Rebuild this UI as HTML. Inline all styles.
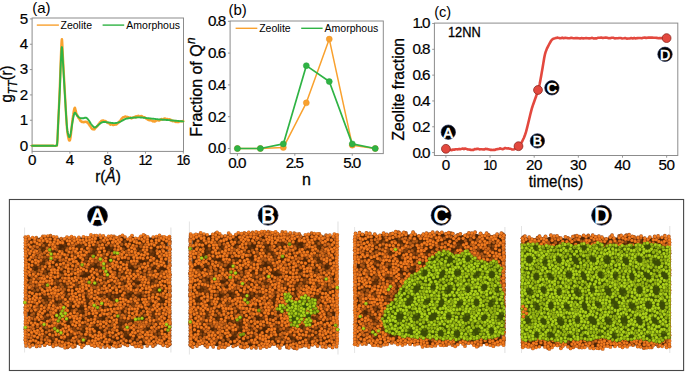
<!DOCTYPE html>
<html><head><meta charset="utf-8"><title>Figure</title><style>html,body{margin:0;padding:0;background:#fff}</style></head><body>
<svg width="685" height="373" viewBox="0 0 685 373" font-family='"Liberation Sans", sans-serif' style="display:block">
<rect width="685" height="373" fill="#fff"/>
<rect x="32.1" y="18.0" width="151.40" height="133.40" fill="none" stroke="#8c8c8c" stroke-width="1"/>
<line x1="32.10" y1="151.4" x2="32.10" y2="153.6" stroke="#8c8c8c" stroke-width="0.9"/>
<text transform="translate(31.91,165.40) scale(1.085,1)" stroke="#000" stroke-width="0.2" font-size="14.0" text-anchor="middle" letter-spacing="-0.35" fill="#000">0</text>
<line x1="69.90" y1="151.4" x2="69.90" y2="153.6" stroke="#8c8c8c" stroke-width="0.9"/>
<text transform="translate(69.71,165.40) scale(1.085,1)" stroke="#000" stroke-width="0.2" font-size="14.0" text-anchor="middle" letter-spacing="-0.35" fill="#000">4</text>
<line x1="107.70" y1="151.4" x2="107.70" y2="153.6" stroke="#8c8c8c" stroke-width="0.9"/>
<text transform="translate(107.51,165.40) scale(1.085,1)" stroke="#000" stroke-width="0.2" font-size="14.0" text-anchor="middle" letter-spacing="-0.35" fill="#000">8</text>
<line x1="145.50" y1="151.4" x2="145.50" y2="153.6" stroke="#8c8c8c" stroke-width="0.9"/>
<text transform="translate(144.87,165.40) scale(0.97,1)" stroke="#000" stroke-width="0.2" font-size="14.0" text-anchor="middle" letter-spacing="-1.3" fill="#000">12</text>
<line x1="183.30" y1="151.4" x2="183.30" y2="153.6" stroke="#8c8c8c" stroke-width="0.9"/>
<text transform="translate(182.67,165.40) scale(0.97,1)" stroke="#000" stroke-width="0.2" font-size="14.0" text-anchor="middle" letter-spacing="-1.3" fill="#000">16</text>
<line x1="29.900000000000002" y1="145.60" x2="32.1" y2="145.60" stroke="#8c8c8c" stroke-width="0.9"/>
<text transform="translate(26.70,150.50) scale(1.085,1)" stroke="#000" stroke-width="0.2" font-size="14.0" text-anchor="end" letter-spacing="-1.38" fill="#000">0</text>
<line x1="29.900000000000002" y1="120.26" x2="32.1" y2="120.26" stroke="#8c8c8c" stroke-width="0.9"/>
<text transform="translate(26.70,125.16) scale(1.085,1)" stroke="#000" stroke-width="0.2" font-size="14.0" text-anchor="end" letter-spacing="-1.38" fill="#000">1</text>
<line x1="29.900000000000002" y1="94.92" x2="32.1" y2="94.92" stroke="#8c8c8c" stroke-width="0.9"/>
<text transform="translate(26.70,99.82) scale(1.085,1)" stroke="#000" stroke-width="0.2" font-size="14.0" text-anchor="end" letter-spacing="-1.38" fill="#000">2</text>
<line x1="29.900000000000002" y1="69.58" x2="32.1" y2="69.58" stroke="#8c8c8c" stroke-width="0.9"/>
<text transform="translate(26.70,74.48) scale(1.085,1)" stroke="#000" stroke-width="0.2" font-size="14.0" text-anchor="end" letter-spacing="-1.38" fill="#000">3</text>
<line x1="29.900000000000002" y1="44.24" x2="32.1" y2="44.24" stroke="#8c8c8c" stroke-width="0.9"/>
<text transform="translate(26.70,49.14) scale(1.085,1)" stroke="#000" stroke-width="0.2" font-size="14.0" text-anchor="end" letter-spacing="-1.38" fill="#000">4</text>
<line x1="29.900000000000002" y1="18.90" x2="32.1" y2="18.90" stroke="#8c8c8c" stroke-width="0.9"/>
<text transform="translate(26.70,23.80) scale(1.085,1)" stroke="#000" stroke-width="0.2" font-size="14.0" text-anchor="end" letter-spacing="-1.38" fill="#000">5</text>
<polyline points="32.10,145.70 33.56,145.70 35.60,145.70 38.02,145.70 40.68,145.70 43.37,145.70 45.94,145.70 48.21,145.70 50.00,145.70 51.35,145.72 52.45,145.76 53.33,145.82 54.04,145.87 54.62,145.90 55.12,145.89 55.56,145.83 56.00,145.70 56.38,145.60 56.64,145.57 56.81,145.56 56.92,145.47 56.98,145.25 57.03,144.81 57.10,144.09 57.20,143.00 57.32,141.60 57.43,139.97 57.53,138.12 57.62,136.02 57.72,133.67 57.83,131.05 57.96,128.17 58.10,125.00 58.27,121.42 58.46,117.40 58.67,113.03 58.88,108.44 59.10,103.73 59.31,99.01 59.51,94.40 59.70,90.00 59.87,85.68 60.03,81.25 60.19,76.81 60.34,72.42 60.48,68.17 60.62,64.13 60.76,60.38 60.90,57.00 61.03,53.80 61.16,50.65 61.29,47.65 61.41,44.92 61.53,42.60 61.65,40.79 61.78,39.62 61.90,39.20 62.02,39.62 62.13,40.79 62.24,42.60 62.35,44.93 62.47,47.65 62.59,50.65 62.74,53.80 62.90,57.00 63.08,60.38 63.29,64.11 63.50,68.13 63.73,72.36 63.97,76.74 64.21,81.18 64.46,85.63 64.70,90.00 64.95,94.53 65.22,99.38 65.50,104.38 65.77,109.38 66.05,114.20 66.32,118.69 66.57,122.68 66.80,126.00 67.01,128.62 67.20,130.68 67.39,132.28 67.56,133.53 67.72,134.52 67.88,135.36 68.04,136.15 68.20,137.00 68.36,137.85 68.51,138.59 68.66,139.21 68.81,139.71 68.96,140.10 69.10,140.38 69.25,140.55 69.40,140.60 69.55,140.59 69.68,140.52 69.82,140.37 69.96,140.09 70.10,139.65 70.25,139.01 70.42,138.14 70.60,137.00 70.80,135.48 71.02,133.57 71.25,131.37 71.49,129.01 71.74,126.58 71.99,124.19 72.25,121.79 72.50,119.65 72.75,118.32 73.02,115.88 73.28,114.52 73.55,112.63 73.82,110.77 74.08,109.92 74.35,108.46 74.60,108.23 74.84,107.71 75.06,107.98 75.28,108.90 75.49,110.12 75.72,110.37 75.95,111.47 76.21,112.82 76.50,113.95 76.82,114.31 77.17,114.92 77.54,116.31 77.93,116.20 78.33,117.82 78.72,118.00 79.12,118.55 79.50,119.12 79.87,119.83 80.24,120.80 80.60,120.57 80.97,121.33 81.34,121.70 81.71,121.69 82.10,122.08 82.50,121.76 82.92,121.84 83.36,121.97 83.82,122.37 84.28,121.99 84.74,121.75 85.18,121.91 85.61,121.72 86.00,121.60 86.36,122.19 86.70,122.22 87.01,121.93 87.31,122.45 87.61,122.63 87.90,123.24 88.19,123.39 88.50,123.29 88.81,124.39 89.12,124.01 89.42,124.85 89.73,125.75 90.04,125.71 90.35,126.59 90.67,126.63 91.00,127.67 91.33,128.13 91.67,128.29 92.01,128.93 92.36,128.66 92.71,129.28 93.06,129.34 93.43,129.40 93.80,129.26 94.17,129.50 94.54,129.36 94.91,128.55 95.29,128.34 95.68,127.28 96.09,127.42 96.53,126.86 97.00,126.69 97.51,125.95 98.06,124.74 98.63,124.11 99.23,123.65 99.83,122.29 100.43,122.08 101.03,121.25 101.60,120.82 102.16,120.54 102.72,121.14 103.28,120.50 103.84,120.69 104.39,120.96 104.93,121.60 105.47,121.00 106.00,121.55 106.52,121.86 107.03,122.48 107.53,122.73 108.03,123.13 108.52,122.89 109.01,123.37 109.50,123.61 110.00,124.38 110.50,124.67 111.00,124.07 111.50,124.29 112.00,124.51 112.50,124.64 113.00,124.98 113.50,125.12 114.00,124.76 114.50,124.41 115.01,124.68 115.52,124.43 116.03,124.38 116.54,124.48 117.04,123.90 117.52,123.38 118.00,123.12 118.46,122.76 118.91,121.65 119.36,121.96 119.79,121.28 120.22,120.82 120.65,120.20 121.08,119.31 121.50,118.90 121.92,118.24 122.33,118.43 122.73,117.55 123.14,117.28 123.54,117.18 123.95,116.93 124.37,116.95 124.80,116.55 125.24,116.45 125.69,116.63 126.14,116.65 126.59,117.02 127.06,116.81 127.53,117.78 128.01,117.64 128.50,117.25 129.00,117.42 129.52,117.58 130.06,117.67 130.59,117.49 131.13,118.27 131.67,118.44 132.19,117.91 132.70,117.88 133.19,117.39 133.67,117.27 134.15,117.34 134.61,117.06 135.08,117.43 135.55,116.57 136.02,116.26 136.50,117.05 136.99,116.51 137.47,116.02 137.96,116.31 138.46,115.70 138.95,116.13 139.46,116.54 139.97,116.42 140.50,116.30 141.04,115.94 141.59,116.17 142.15,116.13 142.72,116.92 143.29,116.89 143.86,117.37 144.43,117.17 145.00,117.32 145.57,118.21 146.13,118.72 146.71,118.97 147.28,119.31 147.84,119.70 148.40,119.98 148.96,119.78 149.50,120.32 150.03,120.35 150.55,120.17 151.05,120.29 151.56,120.63 152.06,120.67 152.56,121.15 153.08,121.44 153.60,120.95 154.14,121.44 154.69,121.47 155.25,121.39 155.81,120.74 156.37,120.52 156.92,120.44 157.47,120.31 158.00,120.20 158.52,120.49 159.03,120.61 159.54,120.37 160.04,119.82 160.53,119.81 161.02,119.78 161.51,118.91 162.00,119.36 162.48,119.51 162.95,119.29 163.42,119.17 163.89,118.83 164.35,118.49 164.83,119.07 165.31,118.61 165.80,119.10 166.31,119.33 166.83,118.84 167.35,118.96 167.89,119.63 168.42,119.56 168.95,119.16 169.48,119.27 170.00,119.45 170.51,120.37 171.01,120.45 171.51,119.98 172.01,120.86 172.51,121.20 173.00,121.06 173.50,120.92 174.00,121.25 174.49,120.94 174.97,120.93 175.44,121.97 175.92,121.72 176.40,121.65 176.91,122.10 177.44,121.63 178.00,122.07 178.64,122.01 179.36,121.34 180.13,121.32 180.90,121.27 181.64,121.14 182.32,121.40 182.88,121.00 183.30,121.12" fill="none" stroke="#f9a12e" stroke-width="2.4" stroke-linejoin="round" stroke-linecap="round" />
<polyline points="32.10,145.70 33.56,145.70 35.60,145.70 38.02,145.70 40.68,145.70 43.37,145.70 45.94,145.70 48.21,145.70 50.00,145.70 51.35,145.72 52.45,145.76 53.33,145.82 54.04,145.87 54.62,145.90 55.12,145.89 55.56,145.83 56.00,145.70 56.38,145.60 56.64,145.57 56.81,145.56 56.92,145.47 56.98,145.25 57.03,144.81 57.10,144.09 57.20,143.00 57.32,141.60 57.43,139.97 57.52,138.12 57.62,136.02 57.72,133.67 57.83,131.05 57.95,128.17 58.10,125.00 58.28,121.40 58.48,117.30 58.71,112.86 58.94,108.19 59.17,103.43 59.40,98.73 59.61,94.20 59.80,90.00 59.97,85.98 60.12,81.97 60.26,78.02 60.39,74.18 60.52,70.51 60.65,67.05 60.77,63.86 60.90,61.00 61.03,58.35 61.16,55.81 61.28,53.46 61.41,51.37 61.53,49.61 61.65,48.27 61.78,47.40 61.90,47.10 62.02,47.40 62.13,48.27 62.24,49.61 62.36,51.37 62.47,53.46 62.60,55.81 62.74,58.35 62.90,61.00 63.08,63.86 63.26,67.05 63.46,70.51 63.67,74.18 63.90,78.02 64.12,81.97 64.36,85.98 64.60,90.00 64.86,94.26 65.13,98.93 65.42,103.81 65.72,108.72 66.01,113.48 66.29,117.90 66.56,121.80 66.80,125.00 67.01,127.45 67.21,129.33 67.39,130.73 67.56,131.78 67.72,132.56 67.88,133.21 68.04,133.82 68.20,134.50 68.36,135.19 68.51,135.77 68.66,136.23 68.81,136.59 68.96,136.85 69.10,137.01 69.25,137.09 69.40,137.10 69.55,137.05 69.68,136.93 69.82,136.75 69.96,136.46 70.10,136.06 70.25,135.53 70.42,134.85 70.60,134.00 70.80,132.91 71.02,131.56 71.25,130.02 71.49,128.38 71.74,126.68 71.99,125.00 72.25,123.42 72.50,122.00 72.75,120.64 73.00,119.25 73.26,117.86 73.52,116.54 73.78,115.33 74.05,114.28 74.32,113.46 74.60,112.90 74.88,112.67 75.17,112.73 75.46,113.03 75.75,113.48 76.05,114.03 76.36,114.59 76.67,115.10 77.00,115.50 77.34,115.82 77.69,116.16 78.04,116.50 78.41,116.84 78.78,117.16 79.15,117.45 79.52,117.70 79.90,117.90 80.28,118.05 80.66,118.16 81.05,118.24 81.44,118.29 81.84,118.31 82.23,118.32 82.62,118.31 83.00,118.30 83.38,118.25 83.77,118.15 84.15,118.02 84.54,117.88 84.92,117.76 85.29,117.67 85.65,117.64 86.00,117.70 86.33,117.83 86.65,118.02 86.95,118.25 87.25,118.53 87.55,118.85 87.85,119.20 88.17,119.59 88.50,120.00 88.85,120.47 89.21,121.01 89.58,121.59 89.96,122.21 90.34,122.83 90.72,123.43 91.11,123.99 91.50,124.50 91.89,124.98 92.28,125.48 92.68,125.96 93.08,126.42 93.48,126.82 93.89,127.15 94.29,127.38 94.70,127.50 95.10,127.48 95.49,127.34 95.88,127.10 96.27,126.78 96.67,126.42 97.09,126.04 97.53,125.65 98.00,125.30 98.50,124.93 99.02,124.51 99.56,124.06 100.11,123.60 100.69,123.16 101.28,122.76 101.88,122.44 102.50,122.20 103.13,122.06 103.78,122.01 104.44,122.01 105.11,122.06 105.81,122.14 106.52,122.24 107.25,122.33 108.00,122.40 108.79,122.48 109.62,122.59 110.49,122.71 111.36,122.84 112.24,122.96 113.10,123.05 113.92,123.10 114.70,123.10 115.43,123.04 116.11,122.95 116.77,122.83 117.41,122.67 118.04,122.49 118.68,122.28 119.33,122.05 120.00,121.80 120.69,121.50 121.38,121.15 122.08,120.75 122.79,120.34 123.50,119.93 124.22,119.54 124.96,119.19 125.70,118.90 126.45,118.67 127.20,118.48 127.96,118.32 128.73,118.19 129.52,118.08 130.32,117.98 131.15,117.89 132.00,117.80 132.90,117.71 133.84,117.63 134.81,117.55 135.79,117.49 136.78,117.45 137.75,117.41 138.70,117.40 139.60,117.40 140.45,117.43 141.26,117.48 142.04,117.54 142.80,117.63 143.56,117.72 144.34,117.81 145.15,117.91 146.00,118.00 146.90,118.09 147.84,118.19 148.81,118.29 149.80,118.39 150.79,118.50 151.76,118.60 152.70,118.70 153.60,118.80 154.45,118.89 155.26,118.99 156.04,119.08 156.81,119.17 157.57,119.26 158.35,119.34 159.16,119.42 160.00,119.50 160.88,119.57 161.80,119.63 162.73,119.69 163.68,119.75 164.64,119.81 165.60,119.87 166.55,119.93 167.50,120.00 168.43,120.08 169.36,120.16 170.28,120.25 171.20,120.34 172.13,120.43 173.07,120.52 174.02,120.61 175.00,120.70 176.06,120.79 177.21,120.89 178.42,120.99 179.62,121.09 180.76,121.19 181.79,121.27 182.65,121.35 183.30,121.40" fill="none" stroke="#2fb344" stroke-width="1.9" stroke-linejoin="round" stroke-linecap="round" />
<line x1="36.8" y1="25.1" x2="58.9" y2="25.1" stroke="#f9a12e" stroke-width="1.4"/>
<text x="60.50" y="28.60" font-size="10.5" text-anchor="start" fill="#000" >Zeolite</text>
<line x1="102.6" y1="25.1" x2="124.2" y2="25.1" stroke="#2fb344" stroke-width="1.4"/>
<text x="126.30" y="28.60" font-size="10.5" text-anchor="start" fill="#000" >Amorphous</text>
<text x="32.20" y="12.70" font-size="15" text-anchor="start" fill="#000" >(a)</text>
<text transform="translate(108,181.6) scale(0.91,1)" font-size="16.9" text-anchor="middle" fill="#000" stroke="#000" stroke-width="0.3">r(<tspan font-style="italic">Å</tspan>)</text>
<text transform="translate(12.4,84.0) rotate(-90) scale(0.87,1)" font-size="16.9" text-anchor="middle" fill="#000" stroke="#000" stroke-width="0.3">g<tspan font-size="12.6" font-style="italic" dy="4.2" letter-spacing="0.3">TT</tspan><tspan dy="-4.2">(r)</tspan></text>
<rect x="230.1" y="21.0" width="153.20" height="132.60" fill="none" stroke="#8c8c8c" stroke-width="1"/>
<line x1="237.40" y1="153.6" x2="237.40" y2="155.79999999999998" stroke="#8c8c8c" stroke-width="0.9"/>
<text transform="translate(236.65,167.60) scale(1.085,1)" stroke="#000" stroke-width="0.2" font-size="14.0" text-anchor="middle" letter-spacing="-1.38" fill="#000">0.0</text>
<line x1="294.82" y1="153.6" x2="294.82" y2="155.79999999999998" stroke="#8c8c8c" stroke-width="0.9"/>
<text transform="translate(294.08,167.60) scale(1.085,1)" stroke="#000" stroke-width="0.2" font-size="14.0" text-anchor="middle" letter-spacing="-1.38" fill="#000">2.5</text>
<line x1="352.25" y1="153.6" x2="352.25" y2="155.79999999999998" stroke="#8c8c8c" stroke-width="0.9"/>
<text transform="translate(351.50,167.60) scale(1.085,1)" stroke="#000" stroke-width="0.2" font-size="14.0" text-anchor="middle" letter-spacing="-1.38" fill="#000">5.0</text>
<line x1="227.9" y1="148.50" x2="230.1" y2="148.50" stroke="#8c8c8c" stroke-width="0.9"/>
<text transform="translate(224.70,153.40) scale(1.085,1)" stroke="#000" stroke-width="0.2" font-size="14.0" text-anchor="end" letter-spacing="-1.38" fill="#000">0.0</text>
<line x1="227.9" y1="116.70" x2="230.1" y2="116.70" stroke="#8c8c8c" stroke-width="0.9"/>
<text transform="translate(224.70,121.60) scale(1.085,1)" stroke="#000" stroke-width="0.2" font-size="14.0" text-anchor="end" letter-spacing="-1.38" fill="#000">0.2</text>
<line x1="227.9" y1="84.90" x2="230.1" y2="84.90" stroke="#8c8c8c" stroke-width="0.9"/>
<text transform="translate(224.70,89.80) scale(1.085,1)" stroke="#000" stroke-width="0.2" font-size="14.0" text-anchor="end" letter-spacing="-1.38" fill="#000">0.4</text>
<line x1="227.9" y1="53.10" x2="230.1" y2="53.10" stroke="#8c8c8c" stroke-width="0.9"/>
<text transform="translate(224.70,58.00) scale(1.085,1)" stroke="#000" stroke-width="0.2" font-size="14.0" text-anchor="end" letter-spacing="-1.38" fill="#000">0.6</text>
<line x1="227.9" y1="21.30" x2="230.1" y2="21.30" stroke="#8c8c8c" stroke-width="0.9"/>
<text transform="translate(224.70,26.20) scale(1.085,1)" stroke="#000" stroke-width="0.2" font-size="14.0" text-anchor="end" letter-spacing="-1.38" fill="#000">0.8</text>
<polyline points="237.40,148.50 260.37,148.50 283.34,147.55 306.31,102.87 329.28,39.11 352.25,145.16 375.22,148.50" fill="none" stroke="#f9a12e" stroke-width="1.5" stroke-linejoin="round" stroke-linecap="round" />
<circle cx="237.40" cy="148.50" r="3.0" fill="#f9a12e" stroke="#e8942a" stroke-width="0.5"/>
<circle cx="260.37" cy="148.50" r="3.0" fill="#f9a12e" stroke="#e8942a" stroke-width="0.5"/>
<circle cx="283.34" cy="147.55" r="3.0" fill="#f9a12e" stroke="#e8942a" stroke-width="0.5"/>
<circle cx="306.31" cy="102.87" r="3.0" fill="#f9a12e" stroke="#e8942a" stroke-width="0.5"/>
<circle cx="329.28" cy="39.11" r="3.0" fill="#f9a12e" stroke="#e8942a" stroke-width="0.5"/>
<circle cx="352.25" cy="145.16" r="3.0" fill="#f9a12e" stroke="#e8942a" stroke-width="0.5"/>
<circle cx="375.22" cy="148.50" r="3.0" fill="#f9a12e" stroke="#e8942a" stroke-width="0.5"/>
<polyline points="237.40,148.50 260.37,148.50 283.34,143.89 306.31,65.66 329.28,81.56 352.25,143.89 375.22,148.50" fill="none" stroke="#2fb344" stroke-width="1.7" stroke-linejoin="round" stroke-linecap="round" />
<circle cx="237.40" cy="148.50" r="3.0" fill="#2fb344" stroke="#28a03c" stroke-width="0.5"/>
<circle cx="260.37" cy="148.50" r="3.0" fill="#2fb344" stroke="#28a03c" stroke-width="0.5"/>
<circle cx="283.34" cy="143.89" r="3.0" fill="#2fb344" stroke="#28a03c" stroke-width="0.5"/>
<circle cx="306.31" cy="65.66" r="3.0" fill="#2fb344" stroke="#28a03c" stroke-width="0.5"/>
<circle cx="329.28" cy="81.56" r="3.0" fill="#2fb344" stroke="#28a03c" stroke-width="0.5"/>
<circle cx="352.25" cy="143.89" r="3.0" fill="#2fb344" stroke="#28a03c" stroke-width="0.5"/>
<circle cx="375.22" cy="148.50" r="3.0" fill="#2fb344" stroke="#28a03c" stroke-width="0.5"/>
<line x1="235.6" y1="28.3" x2="257.3" y2="28.3" stroke="#f9a12e" stroke-width="1.4"/>
<text x="259.20" y="31.80" font-size="10.5" text-anchor="start" fill="#000" >Zeolite</text>
<line x1="301.2" y1="28.3" x2="322.6" y2="28.3" stroke="#2fb344" stroke-width="1.4"/>
<text x="324.60" y="31.80" font-size="10.5" text-anchor="start" fill="#000" >Amorphous</text>
<text x="228.40" y="14.50" font-size="15" text-anchor="start" fill="#000" >(b)</text>
<text transform="translate(306.4,185.1) scale(0.95,1)" font-size="16.9" text-anchor="middle" fill="#000" stroke="#000" stroke-width="0.3">n</text>
<text transform="translate(201.5,87.0) rotate(-90) scale(0.945,1)" font-size="16.9" text-anchor="middle" fill="#000" stroke="#000" stroke-width="0.3">Fraction of Q<tspan font-size="12.5" font-style="italic" dy="-6.5" dx="0.5">n</tspan></text>
<rect x="434.4" y="23.1" width="243.40" height="132.40" fill="none" stroke="#8c8c8c" stroke-width="1"/>
<line x1="445.90" y1="155.5" x2="445.90" y2="157.7" stroke="#8c8c8c" stroke-width="0.9"/>
<text transform="translate(445.71,169.50) scale(1.085,1)" stroke="#000" stroke-width="0.2" font-size="14.0" text-anchor="middle" letter-spacing="-0.35" fill="#000">0</text>
<line x1="490.05" y1="155.5" x2="490.05" y2="157.7" stroke="#8c8c8c" stroke-width="0.9"/>
<text transform="translate(489.42,169.50) scale(0.97,1)" stroke="#000" stroke-width="0.2" font-size="14.0" text-anchor="middle" letter-spacing="-1.3" fill="#000">10</text>
<line x1="534.20" y1="155.5" x2="534.20" y2="157.7" stroke="#8c8c8c" stroke-width="0.9"/>
<text transform="translate(534.01,169.50) scale(1.085,1)" stroke="#000" stroke-width="0.2" font-size="14.0" text-anchor="middle" letter-spacing="-0.35" fill="#000">20</text>
<line x1="578.35" y1="155.5" x2="578.35" y2="157.7" stroke="#8c8c8c" stroke-width="0.9"/>
<text transform="translate(578.16,169.50) scale(1.085,1)" stroke="#000" stroke-width="0.2" font-size="14.0" text-anchor="middle" letter-spacing="-0.35" fill="#000">30</text>
<line x1="622.50" y1="155.5" x2="622.50" y2="157.7" stroke="#8c8c8c" stroke-width="0.9"/>
<text transform="translate(622.31,169.50) scale(1.085,1)" stroke="#000" stroke-width="0.2" font-size="14.0" text-anchor="middle" letter-spacing="-0.35" fill="#000">40</text>
<line x1="666.65" y1="155.5" x2="666.65" y2="157.7" stroke="#8c8c8c" stroke-width="0.9"/>
<text transform="translate(666.46,169.50) scale(1.085,1)" stroke="#000" stroke-width="0.2" font-size="14.0" text-anchor="middle" letter-spacing="-0.35" fill="#000">50</text>
<line x1="432.2" y1="152.60" x2="434.4" y2="152.60" stroke="#8c8c8c" stroke-width="0.9"/>
<text transform="translate(429.00,157.50) scale(1.085,1)" stroke="#000" stroke-width="0.2" font-size="14.0" text-anchor="end" letter-spacing="-1.38" fill="#000">0.0</text>
<line x1="432.2" y1="126.78" x2="434.4" y2="126.78" stroke="#8c8c8c" stroke-width="0.9"/>
<text transform="translate(429.00,131.68) scale(1.085,1)" stroke="#000" stroke-width="0.2" font-size="14.0" text-anchor="end" letter-spacing="-1.38" fill="#000">0.2</text>
<line x1="432.2" y1="100.96" x2="434.4" y2="100.96" stroke="#8c8c8c" stroke-width="0.9"/>
<text transform="translate(429.00,105.86) scale(1.085,1)" stroke="#000" stroke-width="0.2" font-size="14.0" text-anchor="end" letter-spacing="-1.38" fill="#000">0.4</text>
<line x1="432.2" y1="75.14" x2="434.4" y2="75.14" stroke="#8c8c8c" stroke-width="0.9"/>
<text transform="translate(429.00,80.04) scale(1.085,1)" stroke="#000" stroke-width="0.2" font-size="14.0" text-anchor="end" letter-spacing="-1.38" fill="#000">0.6</text>
<line x1="432.2" y1="49.32" x2="434.4" y2="49.32" stroke="#8c8c8c" stroke-width="0.9"/>
<text transform="translate(429.00,54.22) scale(1.085,1)" stroke="#000" stroke-width="0.2" font-size="14.0" text-anchor="end" letter-spacing="-1.38" fill="#000">0.8</text>
<line x1="432.2" y1="23.50" x2="434.4" y2="23.50" stroke="#8c8c8c" stroke-width="0.9"/>
<text transform="translate(429.00,28.40) scale(1.085,1)" stroke="#000" stroke-width="0.2" font-size="14.0" text-anchor="end" letter-spacing="-1.38" fill="#000">1.0</text>
<polyline points="445.90,148.80 447.10,149.64 448.30,149.41 449.50,149.72 450.70,149.89 451.90,150.10 453.10,149.43 454.30,149.75 455.50,149.25 456.70,149.29 457.90,149.36 459.10,148.90 460.30,149.28 461.50,148.88 462.70,148.50 463.90,149.12 465.10,148.44 466.30,148.87 467.50,149.40 468.70,149.56 469.90,149.62 471.10,149.94 472.30,149.92 473.50,149.93 474.70,148.98 475.90,149.21 477.10,148.79 478.30,148.84 479.50,149.43 480.70,149.25 481.90,149.31 483.10,149.42 484.30,149.45 485.50,148.89 486.70,149.09 487.90,149.15 489.10,149.44 490.30,149.91 491.50,149.87 492.70,149.96 493.90,149.71 495.10,149.84 496.30,149.23 497.50,149.12 498.70,149.04 499.90,148.35 501.10,148.71 502.30,149.13 503.50,148.99 504.70,148.14 505.90,148.14 507.10,148.54 508.30,148.32 509.50,148.70 510.70,148.74 511.90,149.46 513.10,149.50 514.30,149.31 515.50,148.05 516.70,148.00 518.50,146.20 518.50,146.20 518.85,145.82 519.34,145.29 519.91,144.66 520.49,143.98 521.00,143.30 521.46,142.59 521.90,141.83 522.32,141.04 522.72,140.26 523.10,139.50 523.44,138.79 523.75,138.11 524.04,137.43 524.32,136.73 524.60,136.00 524.89,135.24 525.17,134.47 525.44,133.66 525.72,132.81 526.00,131.90 526.28,130.91 526.56,129.85 526.84,128.75 527.12,127.63 527.40,126.50 527.66,125.45 527.89,124.47 528.14,123.44 528.43,122.22 528.80,120.70 529.27,118.75 529.82,116.44 530.41,113.98 531.02,111.56 531.60,109.40 532.17,107.49 532.76,105.70 533.34,104.02 533.89,102.45 534.40,101.00 534.86,99.70 535.28,98.55 535.67,97.49 536.04,96.46 536.40,95.40 536.74,94.33 537.06,93.29 537.36,92.24 537.67,91.16 538.00,90.00 538.34,88.85 538.68,87.73 539.03,86.52 539.40,85.08 539.80,83.30 540.24,81.08 540.71,78.51 541.20,75.72 541.70,72.84 542.20,70.00 542.71,67.03 543.23,63.85 543.75,60.71 544.25,57.84 544.70,55.50 545.09,53.80 545.43,52.58 545.74,51.67 546.06,50.87 546.40,50.00 546.74,49.12 547.06,48.36 547.41,47.62 547.81,46.83 548.30,45.90 548.91,44.74 549.62,43.40 550.38,42.03 551.15,40.78 551.90,39.80 552.68,39.14 553.51,38.68 554.32,38.38 555.01,38.18 555.50,38.00 556.20,38.01 557.70,37.62 559.20,38.12 560.70,38.18 562.20,37.66 563.70,38.19 565.20,37.83 566.70,37.93 568.20,38.32 569.70,38.26 571.20,37.84 572.70,38.09 574.20,38.20 575.70,38.12 577.20,38.06 578.70,38.18 580.20,38.49 581.70,38.01 583.20,38.39 584.70,38.30 586.20,37.98 587.70,38.17 589.20,38.34 590.70,38.21 592.20,37.85 593.70,38.44 595.20,38.25 596.70,38.33 598.20,37.68 599.70,37.75 601.20,37.56 602.70,38.06 604.20,37.69 605.70,37.59 607.20,37.81 608.70,38.18 610.20,38.15 611.70,37.79 613.20,37.77 614.70,38.36 616.20,38.17 617.70,38.31 619.20,37.93 620.70,37.95 622.20,38.43 623.70,38.27 625.20,38.04 626.70,38.66 628.20,38.44 629.70,38.54 631.20,38.01 632.70,38.51 634.20,37.92 635.70,38.43 637.20,38.09 638.70,37.95 640.20,38.05 641.70,38.26 643.20,37.76 644.70,37.63 646.20,37.89 647.70,37.67 649.20,37.58 650.70,37.62 652.20,37.57 653.70,37.70 655.20,37.82 656.70,37.86 658.20,38.23 659.70,37.95 661.20,38.15 662.70,37.98 664.20,38.14 665.70,37.95 666.60,38.10" fill="none" stroke="#e3483e" stroke-width="2.6" stroke-linejoin="round" stroke-linecap="round" />
<circle cx="445.9" cy="148.8" r="4.4" fill="#e3483e" stroke="#8e2a22" stroke-width="0.8"/>
<circle cx="518.5" cy="146.2" r="4.4" fill="#e3483e" stroke="#8e2a22" stroke-width="0.8"/>
<circle cx="538.0" cy="90.0" r="4.4" fill="#e3483e" stroke="#8e2a22" stroke-width="0.8"/>
<circle cx="666.6" cy="38.1" r="4.4" fill="#e3483e" stroke="#8e2a22" stroke-width="0.8"/>
<circle cx="448.3" cy="132.2" r="7.2" fill="#000" stroke="#1b2a55" stroke-width="0.7"/>
<text transform="translate(448.3,137.60) scale(0.97,1)" font-size="14.5" text-anchor="middle" fill="#fff" stroke="#fff" stroke-width="0.72">A</text>
<circle cx="537.4" cy="140.9" r="7.2" fill="#000" stroke="#1b2a55" stroke-width="0.7"/>
<text transform="translate(537.4,146.30) scale(0.97,1)" font-size="14.5" text-anchor="middle" fill="#fff" stroke="#fff" stroke-width="0.72">B</text>
<circle cx="551.9" cy="87.8" r="7.2" fill="#000" stroke="#1b2a55" stroke-width="0.7"/>
<text transform="translate(551.9,93.20) scale(0.97,1)" font-size="14.5" text-anchor="middle" fill="#fff" stroke="#fff" stroke-width="0.72">C</text>
<circle cx="665.0" cy="54.3" r="7.2" fill="#000" stroke="#1b2a55" stroke-width="0.7"/>
<text transform="translate(665.0,59.70) scale(0.97,1)" font-size="14.5" text-anchor="middle" fill="#fff" stroke="#fff" stroke-width="0.72">D</text>
<text transform="translate(447.9,37.2) scale(0.89,1)" font-size="14.4" fill="#000" stroke="#000" stroke-width="0.3">12NN</text>
<text x="434.20" y="17.00" font-size="14.6" text-anchor="start" fill="#000" >(c)</text>
<text transform="translate(556,187.1) scale(0.89,1)" font-size="16.9" text-anchor="middle" fill="#000" stroke="#000" stroke-width="0.3">time(ns)</text>
<text transform="translate(404.3,89.2) rotate(-90) scale(0.925,1)" font-size="16.9" text-anchor="middle" fill="#000" stroke="#000" stroke-width="0.3">Zeolite fraction</text>
<rect x="9.4" y="199.5" width="674.2" height="171" fill="#fff" stroke="#474747" stroke-width="1.1"/>
<defs>
<radialGradient id="go0" cx="0.46" cy="0.44" r="0.56"><stop offset="0" stop-color="#f48627"/><stop offset="0.55" stop-color="#e97219"/><stop offset="1" stop-color="#8e3f0e"/></radialGradient>
<circle id="o0" r="1.85" fill="url(#go0)"/>
<radialGradient id="go1" cx="0.46" cy="0.44" r="0.56"><stop offset="0" stop-color="#d8701e"/><stop offset="0.55" stop-color="#ca6317"/><stop offset="1" stop-color="#7c380d"/></radialGradient>
<circle id="o1" r="1.85" fill="url(#go1)"/>
<radialGradient id="go2" cx="0.46" cy="0.44" r="0.56"><stop offset="0" stop-color="#b85e18"/><stop offset="0.55" stop-color="#aa5414"/><stop offset="1" stop-color="#7a3c0e"/></radialGradient>
<circle id="o2" r="1.85" fill="url(#go2)"/>
<radialGradient id="go3" cx="0.46" cy="0.44" r="0.56"><stop offset="0" stop-color="#904a12"/><stop offset="0.55" stop-color="#84400e"/><stop offset="1" stop-color="#5e300a"/></radialGradient>
<circle id="o3" r="1.85" fill="url(#go3)"/>
<radialGradient id="go4" cx="0.46" cy="0.44" r="0.56"><stop offset="0" stop-color="#6c360c"/><stop offset="0.55" stop-color="#623008"/><stop offset="1" stop-color="#482406"/></radialGradient>
<circle id="o4" r="1.85" fill="url(#go4)"/>
<radialGradient id="gg0" cx="0.46" cy="0.44" r="0.56"><stop offset="0" stop-color="#b6d822"/><stop offset="0.55" stop-color="#a3c715"/><stop offset="1" stop-color="#4e6808"/></radialGradient>
<circle id="g0" r="1.85" fill="url(#gg0)"/>
<radialGradient id="gg1" cx="0.46" cy="0.44" r="0.56"><stop offset="0" stop-color="#9cba16"/><stop offset="0.55" stop-color="#8dab10"/><stop offset="1" stop-color="#455c06"/></radialGradient>
<circle id="g1" r="1.85" fill="url(#gg1)"/>
<radialGradient id="gg2" cx="0.46" cy="0.44" r="0.56"><stop offset="0" stop-color="#84a010"/><stop offset="0.55" stop-color="#78920c"/><stop offset="1" stop-color="#485e06"/></radialGradient>
<circle id="g2" r="1.85" fill="url(#gg2)"/>
<radialGradient id="gg3" cx="0.46" cy="0.44" r="0.56"><stop offset="0" stop-color="#6c840c"/><stop offset="0.55" stop-color="#62780a"/><stop offset="1" stop-color="#3e5006"/></radialGradient>
<circle id="g3" r="1.85" fill="url(#gg3)"/>
<radialGradient id="gg4" cx="0.46" cy="0.44" r="0.56"><stop offset="0" stop-color="#566a08"/><stop offset="0.55" stop-color="#4c6006"/><stop offset="1" stop-color="#344404"/></radialGradient>
<circle id="g4" r="1.85" fill="url(#gg4)"/>
<g id="osheet"><path d="M3.4 5.2 L5.9 5.4 L8.4 6.1 L10.9 6.3 L13.4 5.8 L15.9 5.5 L18.4 4.8 L20.9 4.5 L23.4 3.7 L25.9 3.6 L28.4 4.4 L30.9 4.7 L33.4 5.6 L35.9 5.9 L38.4 6.2 L40.9 6.3 L43.4 6.2 L45.9 6 L48.4 5 L50.9 4.8 L53.4 5.5 L55.9 5.7 L58.4 5.2 L60.9 4.9 L63.4 4.3 L65.9 4.1 L68.4 3.8 L70.9 3.7 L73.4 3.9 L75.9 4 L78.4 3.9 L80.9 4 L83.4 5.1 L85.9 5.5 L88.4 5 L90.9 4.9 L93.4 4.8 L95.9 4.8 L98.4 4.3 L100.9 4.3 L103.4 5.5 L105.9 5.9 L108.4 4.8 L110.9 4.5 L113.4 5.3 L115.9 5.4 L118.4 4 L120.9 3.6 L123.4 4.2 L125.9 4.6 L128.4 5.2 L130.9 5.3 L133.4 4.1 L135.9 3.8 L138.4 4.9 L140.9 5.3 L143.4 5.2 L145.9 5.2 L146.6 113.5 L144.1 113.5 L141.6 112.6 L139.1 112.2 L136.6 112.4 L134.1 112.5 L131.6 113.2 L129.1 113.4 L126.6 113 L124.1 113 L121.6 113.7 L119.1 113.9 L116.6 113.6 L114.1 113.4 L111.6 113 L109.1 112.8 L106.6 112.5 L104.1 112.4 L101.6 112 L99.1 112 L96.6 113.2 L94.1 113.8 L91.6 114.2 L89.1 114.3 L86.6 114.2 L84.1 114.2 L81.6 114.1 L79.1 114 L76.6 114.2 L74.1 114.1 L71.6 113.2 L69.1 112.8 L66.6 112.3 L64.1 112.3 L61.6 113.5 L59.1 113.9 L56.6 113.2 L54.1 113.1 L51.6 114.2 L49.1 114.5 L46.6 114.5 L44.1 114.5 L41.6 114.5 L39.1 114.4 L36.6 113.4 L34.1 113.1 L31.6 114.1 L29.1 114.3 L26.6 112.8 L24.1 112.3 L21.6 112.7 L19.1 112.9 L16.6 113 L14.1 113.1 L11.6 113.7 L9.1 113.8 L6.6 113.7 L4.1 113.5Z" fill="#4a2406"/><use href="#o4" x="55.7" y="11.9"/><use href="#o4" x="120.8" y="12"/><use href="#o4" x="22.8" y="12"/><use href="#o4" x="137.2" y="12.1"/><use href="#o4" x="41.7" y="12.7"/><use href="#o4" x="58.1" y="14.1"/><use href="#o4" x="56" y="14.4"/><use href="#o4" x="45.3" y="14.6"/><use href="#o4" x="72.7" y="14.7"/><use href="#o4" x="22.5" y="15.2"/><use href="#o4" x="42.6" y="15.3"/><use href="#o4" x="18.1" y="15.4"/><use href="#o4" x="89" y="16"/><use href="#o4" x="39.9" y="16.9"/><use href="#o4" x="115.8" y="17"/><use href="#o4" x="71.8" y="17.5"/><use href="#o4" x="20.7" y="17.7"/><use href="#o4" x="86.9" y="18.2"/><use href="#o4" x="69.7" y="19.8"/><use href="#o4" x="29.3" y="20.3"/><use href="#o4" x="131.5" y="20.4"/><use href="#o4" x="128.5" y="22"/><use href="#o4" x="71.6" y="22"/><use href="#o4" x="131" y="22.5"/><use href="#o4" x="67.7" y="22.6"/><use href="#o4" x="66.1" y="23.5"/><use href="#o4" x="134.6" y="24"/><use href="#o4" x="39.5" y="24.3"/><use href="#o4" x="82.8" y="24.4"/><use href="#o4" x="20.6" y="27.4"/><use href="#o4" x="124" y="27.9"/><use href="#o4" x="102.4" y="29.4"/><use href="#o4" x="17.6" y="31"/><use href="#o4" x="20.6" y="31"/><use href="#o4" x="116.8" y="31"/><use href="#o4" x="34.7" y="31.4"/><use href="#o4" x="12.1" y="33.5"/><use href="#o4" x="107.9" y="33.6"/><use href="#o4" x="68.1" y="33.8"/><use href="#o4" x="132.9" y="34.8"/><use href="#o4" x="77" y="36.2"/><use href="#o4" x="9.9" y="36.3"/><use href="#o4" x="67" y="36.4"/><use href="#o4" x="137.2" y="37.6"/><use href="#o4" x="40" y="38.8"/><use href="#o4" x="13.5" y="39.3"/><use href="#o4" x="65.4" y="40.7"/><use href="#o4" x="61" y="41"/><use href="#o4" x="79.3" y="42.1"/><use href="#o4" x="85.8" y="42.5"/><use href="#o4" x="94" y="42.9"/><use href="#o4" x="101.5" y="42.9"/><use href="#o4" x="125.3" y="44.1"/><use href="#o4" x="131.8" y="48.4"/><use href="#o4" x="98.8" y="48.8"/><use href="#o4" x="113.9" y="48.9"/><use href="#o4" x="71.8" y="50.7"/><use href="#o4" x="34.5" y="51.9"/><use href="#o4" x="22.5" y="52"/><use href="#o4" x="41.4" y="52.8"/><use href="#o4" x="73.5" y="53"/><use href="#o4" x="79" y="53.8"/><use href="#o4" x="77.8" y="54.8"/><use href="#o4" x="43.5" y="54.9"/><use href="#o4" x="135.3" y="56.5"/><use href="#o4" x="137.3" y="56.5"/><use href="#o4" x="136.3" y="59.3"/><use href="#o4" x="139.2" y="59.9"/><use href="#o4" x="108.9" y="60.5"/><use href="#o4" x="129.6" y="60.6"/><use href="#o4" x="104.8" y="61.9"/><use href="#o4" x="79.8" y="63.1"/><use href="#o4" x="115.1" y="63.3"/><use href="#o4" x="76.8" y="63.9"/><use href="#o4" x="97.2" y="64.1"/><use href="#o4" x="106" y="64.4"/><use href="#o4" x="94.2" y="64.4"/><use href="#o4" x="20.1" y="64.8"/><use href="#o4" x="86.2" y="65.1"/><use href="#o4" x="22.4" y="65.1"/><use href="#o4" x="23.9" y="66.1"/><use href="#o4" x="115.7" y="66.3"/><use href="#o4" x="141.7" y="67.1"/><use href="#o4" x="65.2" y="67.9"/><use href="#o4" x="22.3" y="68.3"/><use href="#o4" x="67.2" y="68.8"/><use href="#o4" x="138.7" y="68.9"/><use href="#o4" x="64" y="69.1"/><use href="#o4" x="48.4" y="69.9"/><use href="#o4" x="36.4" y="70"/><use href="#o4" x="118.4" y="71.6"/><use href="#o4" x="127.9" y="73"/><use href="#o4" x="59.7" y="74"/><use href="#o4" x="101.1" y="77.7"/><use href="#o4" x="66.8" y="78.3"/><use href="#o4" x="24.7" y="79.1"/><use href="#o4" x="60" y="79.2"/><use href="#o4" x="117.6" y="79.4"/><use href="#o4" x="139.2" y="79.6"/><use href="#o4" x="67.8" y="79.8"/><use href="#o4" x="11.7" y="80.1"/><use href="#o4" x="75.6" y="80.4"/><use href="#o4" x="58.4" y="80.8"/><use href="#o4" x="131.4" y="81"/><use href="#o4" x="131.9" y="83.8"/><use href="#o4" x="81" y="84.2"/><use href="#o4" x="119.9" y="84.8"/><use href="#o4" x="66.9" y="84.9"/><use href="#o4" x="95.8" y="85.5"/><use href="#o4" x="97.3" y="86.3"/><use href="#o4" x="24.4" y="86.4"/><use href="#o4" x="78.2" y="87.3"/><use href="#o4" x="119.9" y="87.5"/><use href="#o4" x="21.1" y="87.8"/><use href="#o4" x="74.4" y="88.4"/><use href="#o4" x="108.3" y="88.9"/><use href="#o4" x="28.7" y="91.3"/><use href="#o4" x="97.2" y="91.8"/><use href="#o4" x="100.7" y="92.2"/><use href="#o4" x="36" y="93.6"/><use href="#o4" x="96.7" y="93.8"/><use href="#o4" x="72.4" y="94.4"/><use href="#o4" x="38.3" y="95"/><use href="#o4" x="98.1" y="95.7"/><use href="#o4" x="13" y="96"/><use href="#o4" x="123.5" y="96.7"/><use href="#o4" x="100" y="97"/><use href="#o4" x="79.2" y="97.4"/><use href="#o4" x="135.4" y="98.2"/><use href="#o4" x="137.3" y="98.5"/><use href="#o4" x="60.4" y="98.9"/><use href="#o4" x="102.9" y="100.8"/><use href="#o4" x="29.8" y="101"/><use href="#o4" x="70.3" y="101.9"/><use href="#o4" x="106" y="102.6"/><use href="#o4" x="103.7" y="103.8"/><use href="#o4" x="84.6" y="104"/><use href="#o4" x="47.2" y="104.2"/><use href="#o4" x="62.1" y="104.4"/><use href="#o4" x="36.6" y="104.9"/><use href="#o4" x="34.9" y="105.1"/><use href="#o4" x="28.2" y="105.7"/><use href="#o4" x="45.1" y="105.9"/><use href="#o4" x="66.1" y="106"/><use href="#o4" x="26.8" y="106.5"/><use href="#o4" x="76.7" y="109.7"/><use href="#o4" x="30.8" y="109.9"/><use href="#o3" x="102.8" y="9.4"/><use href="#o3" x="73.8" y="12.9"/><use href="#o3" x="60.4" y="14.4"/><use href="#o3" x="34.7" y="14.8"/><use href="#o3" x="101.4" y="16.7"/><use href="#o3" x="129.1" y="19"/><use href="#o3" x="118.6" y="19.1"/><use href="#o3" x="68.1" y="19.5"/><use href="#o3" x="74.1" y="20.3"/><use href="#o3" x="93.6" y="21.4"/><use href="#o3" x="20.2" y="21.7"/><use href="#o3" x="52" y="22.2"/><use href="#o3" x="64.2" y="23"/><use href="#o3" x="81" y="24.5"/><use href="#o3" x="25.5" y="25.3"/><use href="#o3" x="63.7" y="25.7"/><use href="#o3" x="23.5" y="28.4"/><use href="#o3" x="63.3" y="29"/><use href="#o3" x="71.7" y="29.2"/><use href="#o3" x="89.1" y="30.3"/><use href="#o3" x="108.9" y="30.9"/><use href="#o3" x="84.9" y="31.3"/><use href="#o3" x="70.3" y="32.1"/><use href="#o3" x="75.9" y="32.6"/><use href="#o3" x="112.1" y="33.5"/><use href="#o3" x="16" y="35.2"/><use href="#o3" x="128.6" y="35.7"/><use href="#o3" x="112.8" y="39.1"/><use href="#o3" x="130.5" y="39.3"/><use href="#o3" x="21.8" y="39.4"/><use href="#o3" x="121.5" y="40.9"/><use href="#o3" x="59.3" y="41.3"/><use href="#o3" x="22.7" y="42.3"/><use href="#o3" x="39.8" y="43.2"/><use href="#o3" x="22.2" y="44.2"/><use href="#o3" x="84.7" y="44.3"/><use href="#o3" x="85.5" y="46.1"/><use href="#o3" x="135.6" y="46.2"/><use href="#o3" x="13.6" y="46.3"/><use href="#o3" x="115.7" y="47.7"/><use href="#o3" x="33" y="48.6"/><use href="#o3" x="102.9" y="48.8"/><use href="#o3" x="34.9" y="49.2"/><use href="#o3" x="74.5" y="49.9"/><use href="#o3" x="133.2" y="51.4"/><use href="#o3" x="100.1" y="51.6"/><use href="#o3" x="130.6" y="51.7"/><use href="#o3" x="53.9" y="51.8"/><use href="#o3" x="90.3" y="52.1"/><use href="#o3" x="69.9" y="53.6"/><use href="#o3" x="113.7" y="53.6"/><use href="#o3" x="24.3" y="53.7"/><use href="#o3" x="20.8" y="54.3"/><use href="#o3" x="53.2" y="54.4"/><use href="#o3" x="134.3" y="55.2"/><use href="#o3" x="13.5" y="55.3"/><use href="#o3" x="132.7" y="57.2"/><use href="#o3" x="11.1" y="58.9"/><use href="#o3" x="131.3" y="59"/><use href="#o3" x="133.3" y="60.2"/><use href="#o3" x="64.3" y="61.2"/><use href="#o3" x="117" y="61.2"/><use href="#o3" x="41.6" y="61.7"/><use href="#o3" x="86.7" y="62.4"/><use href="#o3" x="121" y="63.5"/><use href="#o3" x="44.6" y="64.5"/><use href="#o3" x="90.4" y="64.6"/><use href="#o3" x="103" y="65.1"/><use href="#o3" x="91.9" y="67.1"/><use href="#o3" x="40.1" y="67.7"/><use href="#o3" x="127.9" y="69.3"/><use href="#o3" x="91.6" y="70.5"/><use href="#o3" x="23.7" y="70.6"/><use href="#o3" x="111.6" y="71.5"/><use href="#o3" x="109.8" y="71.6"/><use href="#o3" x="30.8" y="71.6"/><use href="#o3" x="60.2" y="71.7"/><use href="#o3" x="47.5" y="72.5"/><use href="#o3" x="35.8" y="72.9"/><use href="#o3" x="32.9" y="72.9"/><use href="#o3" x="111.3" y="74.1"/><use href="#o3" x="15.8" y="75"/><use href="#o3" x="129.5" y="75.3"/><use href="#o3" x="83.2" y="76"/><use href="#o3" x="49.3" y="78.9"/><use href="#o3" x="57.1" y="79.4"/><use href="#o3" x="103.6" y="82.7"/><use href="#o3" x="36.5" y="83.9"/><use href="#o3" x="21.9" y="84.9"/><use href="#o3" x="10.7" y="85"/><use href="#o3" x="75.3" y="85.9"/><use href="#o3" x="130.3" y="86.5"/><use href="#o3" x="98.4" y="88.8"/><use href="#o3" x="104.7" y="89.4"/><use href="#o3" x="101.2" y="89.4"/><use href="#o3" x="122.4" y="89.6"/><use href="#o3" x="136.5" y="89.9"/><use href="#o3" x="62.8" y="94.5"/><use href="#o3" x="59.9" y="94.8"/><use href="#o3" x="34.5" y="96.6"/><use href="#o3" x="24.4" y="96.6"/><use href="#o3" x="51.2" y="96.8"/><use href="#o3" x="86.9" y="97.8"/><use href="#o3" x="34.7" y="98.5"/><use href="#o3" x="52.9" y="99"/><use href="#o3" x="123.2" y="99.1"/><use href="#o3" x="105.9" y="100.9"/><use href="#o3" x="137.5" y="101.8"/><use href="#o3" x="134" y="102.3"/><use href="#o3" x="48.1" y="102.7"/><use href="#o3" x="21.7" y="104"/><use href="#o3" x="58.3" y="104.8"/><use href="#o3" x="30.6" y="106.7"/><use href="#o3" x="57.9" y="108.8"/><use href="#o3" x="45.7" y="108.8"/><use href="#o3" x="78.4" y="109.1"/><use href="#o2" x="79.4" y="8.3"/><use href="#o2" x="78" y="9.2"/><use href="#o2" x="91.2" y="12"/><use href="#o2" x="99.5" y="12.1"/><use href="#o2" x="119.1" y="12.2"/><use href="#o2" x="20.2" y="13.3"/><use href="#o2" x="88.9" y="13.3"/><use href="#o2" x="48" y="13.5"/><use href="#o2" x="118.8" y="14.3"/><use href="#o2" x="12.5" y="14.4"/><use href="#o2" x="9.4" y="15"/><use href="#o2" x="44.4" y="16.6"/><use href="#o2" x="68.5" y="17.1"/><use href="#o2" x="16.4" y="17.5"/><use href="#o2" x="33.8" y="17.7"/><use href="#o2" x="104.3" y="19.1"/><use href="#o2" x="17.1" y="20.1"/><use href="#o2" x="86.2" y="20.2"/><use href="#o2" x="53.2" y="20.9"/><use href="#o2" x="81.5" y="21.7"/><use href="#o2" x="15.1" y="22.5"/><use href="#o2" x="22" y="25"/><use href="#o2" x="12.7" y="25.1"/><use href="#o2" x="31.8" y="27.2"/><use href="#o2" x="74.5" y="27.9"/><use href="#o2" x="76.2" y="28.5"/><use href="#o2" x="140.3" y="28.8"/><use href="#o2" x="73.4" y="29.5"/><use href="#o2" x="105.3" y="30"/><use href="#o2" x="68.6" y="30.6"/><use href="#o2" x="23.3" y="31.4"/><use href="#o2" x="87.5" y="32.4"/><use href="#o2" x="119.2" y="32.5"/><use href="#o2" x="116.6" y="34.1"/><use href="#o2" x="19" y="34.2"/><use href="#o2" x="40.2" y="34.6"/><use href="#o2" x="113.4" y="34.7"/><use href="#o2" x="29.8" y="34.9"/><use href="#o2" x="25.3" y="36.8"/><use href="#o2" x="16" y="38.3"/><use href="#o2" x="9.4" y="39.3"/><use href="#o2" x="140.2" y="39.5"/><use href="#o2" x="74.5" y="39.7"/><use href="#o2" x="50.1" y="39.7"/><use href="#o2" x="142.6" y="40.2"/><use href="#o2" x="11.6" y="40.5"/><use href="#o2" x="129.1" y="40.6"/><use href="#o2" x="97.3" y="41.3"/><use href="#o2" x="138.9" y="41.4"/><use href="#o2" x="57.1" y="41.6"/><use href="#o2" x="26.4" y="41.8"/><use href="#o2" x="122.9" y="42.5"/><use href="#o2" x="126.5" y="42.7"/><use href="#o2" x="37.2" y="42.9"/><use href="#o2" x="97" y="44.1"/><use href="#o2" x="76.1" y="44.7"/><use href="#o2" x="8.7" y="44.9"/><use href="#o2" x="79" y="45"/><use href="#o2" x="130.3" y="45.5"/><use href="#o2" x="126.9" y="46.3"/><use href="#o2" x="15.4" y="46.8"/><use href="#o2" x="61.3" y="47"/><use href="#o2" x="126.9" y="48"/><use href="#o2" x="7.6" y="48.1"/><use href="#o2" x="134.4" y="49.2"/><use href="#o2" x="81.7" y="50"/><use href="#o2" x="62" y="50.3"/><use href="#o2" x="7.4" y="51"/><use href="#o2" x="31.7" y="51.2"/><use href="#o2" x="38" y="52.4"/><use href="#o2" x="76.5" y="52.6"/><use href="#o2" x="126.7" y="53.3"/><use href="#o2" x="13.7" y="53.8"/><use href="#o2" x="57.4" y="54.2"/><use href="#o2" x="116" y="54.3"/><use href="#o2" x="101.5" y="54.4"/><use href="#o2" x="39.5" y="54.9"/><use href="#o2" x="35.9" y="55.1"/><use href="#o2" x="71.9" y="55.4"/><use href="#o2" x="8.9" y="56.6"/><use href="#o2" x="74.9" y="56.8"/><use href="#o2" x="41.5" y="57.4"/><use href="#o2" x="103.4" y="57.5"/><use href="#o2" x="14.5" y="58"/><use href="#o2" x="106" y="59.4"/><use href="#o2" x="115.3" y="60.3"/><use href="#o2" x="120.9" y="60.5"/><use href="#o2" x="69.9" y="62.7"/><use href="#o2" x="111" y="63.9"/><use href="#o2" x="65.6" y="64.2"/><use href="#o2" x="82.1" y="64.7"/><use href="#o2" x="79.7" y="66.6"/><use href="#o2" x="36.9" y="66.9"/><use href="#o2" x="26.6" y="68"/><use href="#o2" x="19.4" y="68.7"/><use href="#o2" x="126.2" y="69.9"/><use href="#o2" x="40.4" y="70.3"/><use href="#o2" x="20.9" y="71"/><use href="#o2" x="139.9" y="72.5"/><use href="#o2" x="23" y="73.7"/><use href="#o2" x="104" y="76.8"/><use href="#o2" x="14.1" y="77.1"/><use href="#o2" x="53.4" y="77.7"/><use href="#o2" x="37.7" y="78.6"/><use href="#o2" x="76.3" y="78.9"/><use href="#o2" x="137.7" y="80"/><use href="#o2" x="97.2" y="80.4"/><use href="#o2" x="15.1" y="80.8"/><use href="#o2" x="10.3" y="81.9"/><use href="#o2" x="33.1" y="82.3"/><use href="#o2" x="128.6" y="83"/><use href="#o2" x="8.5" y="83.1"/><use href="#o2" x="123" y="83.5"/><use href="#o2" x="97.1" y="83.6"/><use href="#o2" x="33.7" y="84.1"/><use href="#o2" x="61.1" y="84.3"/><use href="#o2" x="135" y="84.9"/><use href="#o2" x="99" y="86"/><use href="#o2" x="84.3" y="86.7"/><use href="#o2" x="134.6" y="87.9"/><use href="#o2" x="30.3" y="90.3"/><use href="#o2" x="48.6" y="90.3"/><use href="#o2" x="90.3" y="91.1"/><use href="#o2" x="127.8" y="91.7"/><use href="#o2" x="131.2" y="91.8"/><use href="#o2" x="112.9" y="91.8"/><use href="#o2" x="114.4" y="92"/><use href="#o2" x="17.4" y="92.1"/><use href="#o2" x="69.7" y="93.1"/><use href="#o2" x="33.1" y="93.8"/><use href="#o2" x="89.3" y="93.8"/><use href="#o2" x="126.3" y="94"/><use href="#o2" x="19.3" y="94.4"/><use href="#o2" x="100.9" y="95"/><use href="#o2" x="22.9" y="95.7"/><use href="#o2" x="48.1" y="97.2"/><use href="#o2" x="58.1" y="97.2"/><use href="#o2" x="100.4" y="102.9"/><use href="#o2" x="116.3" y="103.4"/><use href="#o2" x="126.1" y="104.7"/><use href="#o2" x="56.5" y="104.7"/><use href="#o2" x="138.1" y="105.4"/><use href="#o2" x="59.7" y="106.2"/><use href="#o2" x="62.5" y="106.7"/><use href="#o2" x="110.3" y="107"/><use href="#o2" x="122" y="107"/><use href="#o2" x="54.5" y="107.7"/><use href="#o2" x="115.3" y="108"/><use href="#o2" x="122.4" y="108.6"/><use href="#o2" x="89.7" y="109.5"/><use href="#o2" x="96.1" y="114.5"/><use href="#o1" x="72" y="3.1"/><use href="#o1" x="27.4" y="3.2"/><use href="#o1" x="122.7" y="3.3"/><use href="#o1" x="19.7" y="3.9"/><use href="#o1" x="91.6" y="3.9"/><use href="#o1" x="97.5" y="4.1"/><use href="#o1" x="140.4" y="4.8"/><use href="#o1" x="13" y="5.1"/><use href="#o1" x="137.2" y="5.5"/><use href="#o1" x="91.8" y="5.8"/><use href="#o1" x="96.6" y="6"/><use href="#o1" x="38.2" y="6.2"/><use href="#o1" x="49.7" y="6.8"/><use href="#o1" x="52.8" y="6.9"/><use href="#o1" x="25" y="7.3"/><use href="#o1" x="122.5" y="7.5"/><use href="#o1" x="14.8" y="7.7"/><use href="#o1" x="21.6" y="7.9"/><use href="#o1" x="11" y="8.1"/><use href="#o1" x="4.3" y="8.1"/><use href="#o1" x="39.4" y="8.8"/><use href="#o1" x="148" y="8.8"/><use href="#o1" x="114.2" y="9"/><use href="#o1" x="82.2" y="9.5"/><use href="#o1" x="3.7" y="9.7"/><use href="#o1" x="75.3" y="10.4"/><use href="#o1" x="18.3" y="10.6"/><use href="#o1" x="130.5" y="10.7"/><use href="#o1" x="58.6" y="10.7"/><use href="#o1" x="53.2" y="11.6"/><use href="#o1" x="31.4" y="11.7"/><use href="#o1" x="123.6" y="12.4"/><use href="#o1" x="84.1" y="12.7"/><use href="#o1" x="141.8" y="13"/><use href="#o1" x="76.8" y="13.2"/><use href="#o1" x="50.9" y="13.2"/><use href="#o1" x="2.9" y="13.9"/><use href="#o1" x="114.3" y="14"/><use href="#o1" x="10.9" y="14"/><use href="#o1" x="29.7" y="14.2"/><use href="#o1" x="147.7" y="14.4"/><use href="#o1" x="14.3" y="14.9"/><use href="#o1" x="112.2" y="15"/><use href="#o1" x="24.2" y="15.9"/><use href="#o1" x="66.6" y="16.3"/><use href="#o1" x="32.4" y="16.5"/><use href="#o1" x="9.3" y="16.6"/><use href="#o1" x="92.5" y="17.3"/><use href="#o1" x="140.9" y="17.6"/><use href="#o1" x="50.8" y="18"/><use href="#o1" x="43.8" y="18.1"/><use href="#o1" x="113.3" y="18.4"/><use href="#o1" x="11.8" y="18.5"/><use href="#o1" x="135.1" y="18.6"/><use href="#o1" x="61.5" y="18.7"/><use href="#o1" x="99.9" y="18.8"/><use href="#o1" x="66.3" y="19.2"/><use href="#o1" x="39.1" y="19.5"/><use href="#o1" x="94.1" y="19.6"/><use href="#o1" x="147.7" y="20.1"/><use href="#o1" x="48.8" y="20.1"/><use href="#o1" x="5.4" y="20.2"/><use href="#o1" x="106.8" y="20.4"/><use href="#o1" x="21.4" y="20.6"/><use href="#o1" x="14.1" y="20.8"/><use href="#o1" x="89.8" y="21.2"/><use href="#o1" x="11.2" y="21.9"/><use href="#o1" x="18.3" y="21.9"/><use href="#o1" x="146.3" y="21.9"/><use href="#o1" x="139.5" y="21.9"/><use href="#o1" x="112.6" y="22.3"/><use href="#o1" x="107.5" y="22.7"/><use href="#o1" x="110.4" y="22.8"/><use href="#o1" x="44.7" y="22.8"/><use href="#o1" x="37.8" y="23.2"/><use href="#o1" x="17" y="23.2"/><use href="#o1" x="69.7" y="23.8"/><use href="#o1" x="97.4" y="24.2"/><use href="#o1" x="88.6" y="24.6"/><use href="#o1" x="59.4" y="24.6"/><use href="#o1" x="139.6" y="24.8"/><use href="#o1" x="30.7" y="24.9"/><use href="#o1" x="90.6" y="25"/><use href="#o1" x="19" y="25"/><use href="#o1" x="27.5" y="25"/><use href="#o1" x="129.3" y="25"/><use href="#o1" x="34.8" y="25.1"/><use href="#o1" x="16" y="25.5"/><use href="#o1" x="9.7" y="25.5"/><use href="#o1" x="148" y="25.7"/><use href="#o1" x="106.3" y="26.2"/><use href="#o1" x="70.7" y="26.3"/><use href="#o1" x="40.3" y="27.6"/><use href="#o1" x="38.6" y="28"/><use href="#o1" x="37.1" y="28"/><use href="#o1" x="131.1" y="28"/><use href="#o1" x="51" y="28.1"/><use href="#o1" x="17.7" y="28.2"/><use href="#o1" x="42.9" y="28.5"/><use href="#o1" x="13.7" y="28.6"/><use href="#o1" x="66.4" y="29.3"/><use href="#o1" x="45.4" y="30.4"/><use href="#o1" x="24.7" y="30.5"/><use href="#o1" x="78.5" y="30.6"/><use href="#o1" x="126.1" y="30.9"/><use href="#o1" x="147.8" y="31.3"/><use href="#o1" x="113.4" y="31.3"/><use href="#o1" x="47.9" y="31.5"/><use href="#o1" x="110.6" y="31.6"/><use href="#o1" x="94.7" y="31.7"/><use href="#o1" x="137" y="32.3"/><use href="#o1" x="14.9" y="32.5"/><use href="#o1" x="54" y="32.9"/><use href="#o1" x="78.6" y="32.9"/><use href="#o1" x="130" y="33"/><use href="#o1" x="43.4" y="33.1"/><use href="#o1" x="63.8" y="33.4"/><use href="#o1" x="60.8" y="33.7"/><use href="#o1" x="57.2" y="33.7"/><use href="#o1" x="146.6" y="34.3"/><use href="#o1" x="53.3" y="34.5"/><use href="#o1" x="64.3" y="35"/><use href="#o1" x="135.8" y="35.7"/><use href="#o1" x="92.5" y="36.5"/><use href="#o1" x="48.8" y="36.8"/><use href="#o1" x="147.7" y="36.9"/><use href="#o1" x="38.3" y="37"/><use href="#o1" x="127.6" y="37"/><use href="#o1" x="29.9" y="37.1"/><use href="#o1" x="124" y="37.2"/><use href="#o1" x="52.3" y="37.6"/><use href="#o1" x="74" y="37.8"/><use href="#o1" x="87.2" y="38.1"/><use href="#o1" x="108.2" y="38.6"/><use href="#o1" x="122.6" y="38.8"/><use href="#o1" x="77.8" y="38.9"/><use href="#o1" x="4.6" y="39.2"/><use href="#o1" x="99.7" y="39.5"/><use href="#o1" x="41.9" y="39.5"/><use href="#o1" x="18.5" y="39.7"/><use href="#o1" x="127.2" y="40"/><use href="#o1" x="90" y="40.3"/><use href="#o1" x="118.2" y="40.4"/><use href="#o1" x="92.5" y="40.6"/><use href="#o1" x="115.8" y="41.2"/><use href="#o1" x="145.6" y="42"/><use href="#o1" x="133.8" y="42"/><use href="#o1" x="17.9" y="42.4"/><use href="#o1" x="148.1" y="42.4"/><use href="#o1" x="92" y="42.5"/><use href="#o1" x="55.4" y="42.8"/><use href="#o1" x="20.4" y="43.9"/><use href="#o1" x="29.5" y="44.2"/><use href="#o1" x="140.8" y="44.9"/><use href="#o1" x="100.4" y="44.9"/><use href="#o1" x="117.2" y="45.1"/><use href="#o1" x="107.2" y="45.4"/><use href="#o1" x="55.6" y="45.6"/><use href="#o1" x="39.6" y="46"/><use href="#o1" x="81.8" y="46.2"/><use href="#o1" x="17.2" y="46.2"/><use href="#o1" x="58.2" y="46.4"/><use href="#o1" x="137.7" y="46.4"/><use href="#o1" x="44.3" y="46.7"/><use href="#o1" x="99.5" y="47.2"/><use href="#o1" x="117.8" y="47.6"/><use href="#o1" x="147.9" y="48"/><use href="#o1" x="95.7" y="48.4"/><use href="#o1" x="106.9" y="48.5"/><use href="#o1" x="87.7" y="48.6"/><use href="#o1" x="60.9" y="48.7"/><use href="#o1" x="37.4" y="48.8"/><use href="#o1" x="108.8" y="49.1"/><use href="#o1" x="70.7" y="49.6"/><use href="#o1" x="64.8" y="49.8"/><use href="#o1" x="120.2" y="50.2"/><use href="#o1" x="44.1" y="50.5"/><use href="#o1" x="56.5" y="50.6"/><use href="#o1" x="25.7" y="50.8"/><use href="#o1" x="79.1" y="51.1"/><use href="#o1" x="83.6" y="51.2"/><use href="#o1" x="94.2" y="51.4"/><use href="#o1" x="15.6" y="51.4"/><use href="#o1" x="19.4" y="51.8"/><use href="#o1" x="9.7" y="51.8"/><use href="#o1" x="44.8" y="51.9"/><use href="#o1" x="111.5" y="52"/><use href="#o1" x="138.2" y="52.2"/><use href="#o1" x="105.7" y="52.2"/><use href="#o1" x="147.1" y="52.3"/><use href="#o1" x="61.5" y="52.4"/><use href="#o1" x="4.7" y="53.1"/><use href="#o1" x="148" y="53.6"/><use href="#o1" x="9.9" y="53.9"/><use href="#o1" x="123.9" y="54.4"/><use href="#o1" x="7.4" y="54.5"/><use href="#o1" x="92.4" y="54.6"/><use href="#o1" x="46.1" y="54.9"/><use href="#o1" x="100.1" y="55.2"/><use href="#o1" x="75.4" y="55.2"/><use href="#o1" x="68.6" y="55.8"/><use href="#o1" x="23.9" y="55.8"/><use href="#o1" x="17" y="55.9"/><use href="#o1" x="85.4" y="55.9"/><use href="#o1" x="93.8" y="56.1"/><use href="#o1" x="139.9" y="56.2"/><use href="#o1" x="147.1" y="56.2"/><use href="#o1" x="79.5" y="56.6"/><use href="#o1" x="81.2" y="56.6"/><use href="#o1" x="126.3" y="56.8"/><use href="#o1" x="115.3" y="56.9"/><use href="#o1" x="100.3" y="57"/><use href="#o1" x="60.6" y="57.3"/><use href="#o1" x="38" y="57.3"/><use href="#o1" x="148" y="57.7"/><use href="#o1" x="111.6" y="58.8"/><use href="#o1" x="30.8" y="59"/><use href="#o1" x="86.4" y="59.1"/><use href="#o1" x="148.1" y="59.2"/><use href="#o1" x="40" y="59.7"/><use href="#o1" x="58.1" y="59.9"/><use href="#o1" x="74.3" y="60.2"/><use href="#o1" x="78.9" y="60.3"/><use href="#o1" x="19.4" y="60.5"/><use href="#o1" x="90.9" y="60.7"/><use href="#o1" x="82.1" y="60.8"/><use href="#o1" x="113.4" y="60.9"/><use href="#o1" x="61.2" y="61.3"/><use href="#o1" x="2.6" y="61.5"/><use href="#o1" x="33.6" y="61.9"/><use href="#o1" x="46.2" y="62.2"/><use href="#o1" x="21.7" y="62.3"/><use href="#o1" x="66.7" y="62.3"/><use href="#o1" x="138.7" y="62.8"/><use href="#o1" x="131.1" y="62.8"/><use href="#o1" x="72.9" y="63"/><use href="#o1" x="37.3" y="63.1"/><use href="#o1" x="40.6" y="63.2"/><use href="#o1" x="30.5" y="63.3"/><use href="#o1" x="60.3" y="63.4"/><use href="#o1" x="126.9" y="63.4"/><use href="#o1" x="123" y="64"/><use href="#o1" x="141.1" y="64.2"/><use href="#o1" x="146.6" y="64.2"/><use href="#o1" x="26.7" y="64.7"/><use href="#o1" x="148.1" y="64.8"/><use href="#o1" x="48.8" y="65.1"/><use href="#o1" x="29.9" y="65.4"/><use href="#o1" x="113.4" y="65.8"/><use href="#o1" x="67.5" y="65.8"/><use href="#o1" x="34" y="67.1"/><use href="#o1" x="130.3" y="67.2"/><use href="#o1" x="15.7" y="67.3"/><use href="#o1" x="112.1" y="67.5"/><use href="#o1" x="116.4" y="67.9"/><use href="#o1" x="48.5" y="68.3"/><use href="#o1" x="74.4" y="69"/><use href="#o1" x="86.5" y="69.2"/><use href="#o1" x="104.8" y="69.2"/><use href="#o1" x="69" y="69.3"/><use href="#o1" x="134.7" y="69.5"/><use href="#o1" x="108.9" y="69.6"/><use href="#o1" x="55" y="69.8"/><use href="#o1" x="83.2" y="70"/><use href="#o1" x="11.3" y="70.2"/><use href="#o1" x="148.1" y="70.4"/><use href="#o1" x="88.9" y="70.7"/><use href="#o1" x="62.1" y="71.1"/><use href="#o1" x="74.1" y="71.3"/><use href="#o1" x="75.7" y="71.7"/><use href="#o1" x="67.3" y="71.7"/><use href="#o1" x="2.4" y="71.7"/><use href="#o1" x="126.3" y="72.4"/><use href="#o1" x="56.4" y="72.4"/><use href="#o1" x="37.9" y="72.8"/><use href="#o1" x="134.5" y="72.8"/><use href="#o1" x="89.8" y="72.9"/><use href="#o1" x="68.7" y="73"/><use href="#o1" x="5.8" y="73.1"/><use href="#o1" x="105.8" y="73.1"/><use href="#o1" x="118.4" y="73.4"/><use href="#o1" x="96.2" y="73.6"/><use href="#o1" x="114" y="73.8"/><use href="#o1" x="13.2" y="74"/><use href="#o1" x="71.9" y="74.2"/><use href="#o1" x="39" y="74.6"/><use href="#o1" x="101" y="74.7"/><use href="#o1" x="108" y="74.8"/><use href="#o1" x="123.1" y="75"/><use href="#o1" x="31.9" y="75.1"/><use href="#o1" x="1.9" y="75.3"/><use href="#o1" x="147.8" y="76"/><use href="#o1" x="77.5" y="76.2"/><use href="#o1" x="3.4" y="76.3"/><use href="#o1" x="6.4" y="76.3"/><use href="#o1" x="10.9" y="76.6"/><use href="#o1" x="142.5" y="76.7"/><use href="#o1" x="68.4" y="76.7"/><use href="#o1" x="94.2" y="76.8"/><use href="#o1" x="28.3" y="76.8"/><use href="#o1" x="97.5" y="77.3"/><use href="#o1" x="127.2" y="77.3"/><use href="#o1" x="24.8" y="77.4"/><use href="#o1" x="64.6" y="78.4"/><use href="#o1" x="51.6" y="78.8"/><use href="#o1" x="30.6" y="78.9"/><use href="#o1" x="8.1" y="79"/><use href="#o1" x="2.4" y="79.3"/><use href="#o1" x="112.9" y="79.4"/><use href="#o1" x="121.4" y="79.4"/><use href="#o1" x="103.1" y="79.6"/><use href="#o1" x="92.4" y="79.7"/><use href="#o1" x="145.1" y="79.8"/><use href="#o1" x="63.3" y="79.9"/><use href="#o1" x="27.6" y="80.1"/><use href="#o1" x="128.2" y="80.2"/><use href="#o1" x="71.8" y="80.5"/><use href="#o1" x="86.8" y="81.3"/><use href="#o1" x="79.8" y="81.4"/><use href="#o1" x="119.3" y="81.6"/><use href="#o1" x="148" y="81.6"/><use href="#o1" x="54.8" y="81.8"/><use href="#o1" x="29.4" y="82.1"/><use href="#o1" x="88.2" y="82.2"/><use href="#o1" x="63.4" y="82.8"/><use href="#o1" x="27.3" y="82.9"/><use href="#o1" x="24.6" y="83.3"/><use href="#o1" x="100.2" y="83.3"/><use href="#o1" x="117.3" y="83.5"/><use href="#o1" x="17.3" y="83.7"/><use href="#o1" x="54.3" y="83.9"/><use href="#o1" x="140.8" y="84.2"/><use href="#o1" x="112.1" y="84.5"/><use href="#o1" x="102" y="84.6"/><use href="#o1" x="86.4" y="84.9"/><use href="#o1" x="109.8" y="85.9"/><use href="#o1" x="72.5" y="86"/><use href="#o1" x="19.3" y="86.5"/><use href="#o1" x="63.3" y="86.7"/><use href="#o1" x="8.5" y="86.8"/><use href="#o1" x="148.1" y="87.2"/><use href="#o1" x="6.3" y="87.3"/><use href="#o1" x="12" y="87.5"/><use href="#o1" x="124.7" y="87.6"/><use href="#o1" x="138.8" y="87.7"/><use href="#o1" x="68.5" y="87.8"/><use href="#o1" x="27.4" y="88.2"/><use href="#o1" x="43.1" y="88.6"/><use href="#o1" x="84.2" y="89"/><use href="#o1" x="26.3" y="89.3"/><use href="#o1" x="77.9" y="89.9"/><use href="#o1" x="118.1" y="90.2"/><use href="#o1" x="115.8" y="90.3"/><use href="#o1" x="62.6" y="90.3"/><use href="#o1" x="37.1" y="90.8"/><use href="#o1" x="121.3" y="91"/><use href="#o1" x="56.5" y="91.1"/><use href="#o1" x="108.8" y="91.7"/><use href="#o1" x="118.6" y="92.1"/><use href="#o1" x="124.3" y="92.2"/><use href="#o1" x="107.3" y="92.3"/><use href="#o1" x="65.1" y="92.3"/><use href="#o1" x="2.2" y="92.8"/><use href="#o1" x="148" y="92.8"/><use href="#o1" x="117.2" y="93.1"/><use href="#o1" x="75" y="93.3"/><use href="#o1" x="121.5" y="93.3"/><use href="#o1" x="30.8" y="93.5"/><use href="#o1" x="86" y="94.1"/><use href="#o1" x="122.5" y="94.7"/><use href="#o1" x="14.3" y="94.8"/><use href="#o1" x="95" y="95.2"/><use href="#o1" x="7.8" y="95.5"/><use href="#o1" x="113.8" y="95.6"/><use href="#o1" x="66.8" y="95.7"/><use href="#o1" x="116.6" y="96"/><use href="#o1" x="107.8" y="96"/><use href="#o1" x="77.9" y="96"/><use href="#o1" x="55.2" y="96.4"/><use href="#o1" x="84.1" y="96.5"/><use href="#o1" x="3.6" y="96.5"/><use href="#o1" x="120" y="96.7"/><use href="#o1" x="134.3" y="96.9"/><use href="#o1" x="10.1" y="96.9"/><use href="#o1" x="1.9" y="97.5"/><use href="#o1" x="130.7" y="97.7"/><use href="#o1" x="90.2" y="97.9"/><use href="#o1" x="91.9" y="98.1"/><use href="#o1" x="29.3" y="98.2"/><use href="#o1" x="118.7" y="98.3"/><use href="#o1" x="147.9" y="98.4"/><use href="#o1" x="82.4" y="98.7"/><use href="#o1" x="7.1" y="98.8"/><use href="#o1" x="26.2" y="99.1"/><use href="#o1" x="132.8" y="99.5"/><use href="#o1" x="127.9" y="99.6"/><use href="#o1" x="44.2" y="99.8"/><use href="#o1" x="118.7" y="99.9"/><use href="#o1" x="16" y="100.2"/><use href="#o1" x="50.2" y="100.3"/><use href="#o1" x="67.3" y="100.5"/><use href="#o1" x="23.2" y="100.5"/><use href="#o1" x="56.5" y="100.9"/><use href="#o1" x="129.9" y="100.9"/><use href="#o1" x="99" y="101.1"/><use href="#o1" x="3.2" y="101.1"/><use href="#o1" x="54.3" y="101.2"/><use href="#o1" x="83.6" y="101.4"/><use href="#o1" x="64.5" y="102.1"/><use href="#o1" x="82.4" y="102.4"/><use href="#o1" x="58.6" y="102.5"/><use href="#o1" x="118.3" y="102.6"/><use href="#o1" x="8.7" y="103.6"/><use href="#o1" x="87.7" y="103.8"/><use href="#o1" x="29.8" y="103.9"/><use href="#o1" x="148" y="104"/><use href="#o1" x="18.6" y="105"/><use href="#o1" x="90.9" y="105.2"/><use href="#o1" x="133.7" y="105.3"/><use href="#o1" x="141.6" y="105.3"/><use href="#o1" x="3.4" y="105.3"/><use href="#o1" x="5.1" y="105.6"/><use href="#o1" x="24" y="105.8"/><use href="#o1" x="7.8" y="106.2"/><use href="#o1" x="40.9" y="106.4"/><use href="#o1" x="134.7" y="106.7"/><use href="#o1" x="101.5" y="107.3"/><use href="#o1" x="18.3" y="107.7"/><use href="#o1" x="125.7" y="107.8"/><use href="#o1" x="74" y="108"/><use href="#o1" x="22" y="108.2"/><use href="#o1" x="25.2" y="108.7"/><use href="#o1" x="49" y="108.8"/><use href="#o1" x="134.1" y="109"/><use href="#o1" x="2.6" y="109.4"/><use href="#o1" x="148" y="109.6"/><use href="#o1" x="86.2" y="109.7"/><use href="#o1" x="51.7" y="109.7"/><use href="#o1" x="4.3" y="109.9"/><use href="#o1" x="32.6" y="110.2"/><use href="#o1" x="96.1" y="110.9"/><use href="#o1" x="42.9" y="111.4"/><use href="#o1" x="67.7" y="111.7"/><use href="#o1" x="115.6" y="111.8"/><use href="#o1" x="94.2" y="111.9"/><use href="#o1" x="140.8" y="111.9"/><use href="#o1" x="36.3" y="112.4"/><use href="#o1" x="30.5" y="112.8"/><use href="#o1" x="102.8" y="112.8"/><use href="#o1" x="133" y="112.9"/><use href="#o1" x="118.5" y="112.9"/><use href="#o1" x="112.1" y="113"/><use href="#o1" x="13.3" y="113.1"/><use href="#o1" x="74.1" y="113.2"/><use href="#o1" x="146.9" y="113.5"/><use href="#o1" x="37.1" y="113.8"/><use href="#o1" x="51.9" y="114.8"/><use href="#o1" x="82.6" y="115.3"/><use href="#o1" x="44.7" y="115.6"/><use href="#o0" x="68.3" y="2.4"/><use href="#o0" x="121.3" y="2.5"/><use href="#o0" x="100.2" y="2.9"/><use href="#o0" x="77.4" y="3"/><use href="#o0" x="137.6" y="3"/><use href="#o0" x="109.8" y="3.1"/><use href="#o0" x="73.8" y="3.2"/><use href="#o0" x="80.8" y="3.5"/><use href="#o0" x="24.7" y="3.7"/><use href="#o0" x="88.9" y="3.8"/><use href="#o0" x="118.7" y="3.9"/><use href="#o0" x="21.6" y="3.9"/><use href="#o0" x="86.1" y="4"/><use href="#o0" x="134.4" y="4.1"/><use href="#o0" x="48.6" y="4.1"/><use href="#o0" x="4.8" y="4.1"/><use href="#o0" x="70.5" y="4.1"/><use href="#o0" x="147.6" y="4.1"/><use href="#o0" x="60.7" y="4.4"/><use href="#o0" x="142.4" y="4.4"/><use href="#o0" x="125.6" y="4.4"/><use href="#o0" x="30.7" y="4.5"/><use href="#o0" x="102.7" y="4.7"/><use href="#o0" x="44" y="4.7"/><use href="#o0" x="131.2" y="4.8"/><use href="#o0" x="33.6" y="4.8"/><use href="#o0" x="1.9" y="4.8"/><use href="#o0" x="56.1" y="5"/><use href="#o0" x="9.3" y="5.1"/><use href="#o0" x="66.8" y="5.1"/><use href="#o0" x="108" y="5.2"/><use href="#o0" x="122.7" y="5.2"/><use href="#o0" x="63.5" y="5.3"/><use href="#o0" x="94.2" y="5.3"/><use href="#o0" x="51.4" y="5.3"/><use href="#o0" x="144.9" y="5.4"/><use href="#o0" x="78.4" y="5.5"/><use href="#o0" x="2.6" y="5.7"/><use href="#o0" x="46.5" y="5.8"/><use href="#o0" x="82.9" y="5.8"/><use href="#o0" x="113.3" y="5.9"/><use href="#o0" x="18.2" y="6"/><use href="#o0" x="139.1" y="6"/><use href="#o0" x="147.7" y="6"/><use href="#o0" x="116.7" y="6.2"/><use href="#o0" x="72.8" y="6.3"/><use href="#o0" x="11.6" y="6.4"/><use href="#o0" x="88.2" y="6.5"/><use href="#o0" x="41.6" y="6.6"/><use href="#o0" x="6.1" y="6.6"/><use href="#o0" x="22.8" y="6.7"/><use href="#o0" x="27.2" y="6.8"/><use href="#o0" x="147.2" y="6.8"/><use href="#o0" x="105.4" y="6.9"/><use href="#o0" x="69.5" y="7"/><use href="#o0" x="110.6" y="7.1"/><use href="#o0" x="119.8" y="7.1"/><use href="#o0" x="32" y="7.2"/><use href="#o0" x="141.8" y="7.2"/><use href="#o0" x="125.5" y="7.3"/><use href="#o0" x="54.6" y="7.3"/><use href="#o0" x="98.9" y="7.3"/><use href="#o0" x="91.3" y="7.4"/><use href="#o0" x="84.9" y="7.6"/><use href="#o0" x="2.1" y="7.6"/><use href="#o0" x="60.2" y="7.7"/><use href="#o0" x="134.3" y="7.7"/><use href="#o0" x="95.8" y="7.8"/><use href="#o0" x="67" y="7.9"/><use href="#o0" x="57.4" y="7.9"/><use href="#o0" x="81.3" y="8.2"/><use href="#o0" x="108.2" y="8.3"/><use href="#o0" x="35" y="8.3"/><use href="#o0" x="137.1" y="8.3"/><use href="#o0" x="63.7" y="8.3"/><use href="#o0" x="19.8" y="8.5"/><use href="#o0" x="16.6" y="8.5"/><use href="#o0" x="44.4" y="8.5"/><use href="#o0" x="51.5" y="8.6"/><use href="#o0" x="144.8" y="8.7"/><use href="#o0" x="129.7" y="8.7"/><use href="#o0" x="47.1" y="8.8"/><use href="#o0" x="24.2" y="9.1"/><use href="#o0" x="121.7" y="9.1"/><use href="#o0" x="93.3" y="9.3"/><use href="#o0" x="112.2" y="9.4"/><use href="#o0" x="72" y="9.4"/><use href="#o0" x="11.6" y="9.6"/><use href="#o0" x="69.3" y="9.8"/><use href="#o0" x="31.1" y="9.8"/><use href="#o0" x="97.4" y="9.9"/><use href="#o0" x="125.6" y="10"/><use href="#o0" x="7.9" y="10.1"/><use href="#o0" x="55.5" y="10.1"/><use href="#o0" x="90.2" y="10.1"/><use href="#o0" x="61.4" y="10.1"/><use href="#o0" x="27.3" y="10.2"/><use href="#o0" x="37.1" y="10.2"/><use href="#o0" x="147.8" y="10.4"/><use href="#o0" x="1.9" y="10.4"/><use href="#o0" x="134.2" y="10.5"/><use href="#o0" x="114.8" y="10.6"/><use href="#o0" x="39.8" y="10.6"/><use href="#o0" x="66.6" y="10.7"/><use href="#o0" x="49.5" y="10.8"/><use href="#o0" x="86.1" y="10.8"/><use href="#o0" x="117.6" y="10.9"/><use href="#o0" x="140.3" y="10.9"/><use href="#o0" x="34.6" y="11.2"/><use href="#o0" x="13.9" y="11.3"/><use href="#o0" x="95.2" y="11.6"/><use href="#o0" x="147.9" y="11.6"/><use href="#o0" x="45.8" y="11.8"/><use href="#o0" x="107.1" y="11.8"/><use href="#o0" x="129.4" y="11.8"/><use href="#o0" x="103.8" y="12.2"/><use href="#o0" x="29.8" y="12.3"/><use href="#o0" x="63.2" y="12.4"/><use href="#o0" x="16.6" y="12.4"/><use href="#o0" x="70.8" y="12.4"/><use href="#o0" x="126.8" y="12.4"/><use href="#o0" x="5.4" y="12.5"/><use href="#o0" x="79.9" y="12.6"/><use href="#o0" x="26.2" y="12.8"/><use href="#o0" x="132.4" y="12.9"/><use href="#o0" x="110.9" y="13.2"/><use href="#o0" x="2.1" y="13.2"/><use href="#o0" x="66.8" y="13.4"/><use href="#o0" x="92.7" y="13.8"/><use href="#o0" x="105.7" y="14.1"/><use href="#o0" x="96.4" y="14.4"/><use href="#o0" x="138.8" y="14.6"/><use href="#o0" x="32" y="14.6"/><use href="#o0" x="142.2" y="14.7"/><use href="#o0" x="7.1" y="14.7"/><use href="#o0" x="122.1" y="14.9"/><use href="#o0" x="135.9" y="15"/><use href="#o0" x="125" y="15"/><use href="#o0" x="109.5" y="15.6"/><use href="#o0" x="145.1" y="15.6"/><use href="#o0" x="129.1" y="15.7"/><use href="#o0" x="81" y="15.8"/><use href="#o0" x="78.3" y="15.9"/><use href="#o0" x="2.6" y="16"/><use href="#o0" x="1.9" y="16.1"/><use href="#o0" x="50.5" y="16.1"/><use href="#o0" x="64.9" y="16.1"/><use href="#o0" x="47.4" y="16.3"/><use href="#o0" x="98.6" y="16.4"/><use href="#o0" x="148" y="16.5"/><use href="#o0" x="29.5" y="16.6"/><use href="#o0" x="54" y="16.8"/><use href="#o0" x="75.6" y="16.8"/><use href="#o0" x="59" y="17"/><use href="#o0" x="112.4" y="17"/><use href="#o0" x="26.7" y="17.1"/><use href="#o0" x="148.1" y="17.2"/><use href="#o0" x="95.8" y="17.6"/><use href="#o0" x="121.2" y="17.7"/><use href="#o0" x="106.7" y="17.7"/><use href="#o0" x="4.7" y="17.8"/><use href="#o0" x="124.8" y="17.8"/><use href="#o0" x="23.5" y="18.7"/><use href="#o0" x="82" y="18.8"/><use href="#o0" x="2.2" y="18.9"/><use href="#o0" x="13.4" y="19"/><use href="#o0" x="7.7" y="19"/><use href="#o0" x="141.7" y="19.1"/><use href="#o0" x="36.7" y="19.3"/><use href="#o0" x="109.6" y="19.3"/><use href="#o0" x="52.8" y="19.4"/><use href="#o0" x="137.9" y="19.5"/><use href="#o0" x="2.6" y="19.6"/><use href="#o0" x="46.1" y="19.8"/><use href="#o0" x="77.1" y="19.8"/><use href="#o0" x="26.4" y="19.9"/><use href="#o0" x="57.8" y="20"/><use href="#o0" x="63.8" y="20.2"/><use href="#o0" x="123.1" y="20.2"/><use href="#o0" x="101.6" y="20.2"/><use href="#o0" x="10.9" y="20.2"/><use href="#o0" x="113" y="20.4"/><use href="#o0" x="147.8" y="20.6"/><use href="#o0" x="144.5" y="20.9"/><use href="#o0" x="55.1" y="21"/><use href="#o0" x="97.1" y="21.3"/><use href="#o0" x="135.6" y="21.3"/><use href="#o0" x="116.3" y="21.4"/><use href="#o0" x="6.5" y="21.4"/><use href="#o0" x="39.3" y="21.4"/><use href="#o0" x="2.2" y="21.7"/><use href="#o0" x="125.7" y="21.8"/><use href="#o0" x="31.6" y="21.8"/><use href="#o0" x="35.1" y="22"/><use href="#o0" x="84.8" y="22.3"/><use href="#o0" x="99.7" y="22.3"/><use href="#o0" x="41.8" y="22.6"/><use href="#o0" x="119.5" y="22.6"/><use href="#o0" x="24.6" y="22.7"/><use href="#o0" x="59" y="22.7"/><use href="#o0" x="75.6" y="22.8"/><use href="#o0" x="104.3" y="22.8"/><use href="#o0" x="147.9" y="22.9"/><use href="#o0" x="61.9" y="22.9"/><use href="#o0" x="142.4" y="23"/><use href="#o0" x="122.2" y="23"/><use href="#o0" x="10.2" y="23.1"/><use href="#o0" x="78.6" y="23.2"/><use href="#o0" x="114.1" y="23.4"/><use href="#o0" x="27.7" y="23.4"/><use href="#o0" x="145.1" y="23.6"/><use href="#o0" x="55.6" y="23.7"/><use href="#o0" x="3.4" y="23.7"/><use href="#o0" x="49.2" y="23.7"/><use href="#o0" x="137.7" y="24.2"/><use href="#o0" x="95.1" y="24.2"/><use href="#o0" x="2" y="24.5"/><use href="#o0" x="33.3" y="24.6"/><use href="#o0" x="92.3" y="25"/><use href="#o0" x="7.9" y="25"/><use href="#o0" x="36.9" y="25.2"/><use href="#o0" x="102.7" y="25.2"/><use href="#o0" x="111.7" y="25.3"/><use href="#o0" x="52.4" y="25.3"/><use href="#o0" x="58" y="25.5"/><use href="#o0" x="118.1" y="25.6"/><use href="#o0" x="125.5" y="25.6"/><use href="#o0" x="100" y="25.6"/><use href="#o0" x="73.6" y="25.6"/><use href="#o0" x="147.5" y="25.7"/><use href="#o0" x="43.4" y="25.7"/><use href="#o0" x="77.5" y="25.9"/><use href="#o0" x="115.4" y="25.9"/><use href="#o0" x="29.1" y="25.9"/><use href="#o0" x="83.4" y="26"/><use href="#o0" x="121.1" y="26.3"/><use href="#o0" x="131.8" y="26.3"/><use href="#o0" x="67.8" y="26.6"/><use href="#o0" x="96.1" y="26.8"/><use href="#o0" x="139.5" y="26.8"/><use href="#o0" x="49.4" y="26.8"/><use href="#o0" x="144" y="26.9"/><use href="#o0" x="2.3" y="27.3"/><use href="#o0" x="46.6" y="27.4"/><use href="#o0" x="60.1" y="27.4"/><use href="#o0" x="6.4" y="27.4"/><use href="#o0" x="79.9" y="27.8"/><use href="#o0" x="2.9" y="28"/><use href="#o0" x="12.2" y="28"/><use href="#o0" x="128.5" y="28.2"/><use href="#o0" x="27.4" y="28.4"/><use href="#o0" x="148" y="28.5"/><use href="#o0" x="111.9" y="28.6"/><use href="#o0" x="91.4" y="28.8"/><use href="#o0" x="135.1" y="28.9"/><use href="#o0" x="69.6" y="28.9"/><use href="#o0" x="83.2" y="29"/><use href="#o0" x="114.9" y="29"/><use href="#o0" x="109.2" y="29.2"/><use href="#o0" x="15.2" y="29.3"/><use href="#o0" x="53.5" y="29.4"/><use href="#o0" x="50.6" y="29.6"/><use href="#o0" x="9.1" y="29.6"/><use href="#o0" x="138.9" y="29.6"/><use href="#o0" x="2.3" y="30.1"/><use href="#o0" x="94.3" y="30.2"/><use href="#o0" x="30" y="30.3"/><use href="#o0" x="98.6" y="30.3"/><use href="#o0" x="80.5" y="30.5"/><use href="#o0" x="59.3" y="30.7"/><use href="#o0" x="2.9" y="30.8"/><use href="#o0" x="12.6" y="30.8"/><use href="#o0" x="141.9" y="30.9"/><use href="#o0" x="132.3" y="31.1"/><use href="#o0" x="40.7" y="31.2"/><use href="#o0" x="26.4" y="31.4"/><use href="#o0" x="55.3" y="31.6"/><use href="#o0" x="90.2" y="31.6"/><use href="#o0" x="122.5" y="31.7"/><use href="#o0" x="135" y="31.8"/><use href="#o0" x="61.7" y="32"/><use href="#o0" x="37.5" y="32.2"/><use href="#o0" x="5.4" y="32.4"/><use href="#o0" x="65.7" y="32.4"/><use href="#o0" x="101.1" y="32.4"/><use href="#o0" x="33.6" y="32.7"/><use href="#o0" x="104.5" y="32.7"/><use href="#o0" x="139.7" y="32.8"/><use href="#o0" x="2.3" y="32.9"/><use href="#o0" x="93.2" y="33.1"/><use href="#o0" x="45.1" y="33.1"/><use href="#o0" x="8.7" y="33.1"/><use href="#o0" x="148" y="33.1"/><use href="#o0" x="49.9" y="33.6"/><use href="#o0" x="125.8" y="33.7"/><use href="#o0" x="136.9" y="33.9"/><use href="#o0" x="143.2" y="34"/><use href="#o0" x="84.6" y="34"/><use href="#o0" x="81.2" y="34"/><use href="#o0" x="147.7" y="34.1"/><use href="#o0" x="26.7" y="34.3"/><use href="#o0" x="90.4" y="34.4"/><use href="#o0" x="22" y="34.6"/><use href="#o0" x="95.8" y="34.6"/><use href="#o0" x="98.6" y="34.8"/><use href="#o0" x="120.6" y="34.9"/><use href="#o0" x="43" y="35.3"/><use href="#o0" x="123.7" y="35.4"/><use href="#o0" x="5.4" y="35.4"/><use href="#o0" x="35.8" y="35.6"/><use href="#o0" x="104.3" y="35.6"/><use href="#o0" x="2.1" y="35.6"/><use href="#o0" x="58.3" y="35.7"/><use href="#o0" x="2.7" y="35.8"/><use href="#o0" x="146.2" y="35.8"/><use href="#o0" x="87.7" y="36.4"/><use href="#o0" x="45.5" y="36.7"/><use href="#o0" x="117.6" y="36.7"/><use href="#o0" x="101.7" y="36.7"/><use href="#o0" x="70" y="37"/><use href="#o0" x="19.7" y="37"/><use href="#o0" x="80.9" y="37"/><use href="#o0" x="60.8" y="37.2"/><use href="#o0" x="55.3" y="37.3"/><use href="#o0" x="84.7" y="37.4"/><use href="#o0" x="7.3" y="37.5"/><use href="#o0" x="97.7" y="37.7"/><use href="#o0" x="31.5" y="37.7"/><use href="#o0" x="28.3" y="37.9"/><use href="#o0" x="105.6" y="38.1"/><use href="#o0" x="34.8" y="38.3"/><use href="#o0" x="147.2" y="38.4"/><use href="#o0" x="2" y="38.4"/><use href="#o0" x="63.8" y="38.5"/><use href="#o0" x="115.5" y="38.9"/><use href="#o0" x="57.7" y="39"/><use href="#o0" x="133.4" y="39"/><use href="#o0" x="68.3" y="39.2"/><use href="#o0" x="45.5" y="39.5"/><use href="#o0" x="144.4" y="39.6"/><use href="#o0" x="147.8" y="39.6"/><use href="#o0" x="88.5" y="39.7"/><use href="#o0" x="82.1" y="39.8"/><use href="#o0" x="55.2" y="40"/><use href="#o0" x="5.9" y="40.3"/><use href="#o0" x="31.8" y="40.5"/><use href="#o0" x="71.7" y="40.6"/><use href="#o0" x="28.7" y="40.6"/><use href="#o0" x="103.9" y="40.8"/><use href="#o0" x="34.9" y="41.2"/><use href="#o0" x="2.2" y="41.2"/><use href="#o0" x="107.6" y="41.3"/><use href="#o0" x="52.6" y="41.4"/><use href="#o0" x="142.1" y="41.8"/><use href="#o0" x="48.5" y="41.9"/><use href="#o0" x="15" y="42"/><use href="#o0" x="3.1" y="42.1"/><use href="#o0" x="135.6" y="42.1"/><use href="#o0" x="42.7" y="42.2"/><use href="#o0" x="10.1" y="42.3"/><use href="#o0" x="74.7" y="42.3"/><use href="#o0" x="111.7" y="42.3"/><use href="#o0" x="82.3" y="42.5"/><use href="#o0" x="90.2" y="42.5"/><use href="#o0" x="148.1" y="42.6"/><use href="#o0" x="116.1" y="42.8"/><use href="#o0" x="128.3" y="42.9"/><use href="#o0" x="69.4" y="43"/><use href="#o0" x="45.9" y="43.1"/><use href="#o0" x="6.6" y="43.1"/><use href="#o0" x="131.8" y="43.2"/><use href="#o0" x="27.9" y="43.3"/><use href="#o0" x="139.1" y="44"/><use href="#o0" x="2.2" y="44"/><use href="#o0" x="108.8" y="44.1"/><use href="#o0" x="105" y="44.2"/><use href="#o0" x="12.8" y="44.2"/><use href="#o0" x="145.7" y="44.3"/><use href="#o0" x="113.6" y="44.3"/><use href="#o0" x="34.9" y="44.4"/><use href="#o0" x="87.9" y="44.5"/><use href="#o0" x="24.2" y="44.7"/><use href="#o0" x="119.1" y="44.7"/><use href="#o0" x="134.1" y="44.7"/><use href="#o0" x="91.2" y="45.2"/><use href="#o0" x="122.4" y="45.2"/><use href="#o0" x="66.8" y="45.2"/><use href="#o0" x="32.1" y="45.2"/><use href="#o0" x="147.9" y="45.2"/><use href="#o0" x="143" y="45.3"/><use href="#o0" x="2.6" y="45.4"/><use href="#o0" x="52.4" y="45.5"/><use href="#o0" x="70.9" y="45.7"/><use href="#o0" x="27.4" y="45.9"/><use href="#o0" x="102.3" y="46"/><use href="#o0" x="46.1" y="46.1"/><use href="#o0" x="93.7" y="46.1"/><use href="#o0" x="18.8" y="46.2"/><use href="#o0" x="42.3" y="46.2"/><use href="#o0" x="111.6" y="46.4"/><use href="#o0" x="49.2" y="46.6"/><use href="#o0" x="21.5" y="46.8"/><use href="#o0" x="106.5" y="46.8"/><use href="#o0" x="2.2" y="46.8"/><use href="#o0" x="64" y="46.9"/><use href="#o0" x="10.6" y="46.9"/><use href="#o0" x="74.9" y="47.2"/><use href="#o0" x="120.7" y="47.5"/><use href="#o0" x="123.9" y="47.6"/><use href="#o0" x="89.3" y="47.9"/><use href="#o0" x="145.5" y="47.9"/><use href="#o0" x="53.6" y="48.1"/><use href="#o0" x="3.6" y="48.1"/><use href="#o0" x="78" y="48.2"/><use href="#o0" x="69.5" y="48.2"/><use href="#o0" x="29" y="48.6"/><use href="#o0" x="50.9" y="48.9"/><use href="#o0" x="140.6" y="48.9"/><use href="#o0" x="46.3" y="49"/><use href="#o0" x="26.3" y="49"/><use href="#o0" x="23.5" y="49.1"/><use href="#o0" x="41.3" y="49.1"/><use href="#o0" x="92.4" y="49.3"/><use href="#o0" x="59" y="49.5"/><use href="#o0" x="143.3" y="49.6"/><use href="#o0" x="85.9" y="49.6"/><use href="#o0" x="2.2" y="49.6"/><use href="#o0" x="105.9" y="49.7"/><use href="#o0" x="17.5" y="49.8"/><use href="#o0" x="20.3" y="49.8"/><use href="#o0" x="10.1" y="49.8"/><use href="#o0" x="13" y="50.1"/><use href="#o0" x="123.1" y="50.4"/><use href="#o0" x="138.2" y="50.5"/><use href="#o0" x="2.2" y="50.6"/><use href="#o0" x="126.4" y="50.7"/><use href="#o0" x="146.3" y="50.7"/><use href="#o0" x="67.8" y="50.8"/><use href="#o0" x="147.7" y="50.8"/><use href="#o0" x="48.2" y="51.1"/><use href="#o0" x="97.3" y="51.3"/><use href="#o0" x="28.7" y="51.6"/><use href="#o0" x="107.3" y="52.1"/><use href="#o0" x="59.9" y="52.3"/><use href="#o0" x="2.1" y="52.4"/><use href="#o0" x="25.5" y="52.5"/><use href="#o0" x="50.8" y="52.9"/><use href="#o0" x="139.5" y="53"/><use href="#o0" x="121.9" y="53.1"/><use href="#o0" x="16.6" y="53.1"/><use href="#o0" x="118.7" y="53.2"/><use href="#o0" x="135.9" y="53.3"/><use href="#o0" x="3.2" y="53.5"/><use href="#o0" x="63.6" y="53.5"/><use href="#o0" x="87" y="53.6"/><use href="#o0" x="133.1" y="53.7"/><use href="#o0" x="66.4" y="53.7"/><use href="#o0" x="142.8" y="53.9"/><use href="#o0" x="82" y="53.9"/><use href="#o0" x="104.2" y="54.1"/><use href="#o0" x="148" y="54.4"/><use href="#o0" x="108.7" y="54.5"/><use href="#o0" x="130.4" y="54.7"/><use href="#o0" x="97" y="54.7"/><use href="#o0" x="48.7" y="54.9"/><use href="#o0" x="32.6" y="55.1"/><use href="#o0" x="2.3" y="55.2"/><use href="#o0" x="60.1" y="55.4"/><use href="#o0" x="127.2" y="55.5"/><use href="#o0" x="26.6" y="55.6"/><use href="#o0" x="6.1" y="55.6"/><use href="#o0" x="90.1" y="56"/><use href="#o0" x="120.2" y="56.4"/><use href="#o0" x="106.3" y="56.4"/><use href="#o0" x="144.5" y="56.4"/><use href="#o0" x="147.7" y="56.4"/><use href="#o0" x="83.6" y="56.5"/><use href="#o0" x="2.6" y="56.5"/><use href="#o0" x="124.2" y="56.5"/><use href="#o0" x="63.9" y="56.5"/><use href="#o0" x="30.4" y="56.8"/><use href="#o0" x="57" y="57"/><use href="#o0" x="53.9" y="57.2"/><use href="#o0" x="108.8" y="57.6"/><use href="#o0" x="19" y="57.8"/><use href="#o0" x="68.8" y="57.9"/><use href="#o0" x="128.5" y="57.9"/><use href="#o0" x="94.2" y="57.9"/><use href="#o0" x="76.4" y="58"/><use href="#o0" x="2" y="58"/><use href="#o0" x="114.3" y="58.1"/><use href="#o0" x="45.8" y="58.1"/><use href="#o0" x="27.5" y="58.2"/><use href="#o0" x="35.3" y="58.4"/><use href="#o0" x="24.5" y="58.5"/><use href="#o0" x="87.9" y="58.5"/><use href="#o0" x="118.4" y="58.6"/><use href="#o0" x="32.5" y="58.6"/><use href="#o0" x="49.4" y="58.7"/><use href="#o0" x="59.8" y="58.9"/><use href="#o0" x="66.3" y="59"/><use href="#o0" x="143.5" y="59.1"/><use href="#o0" x="84.4" y="59.2"/><use href="#o0" x="2.5" y="59.2"/><use href="#o0" x="98.1" y="59.2"/><use href="#o0" x="72.6" y="59.4"/><use href="#o0" x="21.3" y="59.5"/><use href="#o0" x="55.8" y="59.8"/><use href="#o0" x="124.1" y="60.2"/><use href="#o0" x="126.8" y="60.2"/><use href="#o0" x="6.5" y="60.4"/><use href="#o0" x="94.5" y="60.7"/><use href="#o0" x="69" y="60.8"/><use href="#o0" x="1.9" y="60.8"/><use href="#o0" x="75.7" y="61"/><use href="#o0" x="102" y="61.1"/><use href="#o0" x="38.6" y="61.2"/><use href="#o0" x="28.6" y="61.3"/><use href="#o0" x="31.7" y="61.3"/><use href="#o0" x="9.1" y="61.4"/><use href="#o0" x="52.9" y="61.5"/><use href="#o0" x="141.5" y="61.5"/><use href="#o0" x="49.3" y="61.7"/><use href="#o0" x="147.8" y="62"/><use href="#o0" x="25.2" y="62.1"/><use href="#o0" x="35.6" y="62.2"/><use href="#o0" x="16.6" y="62.2"/><use href="#o0" x="13.3" y="62.4"/><use href="#o0" x="135.6" y="62.5"/><use href="#o0" x="145.2" y="62.7"/><use href="#o0" x="3" y="63"/><use href="#o0" x="57" y="63.3"/><use href="#o0" x="100.4" y="63.4"/><use href="#o0" x="148.1" y="63.4"/><use href="#o0" x="2.3" y="63.6"/><use href="#o0" x="11.3" y="64.2"/><use href="#o0" x="5.9" y="64.3"/><use href="#o0" x="33.8" y="64.3"/><use href="#o0" x="50.6" y="64.4"/><use href="#o0" x="68.7" y="64.8"/><use href="#o0" x="60.7" y="65"/><use href="#o0" x="53.8" y="65.2"/><use href="#o0" x="130.7" y="65.3"/><use href="#o0" x="134.2" y="65.4"/><use href="#o0" x="39.6" y="65.4"/><use href="#o0" x="144.2" y="65.5"/><use href="#o0" x="74.6" y="65.6"/><use href="#o0" x="13.4" y="65.8"/><use href="#o0" x="17.1" y="66"/><use href="#o0" x="127.1" y="66.3"/><use href="#o0" x="1.9" y="66.4"/><use href="#o0" x="71.8" y="66.6"/><use href="#o0" x="9.7" y="66.7"/><use href="#o0" x="2.8" y="66.7"/><use href="#o0" x="98.1" y="66.8"/><use href="#o0" x="136.7" y="67"/><use href="#o0" x="100.9" y="67"/><use href="#o0" x="77" y="67"/><use href="#o0" x="47.3" y="67"/><use href="#o0" x="57.2" y="67.1"/><use href="#o0" x="108.8" y="67.1"/><use href="#o0" x="147.4" y="67.2"/><use href="#o0" x="120.5" y="67.4"/><use href="#o0" x="84.4" y="67.4"/><use href="#o0" x="50.2" y="67.4"/><use href="#o0" x="6.6" y="67.5"/><use href="#o0" x="123.4" y="67.6"/><use href="#o0" x="42.5" y="67.6"/><use href="#o0" x="94.6" y="67.6"/><use href="#o0" x="147.8" y="67.6"/><use href="#o0" x="61.4" y="67.9"/><use href="#o0" x="103.5" y="68"/><use href="#o0" x="54.2" y="68.1"/><use href="#o0" x="11.9" y="68.3"/><use href="#o0" x="81.8" y="68.8"/><use href="#o0" x="29.9" y="68.9"/><use href="#o0" x="113.3" y="69"/><use href="#o0" x="131.1" y="69.1"/><use href="#o0" x="2" y="69.2"/><use href="#o0" x="144.6" y="69.5"/><use href="#o0" x="106.3" y="69.7"/><use href="#o0" x="16.2" y="69.8"/><use href="#o0" x="79.1" y="69.8"/><use href="#o0" x="52" y="69.9"/><use href="#o0" x="100.9" y="69.9"/><use href="#o0" x="2.5" y="70"/><use href="#o0" x="8.9" y="70"/><use href="#o0" x="5.9" y="70.1"/><use href="#o0" x="45.1" y="70.1"/><use href="#o0" x="124.5" y="70.2"/><use href="#o0" x="59.5" y="70.2"/><use href="#o0" x="98.3" y="70.5"/><use href="#o0" x="121.7" y="70.5"/><use href="#o0" x="95.2" y="70.6"/><use href="#o0" x="133.4" y="70.6"/><use href="#o0" x="147.4" y="70.7"/><use href="#o0" x="56.5" y="70.7"/><use href="#o0" x="27.8" y="70.9"/><use href="#o0" x="115.2" y="71.1"/><use href="#o0" x="13.9" y="71.6"/><use href="#o0" x="70.4" y="71.6"/><use href="#o0" x="42.9" y="71.9"/><use href="#o0" x="2.3" y="72"/><use href="#o0" x="85.9" y="72.2"/><use href="#o0" x="102.6" y="72.3"/><use href="#o0" x="143.4" y="72.4"/><use href="#o0" x="53.2" y="72.4"/><use href="#o0" x="136.8" y="72.4"/><use href="#o0" x="83.1" y="72.7"/><use href="#o0" x="123.2" y="72.8"/><use href="#o0" x="72.9" y="72.9"/><use href="#o0" x="78.3" y="72.9"/><use href="#o0" x="93.3" y="72.9"/><use href="#o0" x="26.3" y="73.2"/><use href="#o0" x="147.8" y="73.2"/><use href="#o0" x="98.1" y="73.4"/><use href="#o0" x="7.5" y="73.5"/><use href="#o0" x="131.9" y="73.7"/><use href="#o0" x="45" y="73.7"/><use href="#o0" x="30.3" y="73.9"/><use href="#o0" x="88.1" y="73.9"/><use href="#o0" x="18.4" y="74"/><use href="#o0" x="62.5" y="74.1"/><use href="#o0" x="55.3" y="74.2"/><use href="#o0" x="4.4" y="74.2"/><use href="#o0" x="116.8" y="74.2"/><use href="#o0" x="50.7" y="74.5"/><use href="#o0" x="135.3" y="74.8"/><use href="#o0" x="2.3" y="74.8"/><use href="#o0" x="11.1" y="74.9"/><use href="#o0" x="119.7" y="75.1"/><use href="#o0" x="40.6" y="75.2"/><use href="#o0" x="66.6" y="75.4"/><use href="#o0" x="37.4" y="75.5"/><use href="#o0" x="144.6" y="75.6"/><use href="#o0" x="73.7" y="75.7"/><use href="#o0" x="25.8" y="75.8"/><use href="#o0" x="140.2" y="75.9"/><use href="#o0" x="21.1" y="75.9"/><use href="#o0" x="70.3" y="76"/><use href="#o0" x="34.7" y="76.1"/><use href="#o0" x="98.7" y="76.2"/><use href="#o0" x="133.1" y="76.5"/><use href="#o0" x="124.4" y="76.5"/><use href="#o0" x="42.8" y="76.6"/><use href="#o0" x="95.8" y="76.7"/><use href="#o0" x="115.5" y="76.9"/><use href="#o0" x="109.9" y="77"/><use href="#o0" x="112.7" y="77.1"/><use href="#o0" x="30" y="77.1"/><use href="#o0" x="91.9" y="77.1"/><use href="#o0" x="18" y="77.2"/><use href="#o0" x="63.2" y="77.2"/><use href="#o0" x="137.5" y="77.3"/><use href="#o0" x="88.4" y="77.3"/><use href="#o0" x="107" y="77.4"/><use href="#o0" x="146.7" y="77.4"/><use href="#o0" x="2" y="77.6"/><use href="#o0" x="85.3" y="77.9"/><use href="#o0" x="130.6" y="77.9"/><use href="#o0" x="12.2" y="78.1"/><use href="#o0" x="40.6" y="78.1"/><use href="#o0" x="142.4" y="78.3"/><use href="#o0" x="79.3" y="78.4"/><use href="#o0" x="4.1" y="78.5"/><use href="#o0" x="44.6" y="78.7"/><use href="#o0" x="32.8" y="78.7"/><use href="#o0" x="82.4" y="78.7"/><use href="#o0" x="70" y="78.8"/><use href="#o0" x="72.7" y="78.8"/><use href="#o0" x="148" y="78.8"/><use href="#o0" x="135.2" y="78.9"/><use href="#o0" x="21.4" y="79.2"/><use href="#o0" x="89.8" y="79.6"/><use href="#o0" x="114.7" y="79.7"/><use href="#o0" x="16.6" y="79.8"/><use href="#o0" x="125.4" y="79.9"/><use href="#o0" x="42.4" y="80.3"/><use href="#o0" x="1.9" y="80.4"/><use href="#o0" x="147.7" y="80.7"/><use href="#o0" x="51.5" y="80.8"/><use href="#o0" x="106.8" y="80.9"/><use href="#o0" x="94.4" y="80.9"/><use href="#o0" x="30.6" y="81"/><use href="#o0" x="74.1" y="81.2"/><use href="#o0" x="39.7" y="81.2"/><use href="#o0" x="141.4" y="81.3"/><use href="#o0" x="19.4" y="81.4"/><use href="#o0" x="2.1" y="81.6"/><use href="#o0" x="110.4" y="81.6"/><use href="#o0" x="66.4" y="81.7"/><use href="#o0" x="70.5" y="81.8"/><use href="#o0" x="47.8" y="81.9"/><use href="#o0" x="134.3" y="82.1"/><use href="#o0" x="81.9" y="82.1"/><use href="#o0" x="137.3" y="82.2"/><use href="#o0" x="85" y="82.4"/><use href="#o0" x="144.1" y="82.5"/><use href="#o0" x="114.6" y="82.6"/><use href="#o0" x="15.1" y="82.7"/><use href="#o0" x="125.7" y="82.7"/><use href="#o0" x="44.5" y="83"/><use href="#o0" x="2.1" y="83.2"/><use href="#o0" x="77.8" y="83.5"/><use href="#o0" x="58.2" y="83.6"/><use href="#o0" x="92.4" y="83.9"/><use href="#o0" x="107.1" y="84.2"/><use href="#o0" x="39.5" y="84.2"/><use href="#o0" x="49.8" y="84.4"/><use href="#o0" x="72.8" y="84.4"/><use href="#o0" x="42.2" y="84.4"/><use href="#o0" x="147.8" y="84.4"/><use href="#o0" x="52.8" y="84.5"/><use href="#o0" x="18.2" y="85"/><use href="#o0" x="29.3" y="85"/><use href="#o0" x="139.4" y="85.1"/><use href="#o0" x="147.4" y="85.2"/><use href="#o0" x="47.2" y="85.4"/><use href="#o0" x="14.2" y="85.7"/><use href="#o0" x="5.9" y="85.7"/><use href="#o0" x="127.4" y="85.8"/><use href="#o0" x="112.6" y="86"/><use href="#o0" x="89.4" y="86"/><use href="#o0" x="2.2" y="86"/><use href="#o0" x="102.4" y="86.2"/><use href="#o0" x="3.3" y="86.4"/><use href="#o0" x="57.4" y="86.5"/><use href="#o0" x="142.6" y="86.5"/><use href="#o0" x="106" y="86.7"/><use href="#o0" x="51.3" y="86.7"/><use href="#o0" x="54.5" y="86.9"/><use href="#o0" x="43.6" y="86.9"/><use href="#o0" x="137.3" y="87.1"/><use href="#o0" x="39.7" y="87.2"/><use href="#o0" x="117.2" y="87.4"/><use href="#o0" x="35.9" y="87.5"/><use href="#o0" x="30.3" y="87.6"/><use href="#o0" x="72.2" y="87.7"/><use href="#o0" x="15.9" y="87.9"/><use href="#o0" x="94.2" y="88"/><use href="#o0" x="33" y="88.2"/><use href="#o0" x="91.5" y="88.4"/><use href="#o0" x="65.6" y="88.5"/><use href="#o0" x="131.9" y="88.7"/><use href="#o0" x="146.5" y="88.8"/><use href="#o0" x="128.1" y="88.8"/><use href="#o0" x="2.2" y="88.8"/><use href="#o0" x="113.5" y="88.9"/><use href="#o0" x="5.7" y="88.9"/><use href="#o0" x="140.3" y="89.3"/><use href="#o0" x="51.4" y="89.5"/><use href="#o0" x="56.6" y="89.5"/><use href="#o0" x="24.4" y="89.5"/><use href="#o0" x="41.5" y="89.6"/><use href="#o0" x="2.2" y="89.6"/><use href="#o0" x="87.5" y="89.7"/><use href="#o0" x="75.4" y="90"/><use href="#o0" x="148.1" y="90"/><use href="#o0" x="81.2" y="90.2"/><use href="#o0" x="124.2" y="90.5"/><use href="#o0" x="71.5" y="90.7"/><use href="#o0" x="18.2" y="90.7"/><use href="#o0" x="144.5" y="90.8"/><use href="#o0" x="94.1" y="90.8"/><use href="#o0" x="53.8" y="90.9"/><use href="#o0" x="59.9" y="90.9"/><use href="#o0" x="7.9" y="91.2"/><use href="#o0" x="4.4" y="91.3"/><use href="#o0" x="11.8" y="91.3"/><use href="#o0" x="34.4" y="91.4"/><use href="#o0" x="31.7" y="91.4"/><use href="#o0" x="68.8" y="91.4"/><use href="#o0" x="21" y="91.5"/><use href="#o0" x="2.1" y="91.6"/><use href="#o0" x="148.1" y="91.7"/><use href="#o0" x="83.8" y="91.8"/><use href="#o0" x="141.8" y="92"/><use href="#o0" x="138.4" y="92"/><use href="#o0" x="39.8" y="92.2"/><use href="#o0" x="78.1" y="92.4"/><use href="#o0" x="134" y="92.6"/><use href="#o0" x="23.7" y="92.8"/><use href="#o0" x="14.3" y="92.8"/><use href="#o0" x="50" y="92.9"/><use href="#o0" x="92.3" y="93"/><use href="#o0" x="103.8" y="93.1"/><use href="#o0" x="57" y="93.4"/><use href="#o0" x="42.3" y="93.5"/><use href="#o0" x="9.8" y="93.5"/><use href="#o0" x="52.7" y="93.9"/><use href="#o0" x="143.8" y="93.9"/><use href="#o0" x="111.5" y="94"/><use href="#o0" x="67.5" y="94"/><use href="#o0" x="29.1" y="94.1"/><use href="#o0" x="2.3" y="94.4"/><use href="#o0" x="26.3" y="94.5"/><use href="#o0" x="81.3" y="94.6"/><use href="#o0" x="45.7" y="94.8"/><use href="#o0" x="140.3" y="94.8"/><use href="#o0" x="132.2" y="94.9"/><use href="#o0" x="147.6" y="94.9"/><use href="#o0" x="119.4" y="95"/><use href="#o0" x="105.8" y="95.1"/><use href="#o0" x="4.9" y="95.3"/><use href="#o0" x="137" y="95.5"/><use href="#o0" x="147.9" y="95.6"/><use href="#o0" x="92.3" y="95.8"/><use href="#o0" x="109.5" y="95.9"/><use href="#o0" x="129.6" y="96"/><use href="#o0" x="42.9" y="96.1"/><use href="#o0" x="17.5" y="96.8"/><use href="#o0" x="31.7" y="96.8"/><use href="#o0" x="64.1" y="96.9"/><use href="#o0" x="40" y="97.2"/><use href="#o0" x="2.2" y="97.2"/><use href="#o0" x="70" y="97.4"/><use href="#o0" x="102.8" y="97.5"/><use href="#o0" x="143.8" y="97.7"/><use href="#o0" x="67.2" y="97.7"/><use href="#o0" x="46.3" y="97.9"/><use href="#o0" x="105.5" y="98"/><use href="#o0" x="111.7" y="98"/><use href="#o0" x="5.3" y="98.5"/><use href="#o0" x="94.7" y="98.7"/><use href="#o0" x="37.8" y="98.8"/><use href="#o0" x="14.4" y="98.8"/><use href="#o0" x="19.1" y="99.1"/><use href="#o0" x="115.9" y="99.3"/><use href="#o0" x="140" y="99.3"/><use href="#o0" x="71.8" y="99.4"/><use href="#o0" x="11.2" y="99.6"/><use href="#o0" x="41.3" y="99.7"/><use href="#o0" x="48.6" y="99.8"/><use href="#o0" x="147.3" y="99.8"/><use href="#o0" x="64.3" y="100"/><use href="#o0" x="1.9" y="100"/><use href="#o0" x="32.6" y="100.1"/><use href="#o0" x="120.6" y="100.6"/><use href="#o0" x="87" y="100.7"/><use href="#o0" x="76.6" y="100.7"/><use href="#o0" x="110.3" y="100.8"/><use href="#o0" x="125.4" y="100.8"/><use href="#o0" x="8.4" y="100.8"/><use href="#o0" x="90.3" y="101"/><use href="#o0" x="113.1" y="101.1"/><use href="#o0" x="147.8" y="101.2"/><use href="#o0" x="13.3" y="101.5"/><use href="#o0" x="96.3" y="101.9"/><use href="#o0" x="140.3" y="102.1"/><use href="#o0" x="52.1" y="102.1"/><use href="#o0" x="39.7" y="102.3"/><use href="#o0" x="19.3" y="102.3"/><use href="#o0" x="36.2" y="102.6"/><use href="#o0" x="63" y="102.6"/><use href="#o0" x="143.1" y="102.7"/><use href="#o0" x="26.7" y="102.8"/><use href="#o0" x="2.1" y="102.8"/><use href="#o0" x="44.8" y="102.9"/><use href="#o0" x="33.1" y="102.9"/><use href="#o0" x="108.5" y="103"/><use href="#o0" x="123.4" y="103"/><use href="#o0" x="16.4" y="103"/><use href="#o0" x="5.5" y="103"/><use href="#o0" x="78.5" y="103"/><use href="#o0" x="147.1" y="103.2"/><use href="#o0" x="126.6" y="103.2"/><use href="#o0" x="129.4" y="103.3"/><use href="#o0" x="67.7" y="103.4"/><use href="#o0" x="72.6" y="103.4"/><use href="#o0" x="93.7" y="103.4"/><use href="#o0" x="75.8" y="104"/><use href="#o0" x="111.3" y="104.3"/><use href="#o0" x="11.2" y="104.5"/><use href="#o0" x="99.5" y="104.8"/><use href="#o0" x="81.7" y="104.9"/><use href="#o0" x="144.6" y="105"/><use href="#o0" x="70.2" y="105"/><use href="#o0" x="120.2" y="105"/><use href="#o0" x="41.8" y="105.1"/><use href="#o0" x="131.5" y="105.2"/><use href="#o0" x="53.1" y="105.3"/><use href="#o0" x="117.4" y="105.6"/><use href="#o0" x="2" y="105.6"/><use href="#o0" x="38.5" y="105.7"/><use href="#o0" x="14.5" y="105.7"/><use href="#o0" x="147.6" y="106"/><use href="#o0" x="78.7" y="106.1"/><use href="#o0" x="95.1" y="106.4"/><use href="#o0" x="124.6" y="106.4"/><use href="#o0" x="73.4" y="106.5"/><use href="#o0" x="50.6" y="106.5"/><use href="#o0" x="129.2" y="106.7"/><use href="#o0" x="147.7" y="106.8"/><use href="#o0" x="142.3" y="107.2"/><use href="#o0" x="76" y="107.4"/><use href="#o0" x="83.5" y="107.5"/><use href="#o0" x="2.1" y="107.7"/><use href="#o0" x="33.4" y="107.8"/><use href="#o0" x="87" y="108.1"/><use href="#o0" x="137.4" y="108.4"/><use href="#o0" x="2" y="108.4"/><use href="#o0" x="9.8" y="108.5"/><use href="#o0" x="60.6" y="109"/><use href="#o0" x="70" y="109.1"/><use href="#o0" x="103.9" y="109.1"/><use href="#o0" x="127.1" y="109.2"/><use href="#o0" x="140" y="109.2"/><use href="#o0" x="72.7" y="109.2"/><use href="#o0" x="98.9" y="109.3"/><use href="#o0" x="26.8" y="109.4"/><use href="#o0" x="108.1" y="109.4"/><use href="#o0" x="12.7" y="109.4"/><use href="#o0" x="7.2" y="109.4"/><use href="#o0" x="66.3" y="109.4"/><use href="#o0" x="36.2" y="109.5"/><use href="#o0" x="146.8" y="109.7"/><use href="#o0" x="56.2" y="109.9"/><use href="#o0" x="81.7" y="110"/><use href="#o0" x="131.7" y="110"/><use href="#o0" x="39.4" y="110.4"/><use href="#o0" x="118.6" y="110.4"/><use href="#o0" x="84.6" y="110.5"/><use href="#o0" x="124.3" y="110.7"/><use href="#o0" x="135.9" y="110.7"/><use href="#o0" x="15.2" y="111"/><use href="#o0" x="18.1" y="111"/><use href="#o0" x="112.4" y="111.1"/><use href="#o0" x="92.3" y="111.2"/><use href="#o0" x="2.2" y="111.2"/><use href="#o0" x="23.4" y="111.4"/><use href="#o0" x="144.5" y="111.4"/><use href="#o0" x="77" y="111.4"/><use href="#o0" x="45.7" y="111.6"/><use href="#o0" x="100.7" y="111.6"/><use href="#o0" x="138.6" y="111.6"/><use href="#o0" x="74.1" y="111.7"/><use href="#o0" x="64.7" y="111.7"/><use href="#o0" x="71.3" y="111.9"/><use href="#o0" x="126.7" y="112.1"/><use href="#o0" x="129.5" y="112.1"/><use href="#o0" x="147.9" y="112.3"/><use href="#o0" x="5.7" y="112.3"/><use href="#o0" x="109.9" y="112.4"/><use href="#o0" x="26.6" y="112.4"/><use href="#o0" x="147.9" y="112.4"/><use href="#o0" x="57.3" y="112.5"/><use href="#o0" x="48.3" y="112.7"/><use href="#o0" x="79.7" y="112.9"/><use href="#o0" x="41.7" y="113.1"/><use href="#o0" x="33.3" y="113.2"/><use href="#o0" x="52" y="113.2"/><use href="#o0" x="9.5" y="113.3"/><use href="#o0" x="60.9" y="113.4"/><use href="#o0" x="69.1" y="113.5"/><use href="#o0" x="21.5" y="113.5"/><use href="#o0" x="141.3" y="113.6"/><use href="#o0" x="105.3" y="113.8"/><use href="#o0" x="84.9" y="113.8"/><use href="#o0" x="75.7" y="113.9"/><use href="#o0" x="91.2" y="114"/><use href="#o0" x="97.9" y="114.1"/><use href="#o0" x="2.7" y="114.2"/><use href="#o0" x="39" y="114.2"/><use href="#o0" x="16.7" y="114.2"/><use href="#o0" x="125.1" y="114.3"/><use href="#o0" x="131" y="114.4"/><use href="#o0" x="46.1" y="114.5"/><use href="#o0" x="145.5" y="114.5"/><use href="#o0" x="72.1" y="114.5"/><use href="#o0" x="116.6" y="114.6"/><use href="#o0" x="30.2" y="114.6"/><use href="#o0" x="13.3" y="114.7"/><use href="#o0" x="113.7" y="114.8"/><use href="#o0" x="6.6" y="114.9"/><use href="#o0" x="93.9" y="115"/><use href="#o0" x="50" y="115.2"/><use href="#o0" x="87.2" y="115.3"/><use href="#o0" x="119.7" y="115.4"/><use href="#o0" x="78.2" y="115.4"/><use href="#o0" x="59" y="115.4"/><use href="#o0" x="42.1" y="116"/></g>
<g id="gsheet"><rect x="1.2" y="1.2" width="147.6" height="115.6" fill="#3c4c06"/><use href="#g4" x="63.1" y="1.9"/><use href="#g4" x="34.5" y="2"/><use href="#g4" x="142.3" y="2.2"/><use href="#g4" x="29.1" y="2.4"/><use href="#g4" x="113" y="2.6"/><use href="#g4" x="91.2" y="2.8"/><use href="#g4" x="13.7" y="3.6"/><use href="#g4" x="66.5" y="3.9"/><use href="#g4" x="18.4" y="4.2"/><use href="#g4" x="43.7" y="4.8"/><use href="#g4" x="110.5" y="5"/><use href="#g4" x="48.5" y="5.2"/><use href="#g4" x="28.8" y="5.3"/><use href="#g4" x="123.2" y="5.4"/><use href="#g4" x="18.9" y="5.8"/><use href="#g4" x="126.2" y="6.1"/><use href="#g4" x="72.7" y="11.6"/><use href="#g4" x="105.7" y="12.7"/><use href="#g4" x="121.9" y="14"/><use href="#g4" x="53.7" y="14.8"/><use href="#g4" x="148.1" y="14.9"/><use href="#g4" x="38.3" y="15.8"/><use href="#g4" x="26.2" y="16"/><use href="#g4" x="146.1" y="16.1"/><use href="#g4" x="84.9" y="16.6"/><use href="#g4" x="102.1" y="17.6"/><use href="#g4" x="52.4" y="17.8"/><use href="#g4" x="71.6" y="18.1"/><use href="#g4" x="116.6" y="18.4"/><use href="#g4" x="4.8" y="18.4"/><use href="#g4" x="55.3" y="18.9"/><use href="#g4" x="40.7" y="18.9"/><use href="#g4" x="104.8" y="19.9"/><use href="#g4" x="132.7" y="19.9"/><use href="#g4" x="138.2" y="27.4"/><use href="#g4" x="81.2" y="27.6"/><use href="#g4" x="114.1" y="27.9"/><use href="#g4" x="66" y="28"/><use href="#g4" x="125.7" y="28.9"/><use href="#g4" x="16" y="29.6"/><use href="#g4" x="19.6" y="30"/><use href="#g4" x="60.8" y="31.2"/><use href="#g4" x="125.5" y="34.7"/><use href="#g4" x="123.2" y="35"/><use href="#g4" x="101.6" y="40.7"/><use href="#g4" x="56.4" y="41.9"/><use href="#g4" x="117.6" y="44.3"/><use href="#g4" x="68" y="44.9"/><use href="#g4" x="122.7" y="45"/><use href="#g4" x="102.5" y="46.9"/><use href="#g4" x="120" y="48.1"/><use href="#g4" x="15.5" y="53.3"/><use href="#g4" x="78.6" y="54.2"/><use href="#g4" x="64.4" y="55"/><use href="#g4" x="49" y="55.7"/><use href="#g4" x="112.2" y="56"/><use href="#g4" x="142.3" y="56.9"/><use href="#g4" x="95.8" y="57.1"/><use href="#g4" x="91.3" y="58.2"/><use href="#g4" x="34.6" y="58.2"/><use href="#g4" x="138" y="59.5"/><use href="#g4" x="77.9" y="59.8"/><use href="#g4" x="60.4" y="61.1"/><use href="#g4" x="46.6" y="61.3"/><use href="#g4" x="90.3" y="61.9"/><use href="#g4" x="140.6" y="62.3"/><use href="#g4" x="9.5" y="67"/><use href="#g4" x="73.5" y="67.8"/><use href="#g4" x="39.3" y="68.9"/><use href="#g4" x="21.4" y="68.9"/><use href="#g4" x="135.8" y="69.1"/><use href="#g4" x="105.5" y="69.8"/><use href="#g4" x="42.9" y="69.8"/><use href="#g4" x="58.5" y="70.9"/><use href="#g4" x="52.5" y="71.7"/><use href="#g4" x="135.8" y="72.1"/><use href="#g4" x="71.2" y="72.6"/><use href="#g4" x="146.8" y="73.7"/><use href="#g4" x="36.9" y="74.3"/><use href="#g4" x="101.6" y="75.4"/><use href="#g4" x="104.1" y="75.5"/><use href="#g4" x="143.8" y="81.7"/><use href="#g4" x="93.3" y="81.7"/><use href="#g4" x="94.9" y="82.2"/><use href="#g4" x="62.9" y="82.5"/><use href="#g4" x="110.8" y="82.6"/><use href="#g4" x="20.3" y="82.8"/><use href="#g4" x="3.3" y="83.4"/><use href="#g4" x="107.6" y="84.1"/><use href="#g4" x="13.3" y="86.7"/><use href="#g4" x="60.6" y="87.2"/><use href="#g4" x="92.7" y="87.3"/><use href="#g4" x="47" y="88.1"/><use href="#g4" x="6.3" y="95.5"/><use href="#g4" x="8.6" y="95.7"/><use href="#g4" x="70.5" y="96.8"/><use href="#g4" x="55.1" y="97.9"/><use href="#g4" x="147.1" y="98"/><use href="#g4" x="122" y="98"/><use href="#g4" x="131.1" y="98.7"/><use href="#g4" x="73.8" y="99.2"/><use href="#g4" x="9.1" y="100.8"/><use href="#g4" x="116.7" y="101"/><use href="#g4" x="5.3" y="101.1"/><use href="#g4" x="132.5" y="101.6"/><use href="#g4" x="38.5" y="102.2"/><use href="#g4" x="25.3" y="102.9"/><use href="#g4" x="84" y="103.1"/><use href="#g4" x="99.3" y="103.7"/><use href="#g4" x="24.7" y="105.1"/><use href="#g4" x="98.5" y="107.4"/><use href="#g4" x="98.3" y="109.4"/><use href="#g4" x="32.3" y="109.5"/><use href="#g4" x="94.8" y="109.7"/><use href="#g4" x="49.4" y="110"/><use href="#g4" x="3.4" y="110.7"/><use href="#g4" x="34" y="110.8"/><use href="#g4" x="143.5" y="111.8"/><use href="#g4" x="14.6" y="112.9"/><use href="#g4" x="49.2" y="113"/><use href="#g4" x="96" y="115"/><use href="#g4" x="29.7" y="115.4"/><use href="#g4" x="61.3" y="115.8"/><use href="#g4" x="123.9" y="116"/><use href="#g3" x="96.5" y="1.9"/><use href="#g3" x="17.1" y="8.8"/><use href="#g3" x="134.3" y="13.7"/><use href="#g3" x="8" y="19.1"/><use href="#g3" x="145.6" y="20.2"/><use href="#g3" x="77.3" y="26.3"/><use href="#g3" x="45.9" y="27"/><use href="#g3" x="127.6" y="29.4"/><use href="#g3" x="67.3" y="42.7"/><use href="#g3" x="53.3" y="46.5"/><use href="#g3" x="123.6" y="59.1"/><use href="#g3" x="11.9" y="59.4"/><use href="#g3" x="108.6" y="59.9"/><use href="#g3" x="100.4" y="76.5"/><use href="#g3" x="48.4" y="80.6"/><use href="#g3" x="3.7" y="81.6"/><use href="#g3" x="140.1" y="88.3"/><use href="#g3" x="16.7" y="89.1"/><use href="#g3" x="141.8" y="89.8"/><use href="#g3" x="56.2" y="94.8"/><use href="#g3" x="23.9" y="96.7"/><use href="#g3" x="99.6" y="96.9"/><use href="#g3" x="43" y="102.3"/><use href="#g3" x="128" y="114.3"/><use href="#g3" x="3.2" y="115.4"/><use href="#g3" x="43" y="115.7"/><use href="#g2" x="74.8" y="18"/><use href="#g2" x="90.4" y="20.2"/><use href="#g2" x="2.8" y="32.1"/><use href="#g2" x="77.6" y="61.4"/><use href="#g2" x="82.2" y="110.2"/><use href="#g1" x="49.6" y="1.9"/><use href="#g1" x="59.9" y="1.9"/><use href="#g1" x="23.8" y="2"/><use href="#g1" x="11.2" y="2.3"/><use href="#g1" x="136.9" y="2.4"/><use href="#g1" x="22.2" y="2.5"/><use href="#g1" x="85.2" y="2.6"/><use href="#g1" x="71.7" y="2.8"/><use href="#g1" x="52.9" y="3"/><use href="#g1" x="120.3" y="3.4"/><use href="#g1" x="37.4" y="3.4"/><use href="#g1" x="115.5" y="3.8"/><use href="#g1" x="103.1" y="3.8"/><use href="#g1" x="98" y="4.3"/><use href="#g1" x="50.4" y="4.5"/><use href="#g1" x="58.9" y="4.5"/><use href="#g1" x="9.7" y="4.8"/><use href="#g1" x="132.6" y="4.8"/><use href="#g1" x="7.4" y="5.1"/><use href="#g1" x="74.1" y="5.3"/><use href="#g1" x="84.2" y="5.3"/><use href="#g1" x="68" y="5.5"/><use href="#g1" x="147.9" y="5.8"/><use href="#g1" x="89.1" y="5.9"/><use href="#g1" x="11.3" y="6.1"/><use href="#g1" x="85.7" y="6.3"/><use href="#g1" x="23.5" y="6.9"/><use href="#g1" x="52.9" y="7"/><use href="#g1" x="34.7" y="7.3"/><use href="#g1" x="38.3" y="7.3"/><use href="#g1" x="131.2" y="7.4"/><use href="#g1" x="77" y="7.6"/><use href="#g1" x="74.8" y="7.8"/><use href="#g1" x="66.4" y="7.9"/><use href="#g1" x="5.4" y="8"/><use href="#g1" x="40.8" y="8.2"/><use href="#g1" x="46.3" y="8.2"/><use href="#g1" x="27.5" y="8.2"/><use href="#g1" x="119.7" y="8.2"/><use href="#g1" x="71.3" y="8.3"/><use href="#g1" x="79.2" y="8.3"/><use href="#g1" x="143.8" y="8.4"/><use href="#g1" x="130" y="8.4"/><use href="#g1" x="105" y="8.5"/><use href="#g1" x="87.3" y="8.5"/><use href="#g1" x="83.6" y="8.6"/><use href="#g1" x="10.5" y="8.6"/><use href="#g1" x="140.3" y="8.6"/><use href="#g1" x="61.3" y="8.8"/><use href="#g1" x="122.5" y="8.9"/><use href="#g1" x="48" y="9.1"/><use href="#g1" x="125.4" y="9.1"/><use href="#g1" x="97.9" y="9.2"/><use href="#g1" x="12.9" y="9.2"/><use href="#g1" x="77.2" y="9.9"/><use href="#g1" x="116.7" y="9.9"/><use href="#g1" x="31.9" y="10"/><use href="#g1" x="58.6" y="10.2"/><use href="#g1" x="18.4" y="10.2"/><use href="#g1" x="80.3" y="10.6"/><use href="#g1" x="8.1" y="10.8"/><use href="#g1" x="108.3" y="10.9"/><use href="#g1" x="139.4" y="10.9"/><use href="#g1" x="45.6" y="11"/><use href="#g1" x="142.7" y="11"/><use href="#g1" x="136.8" y="11.1"/><use href="#g1" x="147.8" y="11.2"/><use href="#g1" x="65.2" y="11.5"/><use href="#g1" x="148" y="11.8"/><use href="#g1" x="96.9" y="12.1"/><use href="#g1" x="40.9" y="12.1"/><use href="#g1" x="34.3" y="12.2"/><use href="#g1" x="18.3" y="12.4"/><use href="#g1" x="30" y="12.5"/><use href="#g1" x="110.4" y="12.8"/><use href="#g1" x="38" y="12.9"/><use href="#g1" x="43.5" y="12.9"/><use href="#g1" x="128.5" y="13"/><use href="#g1" x="22" y="13.1"/><use href="#g1" x="32.7" y="13.2"/><use href="#g1" x="93.7" y="13.3"/><use href="#g1" x="65.7" y="13.3"/><use href="#g1" x="27.3" y="13.3"/><use href="#g1" x="16.8" y="13.3"/><use href="#g1" x="136.9" y="13.3"/><use href="#g1" x="124.9" y="13.6"/><use href="#g1" x="91" y="14.3"/><use href="#g1" x="31.7" y="14.4"/><use href="#g1" x="61.9" y="14.5"/><use href="#g1" x="81.4" y="14.7"/><use href="#g1" x="44.9" y="15"/><use href="#g1" x="97.2" y="15"/><use href="#g1" x="63.7" y="15.5"/><use href="#g1" x="29" y="15.5"/><use href="#g1" x="95.7" y="15.5"/><use href="#g1" x="16.2" y="15.7"/><use href="#g1" x="112.1" y="15.7"/><use href="#g1" x="138.4" y="16.1"/><use href="#g1" x="143.9" y="16.3"/><use href="#g1" x="148.1" y="16.6"/><use href="#g1" x="140.9" y="17.2"/><use href="#g1" x="46.2" y="17.2"/><use href="#g1" x="61" y="17.7"/><use href="#g1" x="19.4" y="17.9"/><use href="#g1" x="113.9" y="18.2"/><use href="#g1" x="11.1" y="18.4"/><use href="#g1" x="80.7" y="18.5"/><use href="#g1" x="68" y="18.5"/><use href="#g1" x="50.6" y="18.5"/><use href="#g1" x="94.3" y="18.6"/><use href="#g1" x="96.6" y="18.7"/><use href="#g1" x="32.6" y="19.2"/><use href="#g1" x="122.5" y="19.2"/><use href="#g1" x="13.7" y="19.3"/><use href="#g1" x="127" y="19.3"/><use href="#g1" x="77.5" y="19.4"/><use href="#g1" x="35.3" y="20.2"/><use href="#g1" x="69.6" y="20.5"/><use href="#g1" x="142.5" y="20.5"/><use href="#g1" x="114.4" y="20.6"/><use href="#g1" x="2.9" y="20.6"/><use href="#g1" x="52.3" y="20.8"/><use href="#g1" x="72" y="20.9"/><use href="#g1" x="79.9" y="21.2"/><use href="#g1" x="112.4" y="21.5"/><use href="#g1" x="17.1" y="21.7"/><use href="#g1" x="116.5" y="21.7"/><use href="#g1" x="15.3" y="21.8"/><use href="#g1" x="145.5" y="21.8"/><use href="#g1" x="147.9" y="21.9"/><use href="#g1" x="102.4" y="22"/><use href="#g1" x="128.3" y="22.3"/><use href="#g1" x="98.7" y="22.5"/><use href="#g1" x="126" y="22.5"/><use href="#g1" x="33.6" y="22.5"/><use href="#g1" x="84.8" y="22.6"/><use href="#g1" x="58.3" y="22.7"/><use href="#g1" x="49.8" y="22.8"/><use href="#g1" x="67.4" y="22.8"/><use href="#g1" x="44.5" y="23"/><use href="#g1" x="132.1" y="23.1"/><use href="#g1" x="81.3" y="23.1"/><use href="#g1" x="87.6" y="23.2"/><use href="#g1" x="18.4" y="23.3"/><use href="#g1" x="1.9" y="23.3"/><use href="#g1" x="37.6" y="23.3"/><use href="#g1" x="147.6" y="23.5"/><use href="#g1" x="73.8" y="23.8"/><use href="#g1" x="51.2" y="23.8"/><use href="#g1" x="106.8" y="23.8"/><use href="#g1" x="4.9" y="24.3"/><use href="#g1" x="55.6" y="24.5"/><use href="#g1" x="80.6" y="24.7"/><use href="#g1" x="120.9" y="24.7"/><use href="#g1" x="41.6" y="24.8"/><use href="#g1" x="14.6" y="24.8"/><use href="#g1" x="117.7" y="24.9"/><use href="#g1" x="102.8" y="24.9"/><use href="#g1" x="90" y="25"/><use href="#g1" x="47.3" y="25.3"/><use href="#g1" x="133.2" y="25.4"/><use href="#g1" x="114.8" y="25.4"/><use href="#g1" x="35" y="25.4"/><use href="#g1" x="10.7" y="25.9"/><use href="#g1" x="82.7" y="26"/><use href="#g1" x="129.2" y="26.1"/><use href="#g1" x="84.5" y="26.2"/><use href="#g1" x="75.2" y="26.4"/><use href="#g1" x="108.2" y="26.5"/><use href="#g1" x="25.2" y="26.5"/><use href="#g1" x="93.4" y="26.7"/><use href="#g1" x="118.4" y="26.7"/><use href="#g1" x="100.4" y="26.7"/><use href="#g1" x="68.8" y="27"/><use href="#g1" x="121.4" y="27.1"/><use href="#g1" x="104.8" y="27.3"/><use href="#g1" x="19.4" y="27.3"/><use href="#g1" x="52" y="27.3"/><use href="#g1" x="147.8" y="27.3"/><use href="#g1" x="10.2" y="27.5"/><use href="#g1" x="55.5" y="27.6"/><use href="#g1" x="28.3" y="27.8"/><use href="#g1" x="119.4" y="27.9"/><use href="#g1" x="108.1" y="28.1"/><use href="#g1" x="42.3" y="28.2"/><use href="#g1" x="122.6" y="28.3"/><use href="#g1" x="59.1" y="28.3"/><use href="#g1" x="83.4" y="28.4"/><use href="#g1" x="4" y="28.7"/><use href="#g1" x="21" y="29.2"/><use href="#g1" x="130.6" y="29.3"/><use href="#g1" x="145.7" y="29.5"/><use href="#g1" x="91.1" y="29.6"/><use href="#g1" x="7.2" y="29.9"/><use href="#g1" x="36.6" y="30"/><use href="#g1" x="27.7" y="30.4"/><use href="#g1" x="10.7" y="30.5"/><use href="#g1" x="53.7" y="30.5"/><use href="#g1" x="132.9" y="30.7"/><use href="#g1" x="52.1" y="30.9"/><use href="#g1" x="82.4" y="31.1"/><use href="#g1" x="86.9" y="31.1"/><use href="#g1" x="24" y="31.2"/><use href="#g1" x="118.6" y="31.2"/><use href="#g1" x="6.2" y="31.2"/><use href="#g1" x="70.1" y="31.7"/><use href="#g1" x="49.9" y="31.9"/><use href="#g1" x="20.9" y="32"/><use href="#g1" x="26.3" y="32.1"/><use href="#g1" x="57.3" y="32.2"/><use href="#g1" x="38.3" y="32.3"/><use href="#g1" x="105.2" y="32.6"/><use href="#g1" x="148" y="32.8"/><use href="#g1" x="114.7" y="32.8"/><use href="#g1" x="28.5" y="32.8"/><use href="#g1" x="98.5" y="32.9"/><use href="#g1" x="101.3" y="33"/><use href="#g1" x="68" y="33"/><use href="#g1" x="120.1" y="33.1"/><use href="#g1" x="84.6" y="33.1"/><use href="#g1" x="9.6" y="33.4"/><use href="#g1" x="70.8" y="33.6"/><use href="#g1" x="131.7" y="33.6"/><use href="#g1" x="53.7" y="33.7"/><use href="#g1" x="20.7" y="33.9"/><use href="#g1" x="77.3" y="34.1"/><use href="#g1" x="128.8" y="34.4"/><use href="#g1" x="112.4" y="34.5"/><use href="#g1" x="24.4" y="34.5"/><use href="#g1" x="109.9" y="34.7"/><use href="#g1" x="19" y="34.8"/><use href="#g1" x="134.4" y="35"/><use href="#g1" x="95.8" y="35.3"/><use href="#g1" x="26.1" y="35.3"/><use href="#g1" x="83" y="35.4"/><use href="#g1" x="28" y="35.4"/><use href="#g1" x="62.5" y="35.5"/><use href="#g1" x="89.6" y="35.6"/><use href="#g1" x="38.5" y="35.6"/><use href="#g1" x="31.8" y="35.6"/><use href="#g1" x="138.3" y="35.9"/><use href="#g1" x="42.8" y="36"/><use href="#g1" x="69.1" y="36.2"/><use href="#g1" x="45.3" y="36.2"/><use href="#g1" x="66.6" y="36.4"/><use href="#g1" x="86.5" y="36.5"/><use href="#g1" x="133.1" y="36.5"/><use href="#g1" x="1.9" y="36.7"/><use href="#g1" x="6.1" y="36.7"/><use href="#g1" x="15.9" y="36.7"/><use href="#g1" x="71.9" y="36.7"/><use href="#g1" x="145.9" y="36.9"/><use href="#g1" x="20.7" y="37"/><use href="#g1" x="59.7" y="37.1"/><use href="#g1" x="89.7" y="37.2"/><use href="#g1" x="131.3" y="37.2"/><use href="#g1" x="47.6" y="37.7"/><use href="#g1" x="42.2" y="37.8"/><use href="#g1" x="97" y="37.8"/><use href="#g1" x="24.4" y="38"/><use href="#g1" x="32.9" y="38"/><use href="#g1" x="147.7" y="38.2"/><use href="#g1" x="83.1" y="38.2"/><use href="#g1" x="63.1" y="38.3"/><use href="#g1" x="129.4" y="38.3"/><use href="#g1" x="109.1" y="38.3"/><use href="#g1" x="136.8" y="38.4"/><use href="#g1" x="38.4" y="38.6"/><use href="#g1" x="148" y="38.9"/><use href="#g1" x="45.1" y="39"/><use href="#g1" x="70" y="39"/><use href="#g1" x="113.5" y="39.1"/><use href="#g1" x="89.8" y="39.2"/><use href="#g1" x="87.4" y="39.2"/><use href="#g1" x="72.7" y="39.3"/><use href="#g1" x="104.9" y="39.4"/><use href="#g1" x="2.6" y="39.4"/><use href="#g1" x="26.4" y="39.5"/><use href="#g1" x="14.4" y="39.6"/><use href="#g1" x="10.9" y="39.6"/><use href="#g1" x="17.6" y="39.7"/><use href="#g1" x="64.1" y="39.7"/><use href="#g1" x="49.4" y="40.2"/><use href="#g1" x="134.3" y="40.3"/><use href="#g1" x="120.4" y="40.5"/><use href="#g1" x="131.8" y="40.7"/><use href="#g1" x="74.5" y="41.1"/><use href="#g1" x="32.6" y="41.3"/><use href="#g1" x="78.7" y="41.3"/><use href="#g1" x="136.7" y="41.3"/><use href="#g1" x="146.7" y="41.4"/><use href="#g1" x="12.3" y="41.5"/><use href="#g1" x="128" y="41.7"/><use href="#g1" x="52" y="41.8"/><use href="#g1" x="143.6" y="41.9"/><use href="#g1" x="124.9" y="42.2"/><use href="#g1" x="65.6" y="42.4"/><use href="#g1" x="114.8" y="42.5"/><use href="#g1" x="43.2" y="42.5"/><use href="#g1" x="47.4" y="43"/><use href="#g1" x="17.6" y="43"/><use href="#g1" x="147.9" y="43.6"/><use href="#g1" x="138.1" y="43.7"/><use href="#g1" x="31.8" y="43.7"/><use href="#g1" x="81.5" y="43.8"/><use href="#g1" x="91.5" y="43.9"/><use href="#g1" x="145.6" y="44.1"/><use href="#g1" x="62.8" y="44.1"/><use href="#g1" x="109.1" y="44.2"/><use href="#g1" x="115.5" y="44.4"/><use href="#g1" x="51.4" y="44.8"/><use href="#g1" x="125" y="44.8"/><use href="#g1" x="112.2" y="44.8"/><use href="#g1" x="29.2" y="45"/><use href="#g1" x="106.3" y="45"/><use href="#g1" x="15.2" y="45.1"/><use href="#g1" x="65.3" y="45.1"/><use href="#g1" x="79.9" y="45.2"/><use href="#g1" x="19.1" y="45.3"/><use href="#g1" x="129.3" y="45.4"/><use href="#g1" x="2" y="45.6"/><use href="#g1" x="78.6" y="46.5"/><use href="#g1" x="35.5" y="46.5"/><use href="#g1" x="145.8" y="46.8"/><use href="#g1" x="93.6" y="46.9"/><use href="#g1" x="90.3" y="47"/><use href="#g1" x="114.8" y="47.2"/><use href="#g1" x="61.7" y="47.4"/><use href="#g1" x="30.6" y="47.9"/><use href="#g1" x="107.6" y="47.9"/><use href="#g1" x="96.3" y="47.9"/><use href="#g1" x="58.5" y="48"/><use href="#g1" x="2.6" y="48"/><use href="#g1" x="99.5" y="48.3"/><use href="#g1" x="140.2" y="48.4"/><use href="#g1" x="143.7" y="48.6"/><use href="#g1" x="49.4" y="48.7"/><use href="#g1" x="16.7" y="48.7"/><use href="#g1" x="136.9" y="48.9"/><use href="#g1" x="147.9" y="49"/><use href="#g1" x="36.4" y="49.1"/><use href="#g1" x="24" y="49.1"/><use href="#g1" x="4.7" y="49.2"/><use href="#g1" x="54" y="49.3"/><use href="#g1" x="56.4" y="49.5"/><use href="#g1" x="126.6" y="49.7"/><use href="#g1" x="2.5" y="50.1"/><use href="#g1" x="134.6" y="50.2"/><use href="#g1" x="91.6" y="50.4"/><use href="#g1" x="85.6" y="50.4"/><use href="#g1" x="61.6" y="50.4"/><use href="#g1" x="14.3" y="50.4"/><use href="#g1" x="38.4" y="50.5"/><use href="#g1" x="103.1" y="50.5"/><use href="#g1" x="112.3" y="50.5"/><use href="#g1" x="94.8" y="50.6"/><use href="#g1" x="28.9" y="50.6"/><use href="#g1" x="104.9" y="50.9"/><use href="#g1" x="123.6" y="50.9"/><use href="#g1" x="43.8" y="51"/><use href="#g1" x="120.4" y="51.1"/><use href="#g1" x="100.1" y="51.2"/><use href="#g1" x="51.7" y="51.3"/><use href="#g1" x="16.5" y="51.4"/><use href="#g1" x="138" y="51.7"/><use href="#g1" x="25.5" y="51.8"/><use href="#g1" x="45.1" y="52"/><use href="#g1" x="147.6" y="52.1"/><use href="#g1" x="63.8" y="52.3"/><use href="#g1" x="66.5" y="52.3"/><use href="#g1" x="105.8" y="52.3"/><use href="#g1" x="31.4" y="52.3"/><use href="#g1" x="83.8" y="52.4"/><use href="#g1" x="88.7" y="52.4"/><use href="#g1" x="132.5" y="52.5"/><use href="#g1" x="37.3" y="52.5"/><use href="#g1" x="34" y="52.6"/><use href="#g1" x="54.6" y="52.6"/><use href="#g1" x="19" y="52.6"/><use href="#g1" x="125.4" y="52.9"/><use href="#g1" x="57.9" y="53.4"/><use href="#g1" x="102.1" y="53.4"/><use href="#g1" x="144.7" y="53.5"/><use href="#g1" x="22.6" y="53.6"/><use href="#g1" x="93.5" y="53.6"/><use href="#g1" x="3.6" y="53.6"/><use href="#g1" x="28.9" y="53.7"/><use href="#g1" x="142.8" y="53.8"/><use href="#g1" x="147.9" y="53.8"/><use href="#g1" x="134.5" y="53.8"/><use href="#g1" x="112.2" y="53.9"/><use href="#g1" x="68" y="54.2"/><use href="#g1" x="148" y="54.4"/><use href="#g1" x="36.2" y="54.4"/><use href="#g1" x="117.5" y="54.5"/><use href="#g1" x="70.4" y="54.6"/><use href="#g1" x="25.3" y="54.6"/><use href="#g1" x="52.4" y="54.6"/><use href="#g1" x="123.2" y="54.8"/><use href="#g1" x="72.2" y="55"/><use href="#g1" x="6.4" y="55.2"/><use href="#g1" x="144.9" y="55.2"/><use href="#g1" x="114.2" y="55.2"/><use href="#g1" x="85.4" y="55.4"/><use href="#g1" x="134.3" y="55.6"/><use href="#g1" x="98.1" y="55.6"/><use href="#g1" x="105.4" y="55.6"/><use href="#g1" x="131.2" y="55.8"/><use href="#g1" x="108" y="55.9"/><use href="#g1" x="3.1" y="56.2"/><use href="#g1" x="40.7" y="56.4"/><use href="#g1" x="88.4" y="56.5"/><use href="#g1" x="117.5" y="56.7"/><use href="#g1" x="21" y="56.9"/><use href="#g1" x="103.9" y="57.2"/><use href="#g1" x="58.8" y="57.3"/><use href="#g1" x="8.8" y="57.6"/><use href="#g1" x="147.2" y="57.7"/><use href="#g1" x="6.9" y="57.7"/><use href="#g1" x="10.6" y="57.8"/><use href="#g1" x="71.8" y="58.1"/><use href="#g1" x="5.2" y="58.2"/><use href="#g1" x="70" y="58.2"/><use href="#g1" x="41.9" y="58.3"/><use href="#g1" x="135.4" y="58.3"/><use href="#g1" x="26" y="58.6"/><use href="#g1" x="85.2" y="58.6"/><use href="#g1" x="37.9" y="58.6"/><use href="#g1" x="105.3" y="58.7"/><use href="#g1" x="56" y="59"/><use href="#g1" x="133.1" y="59.1"/><use href="#g1" x="43.2" y="59.4"/><use href="#g1" x="2.6" y="59.7"/><use href="#g1" x="147.9" y="59.8"/><use href="#g1" x="53.4" y="60.3"/><use href="#g1" x="8.8" y="60.7"/><use href="#g1" x="66.5" y="60.9"/><use href="#g1" x="69.5" y="61"/><use href="#g1" x="135.3" y="61.2"/><use href="#g1" x="29.3" y="61.4"/><use href="#g1" x="107.6" y="61.4"/><use href="#g1" x="26.9" y="61.5"/><use href="#g1" x="87.7" y="61.6"/><use href="#g1" x="104.7" y="62.1"/><use href="#g1" x="126.5" y="62.2"/><use href="#g1" x="84.1" y="62.2"/><use href="#g1" x="23.7" y="62.3"/><use href="#g1" x="43.8" y="62.4"/><use href="#g1" x="55.8" y="62.4"/><use href="#g1" x="142.4" y="63"/><use href="#g1" x="13.4" y="63"/><use href="#g1" x="147.1" y="63.2"/><use href="#g1" x="16.2" y="63.3"/><use href="#g1" x="9.9" y="63.6"/><use href="#g1" x="95.7" y="63.6"/><use href="#g1" x="67.3" y="63.7"/><use href="#g1" x="139.5" y="64"/><use href="#g1" x="70.3" y="64"/><use href="#g1" x="73.2" y="64.2"/><use href="#g1" x="45.8" y="64.3"/><use href="#g1" x="27.1" y="64.5"/><use href="#g1" x="61.1" y="64.5"/><use href="#g1" x="81.1" y="64.7"/><use href="#g1" x="65.4" y="64.7"/><use href="#g1" x="123.5" y="64.7"/><use href="#g1" x="115.2" y="65"/><use href="#g1" x="78.9" y="65"/><use href="#g1" x="120.7" y="65"/><use href="#g1" x="9" y="65.1"/><use href="#g1" x="147.8" y="65.2"/><use href="#g1" x="75.9" y="65.6"/><use href="#g1" x="73.7" y="65.8"/><use href="#g1" x="54.8" y="65.9"/><use href="#g1" x="126.3" y="66.1"/><use href="#g1" x="119.2" y="66.2"/><use href="#g1" x="30.8" y="66.3"/><use href="#g1" x="41" y="66.5"/><use href="#g1" x="137.6" y="66.7"/><use href="#g1" x="88.6" y="66.8"/><use href="#g1" x="129.5" y="66.8"/><use href="#g1" x="116.9" y="67.2"/><use href="#g1" x="80.7" y="67.9"/><use href="#g1" x="77.6" y="68"/><use href="#g1" x="35.8" y="68.1"/><use href="#g1" x="27.6" y="68.1"/><use href="#g1" x="95.4" y="68.6"/><use href="#g1" x="138.8" y="68.8"/><use href="#g1" x="46.3" y="68.9"/><use href="#g1" x="32.7" y="68.9"/><use href="#g1" x="3.3" y="69.2"/><use href="#g1" x="144.6" y="69.2"/><use href="#g1" x="127.8" y="69.3"/><use href="#g1" x="44.6" y="69.6"/><use href="#g1" x="5.6" y="69.8"/><use href="#g1" x="35.2" y="69.8"/><use href="#g1" x="130.1" y="70"/><use href="#g1" x="97.3" y="70.2"/><use href="#g1" x="126" y="70.2"/><use href="#g1" x="147.8" y="70.6"/><use href="#g1" x="109.9" y="70.6"/><use href="#g1" x="65.5" y="70.9"/><use href="#g1" x="90.6" y="71.6"/><use href="#g1" x="50.8" y="71.7"/><use href="#g1" x="67.7" y="71.8"/><use href="#g1" x="81.3" y="72.1"/><use href="#g1" x="2.8" y="72.3"/><use href="#g1" x="96.9" y="72.3"/><use href="#g1" x="115.3" y="72.4"/><use href="#g1" x="92.1" y="72.5"/><use href="#g1" x="112.5" y="72.6"/><use href="#g1" x="44" y="72.6"/><use href="#g1" x="95.3" y="72.9"/><use href="#g1" x="5.6" y="73.1"/><use href="#g1" x="129" y="73.2"/><use href="#g1" x="82.2" y="73.9"/><use href="#g1" x="29.7" y="73.9"/><use href="#g1" x="68.3" y="74.1"/><use href="#g1" x="65.5" y="74.3"/><use href="#g1" x="49" y="74.3"/><use href="#g1" x="61" y="74.6"/><use href="#g1" x="136.8" y="74.9"/><use href="#g1" x="144" y="74.9"/><use href="#g1" x="73.1" y="75"/><use href="#g1" x="2.1" y="75"/><use href="#g1" x="140.2" y="75"/><use href="#g1" x="80.5" y="75.4"/><use href="#g1" x="106.4" y="75.5"/><use href="#g1" x="93.3" y="75.6"/><use href="#g1" x="34" y="75.7"/><use href="#g1" x="6.9" y="75.8"/><use href="#g1" x="96.3" y="75.8"/><use href="#g1" x="129.5" y="75.9"/><use href="#g1" x="147.7" y="76"/><use href="#g1" x="20.1" y="76"/><use href="#g1" x="11.5" y="76.1"/><use href="#g1" x="28.5" y="76.1"/><use href="#g1" x="44.8" y="76.1"/><use href="#g1" x="120.9" y="76.2"/><use href="#g1" x="118.5" y="76.4"/><use href="#g1" x="77.1" y="76.6"/><use href="#g1" x="31.4" y="76.7"/><use href="#g1" x="134.1" y="76.9"/><use href="#g1" x="95.3" y="77.1"/><use href="#g1" x="131.4" y="77.3"/><use href="#g1" x="35.9" y="77.3"/><use href="#g1" x="59.4" y="77.3"/><use href="#g1" x="116.8" y="77.6"/><use href="#g1" x="146.7" y="77.6"/><use href="#g1" x="126" y="77.7"/><use href="#g1" x="68.8" y="77.8"/><use href="#g1" x="139.4" y="77.9"/><use href="#g1" x="136.9" y="78.1"/><use href="#g1" x="32.7" y="78.1"/><use href="#g1" x="111.1" y="78.1"/><use href="#g1" x="106.9" y="78.4"/><use href="#g1" x="144.3" y="78.6"/><use href="#g1" x="4.7" y="78.6"/><use href="#g1" x="11.7" y="79.1"/><use href="#g1" x="65" y="79.1"/><use href="#g1" x="132.8" y="79.1"/><use href="#g1" x="119.6" y="79.2"/><use href="#g1" x="136.8" y="79.8"/><use href="#g1" x="19.6" y="79.8"/><use href="#g1" x="70.6" y="79.9"/><use href="#g1" x="114.8" y="80"/><use href="#g1" x="40.7" y="80"/><use href="#g1" x="4.5" y="80.2"/><use href="#g1" x="117.1" y="80.4"/><use href="#g1" x="133.5" y="80.7"/><use href="#g1" x="127.3" y="81"/><use href="#g1" x="57.3" y="81.2"/><use href="#g1" x="55.5" y="81.2"/><use href="#g1" x="60.5" y="81.2"/><use href="#g1" x="99.8" y="81.2"/><use href="#g1" x="147.7" y="81.4"/><use href="#g1" x="129.7" y="81.6"/><use href="#g1" x="114.3" y="81.6"/><use href="#g1" x="102.6" y="81.9"/><use href="#g1" x="117.1" y="82"/><use href="#g1" x="136.5" y="82.3"/><use href="#g1" x="24.4" y="82.4"/><use href="#g1" x="6" y="82.5"/><use href="#g1" x="37.2" y="82.6"/><use href="#g1" x="54.7" y="82.9"/><use href="#g1" x="135.2" y="83.3"/><use href="#g1" x="84.2" y="83.4"/><use href="#g1" x="58.2" y="83.9"/><use href="#g1" x="122.9" y="84"/><use href="#g1" x="97.4" y="84.1"/><use href="#g1" x="105" y="84.8"/><use href="#g1" x="87.5" y="84.9"/><use href="#g1" x="137.6" y="85.2"/><use href="#g1" x="134.6" y="85.3"/><use href="#g1" x="27.7" y="85.6"/><use href="#g1" x="56.1" y="85.9"/><use href="#g1" x="131.2" y="86"/><use href="#g1" x="71.2" y="86.6"/><use href="#g1" x="38.1" y="86.7"/><use href="#g1" x="147.8" y="86.8"/><use href="#g1" x="69.7" y="87.5"/><use href="#g1" x="66.4" y="87.8"/><use href="#g1" x="53.8" y="87.8"/><use href="#g1" x="23.7" y="88"/><use href="#g1" x="105.1" y="88"/><use href="#g1" x="10.6" y="88.3"/><use href="#g1" x="90.6" y="88.5"/><use href="#g1" x="137.4" y="88.6"/><use href="#g1" x="98.3" y="88.9"/><use href="#g1" x="123" y="88.9"/><use href="#g1" x="147.4" y="89"/><use href="#g1" x="80.2" y="89.1"/><use href="#g1" x="6.6" y="89.1"/><use href="#g1" x="121" y="89.4"/><use href="#g1" x="83.3" y="89.5"/><use href="#g1" x="143.6" y="89.6"/><use href="#g1" x="116.6" y="89.6"/><use href="#g1" x="36.3" y="89.6"/><use href="#g1" x="74.1" y="89.7"/><use href="#g1" x="63.6" y="89.9"/><use href="#g1" x="125" y="90.2"/><use href="#g1" x="69.5" y="90.2"/><use href="#g1" x="112.1" y="90.2"/><use href="#g1" x="60.5" y="90.4"/><use href="#g1" x="19.8" y="90.4"/><use href="#g1" x="147.9" y="90.5"/><use href="#g1" x="98.3" y="90.8"/><use href="#g1" x="138.6" y="90.9"/><use href="#g1" x="48.2" y="90.9"/><use href="#g1" x="45.4" y="91"/><use href="#g1" x="120.8" y="91"/><use href="#g1" x="132.2" y="91.2"/><use href="#g1" x="109.3" y="91.2"/><use href="#g1" x="115.4" y="91.4"/><use href="#g1" x="129.9" y="91.4"/><use href="#g1" x="53.2" y="91.4"/><use href="#g1" x="145.7" y="91.5"/><use href="#g1" x="94.6" y="91.9"/><use href="#g1" x="147.7" y="92.2"/><use href="#g1" x="100.7" y="92.4"/><use href="#g1" x="60.7" y="92.6"/><use href="#g1" x="22.7" y="92.7"/><use href="#g1" x="127" y="92.8"/><use href="#g1" x="82.5" y="92.9"/><use href="#g1" x="77.2" y="93.1"/><use href="#g1" x="107.2" y="93.2"/><use href="#g1" x="115.6" y="93.2"/><use href="#g1" x="52.5" y="93.2"/><use href="#g1" x="141.6" y="93.2"/><use href="#g1" x="3.6" y="93.5"/><use href="#g1" x="39.8" y="93.6"/><use href="#g1" x="119.7" y="93.6"/><use href="#g1" x="135.6" y="93.8"/><use href="#g1" x="19.8" y="93.9"/><use href="#g1" x="71.7" y="94.1"/><use href="#g1" x="93.8" y="94.2"/><use href="#g1" x="5.2" y="94.3"/><use href="#g1" x="35.9" y="94.3"/><use href="#g1" x="63.2" y="94.7"/><use href="#g1" x="82.2" y="94.7"/><use href="#g1" x="106.2" y="94.8"/><use href="#g1" x="29.9" y="94.9"/><use href="#g1" x="97.1" y="95"/><use href="#g1" x="116.6" y="95.1"/><use href="#g1" x="147.3" y="95.1"/><use href="#g1" x="51.4" y="95.4"/><use href="#g1" x="80" y="95.5"/><use href="#g1" x="77.1" y="95.6"/><use href="#g1" x="74.1" y="95.6"/><use href="#g1" x="102.7" y="95.7"/><use href="#g1" x="21.6" y="95.7"/><use href="#g1" x="45.1" y="95.8"/><use href="#g1" x="34.4" y="95.9"/><use href="#g1" x="13.7" y="96.1"/><use href="#g1" x="129.9" y="96.1"/><use href="#g1" x="87.6" y="96.1"/><use href="#g1" x="110" y="96.2"/><use href="#g1" x="66.4" y="96.4"/><use href="#g1" x="112.9" y="96.5"/><use href="#g1" x="26.7" y="96.5"/><use href="#g1" x="37.6" y="96.6"/><use href="#g1" x="142.5" y="96.7"/><use href="#g1" x="97.9" y="96.8"/><use href="#g1" x="93.5" y="96.9"/><use href="#g1" x="147.7" y="97.6"/><use href="#g1" x="104.7" y="97.6"/><use href="#g1" x="107.4" y="97.7"/><use href="#g1" x="16.6" y="97.9"/><use href="#g1" x="53.1" y="97.9"/><use href="#g1" x="12.2" y="97.9"/><use href="#g1" x="138.8" y="98.1"/><use href="#g1" x="89.4" y="98.1"/><use href="#g1" x="141.9" y="98.2"/><use href="#g1" x="124.7" y="98.3"/><use href="#g1" x="75.3" y="98.5"/><use href="#g1" x="111.6" y="98.8"/><use href="#g1" x="36" y="98.9"/><use href="#g1" x="81.8" y="99.1"/><use href="#g1" x="49.3" y="100.8"/><use href="#g1" x="113.6" y="100.9"/><use href="#g1" x="90" y="101"/><use href="#g1" x="11" y="101"/><use href="#g1" x="18.8" y="101.1"/><use href="#g1" x="32.9" y="101.2"/><use href="#g1" x="126.3" y="101.2"/><use href="#g1" x="123.2" y="101.3"/><use href="#g1" x="138.6" y="101.4"/><use href="#g1" x="95.8" y="101.4"/><use href="#g1" x="136.6" y="101.6"/><use href="#g1" x="44.7" y="101.6"/><use href="#g1" x="35.8" y="101.9"/><use href="#g1" x="13.2" y="102"/><use href="#g1" x="28" y="102.6"/><use href="#g1" x="31.5" y="102.6"/><use href="#g1" x="96.8" y="102.7"/><use href="#g1" x="65.7" y="102.9"/><use href="#g1" x="147.7" y="103"/><use href="#g1" x="139.4" y="103.2"/><use href="#g1" x="142.2" y="103.2"/><use href="#g1" x="114.7" y="103.3"/><use href="#g1" x="107.6" y="103.5"/><use href="#g1" x="89.2" y="103.8"/><use href="#g1" x="110.4" y="104"/><use href="#g1" x="43.7" y="104.4"/><use href="#g1" x="37" y="104.6"/><use href="#g1" x="73.1" y="104.6"/><use href="#g1" x="10.7" y="104.7"/><use href="#g1" x="34.2" y="104.7"/><use href="#g1" x="131.2" y="104.7"/><use href="#g1" x="54.4" y="104.8"/><use href="#g1" x="31.4" y="105.1"/><use href="#g1" x="98.2" y="105.2"/><use href="#g1" x="67.6" y="105.2"/><use href="#g1" x="15.6" y="105.2"/><use href="#g1" x="79.5" y="105.3"/><use href="#g1" x="134.8" y="105.4"/><use href="#g1" x="66" y="105.5"/><use href="#g1" x="3.3" y="105.5"/><use href="#g1" x="126.4" y="105.8"/><use href="#g1" x="103" y="105.8"/><use href="#g1" x="70.4" y="105.9"/><use href="#g1" x="12" y="106"/><use href="#g1" x="7.9" y="106.1"/><use href="#g1" x="141.6" y="106.1"/><use href="#g1" x="39.1" y="106.1"/><use href="#g1" x="76.7" y="106.1"/><use href="#g1" x="82.4" y="106.2"/><use href="#g1" x="21.4" y="106.3"/><use href="#g1" x="100.6" y="106.4"/><use href="#g1" x="145.7" y="106.4"/><use href="#g1" x="105.2" y="107"/><use href="#g1" x="4.6" y="107.2"/><use href="#g1" x="131" y="107.4"/><use href="#g1" x="128.6" y="107.4"/><use href="#g1" x="143.5" y="107.4"/><use href="#g1" x="133" y="107.6"/><use href="#g1" x="54" y="107.6"/><use href="#g1" x="14.5" y="107.6"/><use href="#g1" x="115.3" y="107.7"/><use href="#g1" x="88.7" y="107.8"/><use href="#g1" x="94.2" y="107.9"/><use href="#g1" x="76" y="108"/><use href="#g1" x="35.1" y="108"/><use href="#g1" x="106.8" y="108.1"/><use href="#g1" x="81.9" y="108.2"/><use href="#g1" x="148" y="108.4"/><use href="#g1" x="63.2" y="108.7"/><use href="#g1" x="148.1" y="108.8"/><use href="#g1" x="143.1" y="108.9"/><use href="#g1" x="69.3" y="109"/><use href="#g1" x="40.5" y="109.1"/><use href="#g1" x="13.9" y="109.2"/><use href="#g1" x="135.8" y="109.3"/><use href="#g1" x="103.7" y="109.4"/><use href="#g1" x="6" y="109.6"/><use href="#g1" x="17.7" y="109.6"/><use href="#g1" x="107.1" y="109.7"/><use href="#g1" x="77.3" y="109.7"/><use href="#g1" x="37.4" y="109.8"/><use href="#g1" x="110.7" y="109.8"/><use href="#g1" x="100.7" y="109.8"/><use href="#g1" x="134.4" y="109.9"/><use href="#g1" x="145.6" y="110.1"/><use href="#g1" x="83.8" y="110.1"/><use href="#g1" x="52.2" y="110.5"/><use href="#g1" x="20.2" y="110.6"/><use href="#g1" x="70" y="110.8"/><use href="#g1" x="92.2" y="110.9"/><use href="#g1" x="138.1" y="111.4"/><use href="#g1" x="101.1" y="111.5"/><use href="#g1" x="66.3" y="111.8"/><use href="#g1" x="135.4" y="112"/><use href="#g1" x="132" y="112.2"/><use href="#g1" x="103.9" y="112.4"/><use href="#g1" x="72" y="113.2"/><use href="#g1" x="51.2" y="113.4"/><use href="#g1" x="24.5" y="113.6"/><use href="#g1" x="121" y="113.6"/><use href="#g1" x="147.7" y="113.8"/><use href="#g1" x="41.1" y="113.8"/><use href="#g1" x="73.5" y="114.2"/><use href="#g1" x="99.7" y="114.8"/><use href="#g1" x="12" y="115.2"/><use href="#g1" x="48.3" y="115.3"/><use href="#g1" x="114.7" y="115.4"/><use href="#g1" x="6.9" y="115.5"/><use href="#g1" x="68.7" y="115.5"/><use href="#g1" x="146.9" y="115.5"/><use href="#g1" x="24.7" y="115.6"/><use href="#g1" x="9.1" y="115.6"/><use href="#g1" x="21.6" y="115.8"/><use href="#g1" x="106.1" y="115.8"/><use href="#g1" x="54.5" y="115.8"/><use href="#g1" x="76.2" y="115.9"/><use href="#g1" x="51.7" y="116.1"/><use href="#g1" x="131.7" y="116.1"/><use href="#g0" x="2.1" y="1.9"/><use href="#g0" x="5.3" y="1.9"/><use href="#g0" x="56" y="2.1"/><use href="#g0" x="41" y="2.3"/><use href="#g0" x="26.4" y="2.8"/><use href="#g0" x="68.3" y="2.8"/><use href="#g0" x="100.5" y="3"/><use href="#g0" x="76.2" y="3"/><use href="#g0" x="148" y="3"/><use href="#g0" x="88.4" y="3.1"/><use href="#g0" x="134.1" y="3.7"/><use href="#g0" x="139.7" y="3.7"/><use href="#g0" x="106" y="3.8"/><use href="#g0" x="21.2" y="4.1"/><use href="#g0" x="130.5" y="4.1"/><use href="#g0" x="117.1" y="4.2"/><use href="#g0" x="147.7" y="4.4"/><use href="#g0" x="1.9" y="4.6"/><use href="#g0" x="114.4" y="5"/><use href="#g0" x="4.5" y="5.1"/><use href="#g0" x="136.9" y="5.2"/><use href="#g0" x="41.6" y="5.4"/><use href="#g0" x="70.8" y="5.4"/><use href="#g0" x="55.5" y="5.7"/><use href="#g0" x="26.1" y="5.8"/><use href="#g0" x="36.1" y="6.4"/><use href="#g0" x="140" y="6.5"/><use href="#g0" x="103.8" y="6.5"/><use href="#g0" x="120.6" y="6.8"/><use href="#g0" x="96.5" y="6.9"/><use href="#g0" x="107.5" y="6.9"/><use href="#g0" x="146.1" y="7"/><use href="#g0" x="48.8" y="7"/><use href="#g0" x="59.4" y="7.1"/><use href="#g0" x="134.2" y="7.2"/><use href="#g0" x="2.2" y="7.3"/><use href="#g0" x="128.4" y="7.4"/><use href="#g0" x="2.5" y="7.4"/><use href="#g0" x="99.9" y="7.4"/><use href="#g0" x="81.9" y="7.5"/><use href="#g0" x="43.6" y="7.6"/><use href="#g0" x="112.5" y="7.6"/><use href="#g0" x="20.5" y="7.7"/><use href="#g0" x="91.2" y="7.8"/><use href="#g0" x="117.8" y="7.8"/><use href="#g0" x="137.5" y="7.9"/><use href="#g0" x="8.3" y="7.9"/><use href="#g0" x="93.9" y="8.1"/><use href="#g0" x="69.3" y="8.2"/><use href="#g0" x="109.9" y="8.3"/><use href="#g0" x="148.1" y="8.5"/><use href="#g0" x="33.4" y="8.5"/><use href="#g0" x="148" y="9"/><use href="#g0" x="38" y="9.1"/><use href="#g0" x="63.9" y="9.1"/><use href="#g0" x="30.2" y="9.2"/><use href="#g0" x="103.7" y="9.3"/><use href="#g0" x="24.7" y="9.4"/><use href="#g0" x="132.9" y="9.6"/><use href="#g0" x="2.1" y="10"/><use href="#g0" x="85" y="10"/><use href="#g0" x="3.4" y="10"/><use href="#g0" x="130.2" y="10.2"/><use href="#g0" x="73.3" y="10.2"/><use href="#g0" x="106" y="10.2"/><use href="#g0" x="114" y="10.3"/><use href="#g0" x="21.4" y="10.4"/><use href="#g0" x="55.3" y="10.4"/><use href="#g0" x="101.4" y="10.5"/><use href="#g0" x="90.4" y="10.5"/><use href="#g0" x="66.6" y="10.6"/><use href="#g0" x="70.8" y="10.6"/><use href="#g0" x="145.5" y="10.7"/><use href="#g0" x="50.2" y="10.8"/><use href="#g0" x="15.6" y="10.8"/><use href="#g0" x="10.9" y="10.8"/><use href="#g0" x="82.4" y="11.1"/><use href="#g0" x="35.9" y="11.1"/><use href="#g0" x="120.9" y="11.4"/><use href="#g0" x="75.4" y="11.5"/><use href="#g0" x="127.6" y="11.5"/><use href="#g0" x="61" y="11.7"/><use href="#g0" x="123.5" y="11.8"/><use href="#g0" x="134.5" y="12"/><use href="#g0" x="52.3" y="12.4"/><use href="#g0" x="79.9" y="12.4"/><use href="#g0" x="24.8" y="12.4"/><use href="#g0" x="5" y="12.4"/><use href="#g0" x="131.9" y="12.5"/><use href="#g0" x="2.2" y="12.5"/><use href="#g0" x="12.7" y="12.5"/><use href="#g0" x="68.7" y="12.6"/><use href="#g0" x="2.1" y="12.7"/><use href="#g0" x="117.7" y="12.7"/><use href="#g0" x="107.5" y="12.9"/><use href="#g0" x="88.5" y="12.9"/><use href="#g0" x="113.1" y="13.1"/><use href="#g0" x="85.7" y="13.2"/><use href="#g0" x="99.8" y="13.3"/><use href="#g0" x="47.5" y="13.4"/><use href="#g0" x="145.4" y="13.5"/><use href="#g0" x="142.1" y="13.8"/><use href="#g0" x="148.1" y="13.9"/><use href="#g0" x="76.4" y="14"/><use href="#g0" x="130" y="14.7"/><use href="#g0" x="35.7" y="14.9"/><use href="#g0" x="83.4" y="15"/><use href="#g0" x="20.1" y="15.1"/><use href="#g0" x="115.1" y="15.2"/><use href="#g0" x="2.8" y="15.2"/><use href="#g0" x="12.7" y="15.3"/><use href="#g0" x="1.9" y="15.4"/><use href="#g0" x="50.6" y="15.4"/><use href="#g0" x="127.3" y="15.5"/><use href="#g0" x="67.7" y="15.6"/><use href="#g0" x="79.3" y="16.1"/><use href="#g0" x="124.5" y="16.4"/><use href="#g0" x="107.8" y="16.5"/><use href="#g0" x="32" y="16.5"/><use href="#g0" x="47.9" y="16.7"/><use href="#g0" x="92.2" y="16.8"/><use href="#g0" x="99.5" y="16.9"/><use href="#g0" x="76" y="17.1"/><use href="#g0" x="65.3" y="17.1"/><use href="#g0" x="16" y="17.6"/><use href="#g0" x="34.7" y="17.7"/><use href="#g0" x="82.4" y="17.7"/><use href="#g0" x="44.7" y="17.8"/><use href="#g0" x="129.3" y="17.8"/><use href="#g0" x="110.5" y="18"/><use href="#g0" x="2.1" y="18.1"/><use href="#g0" x="2" y="18.3"/><use href="#g0" x="29.1" y="18.3"/><use href="#g0" x="147.9" y="19.2"/><use href="#g0" x="138.4" y="19.4"/><use href="#g0" x="143.9" y="19.4"/><use href="#g0" x="74.4" y="19.6"/><use href="#g0" x="92" y="19.7"/><use href="#g0" x="106.8" y="19.8"/><use href="#g0" x="62.7" y="20"/><use href="#g0" x="100.4" y="20.2"/><use href="#g0" x="58.5" y="20.3"/><use href="#g0" x="43" y="20.3"/><use href="#g0" x="20.4" y="20.5"/><use href="#g0" x="46.6" y="20.5"/><use href="#g0" x="82.9" y="20.6"/><use href="#g0" x="8.4" y="20.7"/><use href="#g0" x="2.1" y="20.8"/><use href="#g0" x="27.8" y="20.8"/><use href="#g0" x="31.7" y="20.8"/><use href="#g0" x="130.1" y="21"/><use href="#g0" x="119.5" y="21.2"/><use href="#g0" x="65.9" y="21.3"/><use href="#g0" x="109.5" y="21.4"/><use href="#g0" x="55.3" y="21.4"/><use href="#g0" x="5.3" y="21.5"/><use href="#g0" x="140.1" y="21.6"/><use href="#g0" x="37.4" y="21.7"/><use href="#g0" x="40.3" y="21.8"/><use href="#g0" x="104.8" y="21.9"/><use href="#g0" x="22.5" y="22.1"/><use href="#g0" x="90.2" y="22.1"/><use href="#g0" x="137" y="22.1"/><use href="#g0" x="25.3" y="22.2"/><use href="#g0" x="76.4" y="22.2"/><use href="#g0" x="122.3" y="22.4"/><use href="#g0" x="94.3" y="22.6"/><use href="#g0" x="61.6" y="22.9"/><use href="#g0" x="12.2" y="23"/><use href="#g0" x="2" y="23.4"/><use href="#g0" x="134.7" y="23.5"/><use href="#g0" x="28" y="23.7"/><use href="#g0" x="69.9" y="23.8"/><use href="#g0" x="128.6" y="24"/><use href="#g0" x="63.9" y="24.4"/><use href="#g0" x="58.5" y="24.5"/><use href="#g0" x="8.1" y="24.6"/><use href="#g0" x="147.8" y="24.6"/><use href="#g0" x="32.7" y="24.8"/><use href="#g0" x="112.5" y="24.8"/><use href="#g0" x="77.8" y="24.8"/><use href="#g0" x="139.7" y="24.9"/><use href="#g0" x="66.8" y="24.9"/><use href="#g0" x="96.3" y="25"/><use href="#g0" x="142.6" y="25.1"/><use href="#g0" x="123.9" y="25.1"/><use href="#g0" x="53" y="25.3"/><use href="#g0" x="38.9" y="25.5"/><use href="#g0" x="30.2" y="25.7"/><use href="#g0" x="61" y="25.7"/><use href="#g0" x="110" y="25.8"/><use href="#g0" x="131.3" y="25.9"/><use href="#g0" x="44.6" y="26"/><use href="#g0" x="1.9" y="26.1"/><use href="#g0" x="137.2" y="26.2"/><use href="#g0" x="22.3" y="26.2"/><use href="#g0" x="147.7" y="26.3"/><use href="#g0" x="49.5" y="26.3"/><use href="#g0" x="87.3" y="26.4"/><use href="#g0" x="126.9" y="26.5"/><use href="#g0" x="144.8" y="26.8"/><use href="#g0" x="16.5" y="26.8"/><use href="#g0" x="71.5" y="27"/><use href="#g0" x="6.5" y="27.2"/><use href="#g0" x="3.3" y="27.2"/><use href="#g0" x="36.5" y="27.3"/><use href="#g0" x="116.1" y="27.4"/><use href="#g0" x="13.3" y="28"/><use href="#g0" x="128.7" y="28.2"/><use href="#g0" x="39.4" y="28.6"/><use href="#g0" x="135.8" y="28.6"/><use href="#g0" x="50.5" y="28.8"/><use href="#g0" x="2.3" y="28.8"/><use href="#g0" x="73.5" y="28.9"/><use href="#g0" x="100.2" y="29.7"/><use href="#g0" x="69.2" y="30"/><use href="#g0" x="147.8" y="30"/><use href="#g0" x="116.1" y="30.1"/><use href="#g0" x="4" y="30.6"/><use href="#g0" x="107.3" y="30.9"/><use href="#g0" x="129.4" y="31.1"/><use href="#g0" x="41" y="31.2"/><use href="#g0" x="121.4" y="31.3"/><use href="#g0" x="103" y="31.3"/><use href="#g0" x="136" y="31.4"/><use href="#g0" x="58.7" y="31.5"/><use href="#g0" x="2.2" y="31.5"/><use href="#g0" x="73.3" y="31.6"/><use href="#g0" x="145.1" y="32.3"/><use href="#g0" x="35.3" y="32.5"/><use href="#g0" x="90.1" y="32.8"/><use href="#g0" x="5.9" y="33.1"/><use href="#g0" x="80.1" y="33.2"/><use href="#g0" x="108" y="33.3"/><use href="#g0" x="74.7" y="33.5"/><use href="#g0" x="137.6" y="33.7"/><use href="#g0" x="33" y="34"/><use href="#g0" x="41.2" y="34.1"/><use href="#g0" x="60" y="34.1"/><use href="#g0" x="30.5" y="34.2"/><use href="#g0" x="147.5" y="34.2"/><use href="#g0" x="143" y="34.2"/><use href="#g0" x="2" y="34.2"/><use href="#g0" x="52" y="34.3"/><use href="#g0" x="3.3" y="34.3"/><use href="#g0" x="104.3" y="34.4"/><use href="#g0" x="121.5" y="34.5"/><use href="#g0" x="48" y="34.7"/><use href="#g0" x="140.3" y="34.8"/><use href="#g0" x="86.3" y="34.8"/><use href="#g0" x="118.2" y="35"/><use href="#g0" x="65.5" y="35.1"/><use href="#g0" x="55.5" y="35.2"/><use href="#g0" x="147.7" y="35.5"/><use href="#g0" x="101.5" y="35.5"/><use href="#g0" x="10.4" y="35.9"/><use href="#g0" x="92.9" y="36.2"/><use href="#g0" x="23.4" y="36.2"/><use href="#g0" x="114.7" y="36.3"/><use href="#g0" x="35.4" y="36.3"/><use href="#g0" x="79.5" y="36.3"/><use href="#g0" x="127.1" y="36.9"/><use href="#g0" x="74.7" y="36.9"/><use href="#g0" x="107.7" y="36.9"/><use href="#g0" x="1.9" y="37"/><use href="#g0" x="120.4" y="37.1"/><use href="#g0" x="12.7" y="37.1"/><use href="#g0" x="51.6" y="37.4"/><use href="#g0" x="28.8" y="37.7"/><use href="#g0" x="112.4" y="37.8"/><use href="#g0" x="124.9" y="37.8"/><use href="#g0" x="143.2" y="37.9"/><use href="#g0" x="139.5" y="38"/><use href="#g0" x="102.5" y="38.2"/><use href="#g0" x="77" y="38.3"/><use href="#g0" x="116.9" y="38.5"/><use href="#g0" x="99.7" y="38.6"/><use href="#g0" x="80.4" y="38.9"/><use href="#g0" x="56.1" y="39"/><use href="#g0" x="8.3" y="39.2"/><use href="#g0" x="128" y="39.5"/><use href="#g0" x="53.8" y="39.6"/><use href="#g0" x="2.1" y="39.7"/><use href="#g0" x="109.5" y="39.8"/><use href="#g0" x="58.4" y="40"/><use href="#g0" x="67.4" y="40.1"/><use href="#g0" x="94.7" y="40.3"/><use href="#g0" x="114.8" y="40.3"/><use href="#g0" x="23.4" y="40.4"/><use href="#g0" x="5.4" y="40.4"/><use href="#g0" x="45.9" y="40.4"/><use href="#g0" x="41.7" y="40.4"/><use href="#g0" x="97.6" y="40.5"/><use href="#g0" x="123.1" y="40.6"/><use href="#g0" x="147.8" y="40.9"/><use href="#g0" x="91.3" y="41"/><use href="#g0" x="85" y="41"/><use href="#g0" x="37.3" y="41.1"/><use href="#g0" x="62.5" y="41.1"/><use href="#g0" x="81.8" y="41.3"/><use href="#g0" x="111.5" y="41.8"/><use href="#g0" x="117.5" y="41.9"/><use href="#g0" x="106.4" y="42"/><use href="#g0" x="141.7" y="42"/><use href="#g0" x="29.9" y="42.3"/><use href="#g0" x="59.7" y="42.3"/><use href="#g0" x="2.3" y="42.4"/><use href="#g0" x="20.6" y="42.5"/><use href="#g0" x="130" y="42.7"/><use href="#g0" x="3" y="42.8"/><use href="#g0" x="94.1" y="43"/><use href="#g0" x="96.8" y="43.4"/><use href="#g0" x="35.8" y="43.5"/><use href="#g0" x="75" y="43.7"/><use href="#g0" x="83.2" y="43.9"/><use href="#g0" x="12.1" y="44.2"/><use href="#g0" x="33.1" y="44.7"/><use href="#g0" x="2.1" y="45.1"/><use href="#g0" x="59.8" y="45.3"/><use href="#g0" x="43.5" y="45.4"/><use href="#g0" x="142.1" y="45.5"/><use href="#g0" x="77.2" y="45.5"/><use href="#g0" x="48.1" y="45.8"/><use href="#g0" x="148" y="46.3"/><use href="#g0" x="97.5" y="46.3"/><use href="#g0" x="73.9" y="46.3"/><use href="#g0" x="138.2" y="46.5"/><use href="#g0" x="110.2" y="46.8"/><use href="#g0" x="10.4" y="47"/><use href="#g0" x="82.7" y="47.1"/><use href="#g0" x="66.5" y="47.4"/><use href="#g0" x="104.7" y="47.5"/><use href="#g0" x="123.6" y="47.5"/><use href="#g0" x="27" y="47.6"/><use href="#g0" x="52.1" y="47.6"/><use href="#g0" x="2.3" y="47.8"/><use href="#g0" x="127.4" y="47.8"/><use href="#g0" x="19.3" y="47.8"/><use href="#g0" x="130.1" y="48.1"/><use href="#g0" x="71.6" y="48.1"/><use href="#g0" x="79.1" y="48.1"/><use href="#g0" x="42.6" y="48.2"/><use href="#g0" x="13.9" y="48.4"/><use href="#g0" x="46.6" y="48.4"/><use href="#g0" x="68.8" y="48.5"/><use href="#g0" x="147.3" y="48.7"/><use href="#g0" x="102.2" y="48.8"/><use href="#g0" x="7.6" y="48.8"/><use href="#g0" x="33.1" y="49"/><use href="#g0" x="64.2" y="49.2"/><use href="#g0" x="21.1" y="49.2"/><use href="#g0" x="115.8" y="49.4"/><use href="#g0" x="95.9" y="49.5"/><use href="#g0" x="88.1" y="49.5"/><use href="#g0" x="121.1" y="49.6"/><use href="#g0" x="132.1" y="49.9"/><use href="#g0" x="75.2" y="49.9"/><use href="#g0" x="11.6" y="49.9"/><use href="#g0" x="40.7" y="50.1"/><use href="#g0" x="118.1" y="50.3"/><use href="#g0" x="2.2" y="50.5"/><use href="#g0" x="107.8" y="50.8"/><use href="#g0" x="141.7" y="50.9"/><use href="#g0" x="58.9" y="50.9"/><use href="#g0" x="71.5" y="51"/><use href="#g0" x="47.1" y="51.2"/><use href="#g0" x="147.7" y="51.7"/><use href="#g0" x="144.8" y="51.7"/><use href="#g0" x="80.8" y="51.8"/><use href="#g0" x="5.7" y="52"/><use href="#g0" x="13.7" y="52.1"/><use href="#g0" x="76.6" y="52.2"/><use href="#g0" x="115.9" y="52.3"/><use href="#g0" x="128" y="52.4"/><use href="#g0" x="8.6" y="52.5"/><use href="#g0" x="56.4" y="52.6"/><use href="#g0" x="39.7" y="52.8"/><use href="#g0" x="2.1" y="52.9"/><use href="#g0" x="2.1" y="53.2"/><use href="#g0" x="49.8" y="53.5"/><use href="#g0" x="130.2" y="53.5"/><use href="#g0" x="96.3" y="53.7"/><use href="#g0" x="120.6" y="53.7"/><use href="#g0" x="139.8" y="53.9"/><use href="#g0" x="46.8" y="54.1"/><use href="#g0" x="42.4" y="54.1"/><use href="#g0" x="109.8" y="54.1"/><use href="#g0" x="61" y="54.1"/><use href="#g0" x="82.2" y="54.2"/><use href="#g0" x="104.6" y="54.2"/><use href="#g0" x="11.4" y="54.5"/><use href="#g0" x="75.1" y="54.8"/><use href="#g0" x="101.8" y="55"/><use href="#g0" x="8" y="55.2"/><use href="#g0" x="90.5" y="55.3"/><use href="#g0" x="20.5" y="55.3"/><use href="#g0" x="56" y="55.4"/><use href="#g0" x="137.1" y="55.6"/><use href="#g0" x="1.9" y="55.9"/><use href="#g0" x="27.6" y="56.2"/><use href="#g0" x="44.4" y="56.3"/><use href="#g0" x="119.4" y="56.8"/><use href="#g0" x="147.8" y="57.1"/><use href="#g0" x="37" y="57.1"/><use href="#g0" x="53.7" y="57.2"/><use href="#g0" x="82.4" y="57.4"/><use href="#g0" x="68.1" y="57.4"/><use href="#g0" x="122.1" y="57.5"/><use href="#g0" x="24.3" y="57.6"/><use href="#g0" x="115.3" y="57.8"/><use href="#g0" x="145.7" y="57.8"/><use href="#g0" x="74.6" y="58.1"/><use href="#g0" x="88.3" y="58.3"/><use href="#g0" x="2" y="58.6"/><use href="#g0" x="130.8" y="58.6"/><use href="#g0" x="107.2" y="58.6"/><use href="#g0" x="98.3" y="58.7"/><use href="#g0" x="20.4" y="58.7"/><use href="#g0" x="27.7" y="59.1"/><use href="#g0" x="102.5" y="59.5"/><use href="#g0" x="147.8" y="59.6"/><use href="#g0" x="39.5" y="59.6"/><use href="#g0" x="36.4" y="59.9"/><use href="#g0" x="122.4" y="60.1"/><use href="#g0" x="81.4" y="60.4"/><use href="#g0" x="115.2" y="60.6"/><use href="#g0" x="144.7" y="60.7"/><use href="#g0" x="58" y="60.8"/><use href="#g0" x="129.1" y="60.9"/><use href="#g0" x="75.5" y="61"/><use href="#g0" x="11.3" y="61"/><use href="#g0" x="118.5" y="61.1"/><use href="#g0" x="72.5" y="61.2"/><use href="#g0" x="6.4" y="61.2"/><use href="#g0" x="1.9" y="61.3"/><use href="#g0" x="21.7" y="61.5"/><use href="#g0" x="18.8" y="61.7"/><use href="#g0" x="124.1" y="61.9"/><use href="#g0" x="34.4" y="61.9"/><use href="#g0" x="96.8" y="61.9"/><use href="#g0" x="101.1" y="62.3"/><use href="#g0" x="132.6" y="62.3"/><use href="#g0" x="79.5" y="62.3"/><use href="#g0" x="147.7" y="62.5"/><use href="#g0" x="31.8" y="62.5"/><use href="#g0" x="25.3" y="62.6"/><use href="#g0" x="39.5" y="62.9"/><use href="#g0" x="113.8" y="63"/><use href="#g0" x="51.5" y="63.1"/><use href="#g0" x="136.9" y="63.3"/><use href="#g0" x="120.3" y="63.4"/><use href="#g0" x="109.3" y="63.4"/><use href="#g0" x="1.9" y="63.5"/><use href="#g0" x="58.9" y="63.5"/><use href="#g0" x="63.9" y="63.5"/><use href="#g0" x="4.9" y="63.6"/><use href="#g0" x="2.1" y="64"/><use href="#g0" x="129.1" y="64"/><use href="#g0" x="111.6" y="64"/><use href="#g0" x="117.3" y="64"/><use href="#g0" x="88.7" y="64.2"/><use href="#g0" x="106.3" y="64.4"/><use href="#g0" x="94.2" y="64.4"/><use href="#g0" x="36.8" y="64.5"/><use href="#g0" x="48.7" y="64.6"/><use href="#g0" x="103.1" y="64.6"/><use href="#g0" x="77.2" y="64.7"/><use href="#g0" x="98.4" y="64.9"/><use href="#g0" x="83.9" y="65.1"/><use href="#g0" x="91.1" y="65.2"/><use href="#g0" x="11.4" y="65.2"/><use href="#g0" x="32.4" y="65.3"/><use href="#g0" x="22.9" y="65.5"/><use href="#g0" x="29.2" y="65.8"/><use href="#g0" x="143.2" y="66"/><use href="#g0" x="25.7" y="66.1"/><use href="#g0" x="135.2" y="66.2"/><use href="#g0" x="67.6" y="66.4"/><use href="#g0" x="64.8" y="66.4"/><use href="#g0" x="20.2" y="66.5"/><use href="#g0" x="16.1" y="66.6"/><use href="#g0" x="35" y="66.6"/><use href="#g0" x="110.3" y="66.6"/><use href="#g0" x="2.3" y="66.7"/><use href="#g0" x="113.6" y="66.7"/><use href="#g0" x="146.8" y="66.7"/><use href="#g0" x="6.9" y="66.8"/><use href="#g0" x="121.5" y="66.8"/><use href="#g0" x="70.9" y="66.8"/><use href="#g0" x="104.6" y="67"/><use href="#g0" x="47.7" y="67.1"/><use href="#g0" x="13.3" y="67.2"/><use href="#g0" x="2.5" y="67.2"/><use href="#g0" x="43.5" y="67.3"/><use href="#g0" x="107" y="67.3"/><use href="#g0" x="132.4" y="67.4"/><use href="#g0" x="37.9" y="67.5"/><use href="#g0" x="61.7" y="67.6"/><use href="#g0" x="147.7" y="67.9"/><use href="#g0" x="84" y="68.1"/><use href="#g0" x="30.6" y="68.3"/><use href="#g0" x="99.2" y="68.4"/><use href="#g0" x="141.7" y="68.4"/><use href="#g0" x="101.9" y="68.5"/><use href="#g0" x="52.1" y="68.5"/><use href="#g0" x="90.2" y="68.6"/><use href="#g0" x="18.4" y="68.9"/><use href="#g0" x="123.2" y="68.9"/><use href="#g0" x="68.6" y="69.1"/><use href="#g0" x="65.2" y="69.3"/><use href="#g0" x="108.3" y="69.3"/><use href="#g0" x="2.1" y="69.4"/><use href="#g0" x="112.5" y="69.4"/><use href="#g0" x="49.2" y="69.4"/><use href="#g0" x="115.5" y="69.5"/><use href="#g0" x="14" y="70.3"/><use href="#g0" x="93.5" y="70.5"/><use href="#g0" x="77.4" y="70.7"/><use href="#g0" x="61.3" y="70.8"/><use href="#g0" x="82.5" y="70.8"/><use href="#g0" x="28.1" y="71"/><use href="#g0" x="99.7" y="71.3"/><use href="#g0" x="123.7" y="71.7"/><use href="#g0" x="18.1" y="71.8"/><use href="#g0" x="47.5" y="71.8"/><use href="#g0" x="138.5" y="71.8"/><use href="#g0" x="2.1" y="72.1"/><use href="#g0" x="143.5" y="72.2"/><use href="#g0" x="108.1" y="72.4"/><use href="#g0" x="30.7" y="72.4"/><use href="#g0" x="62.9" y="72.9"/><use href="#g0" x="33.7" y="72.9"/><use href="#g0" x="148" y="73.3"/><use href="#g0" x="75.7" y="73.3"/><use href="#g0" x="16.1" y="73.6"/><use href="#g0" x="78.5" y="73.6"/><use href="#g0" x="13.3" y="73.6"/><use href="#g0" x="27" y="73.8"/><use href="#g0" x="59.2" y="73.8"/><use href="#g0" x="19.4" y="74.4"/><use href="#g0" x="125.6" y="74.4"/><use href="#g0" x="98.7" y="74.5"/><use href="#g0" x="51.2" y="74.5"/><use href="#g0" x="122.9" y="74.5"/><use href="#g0" x="89.6" y="74.6"/><use href="#g0" x="46.4" y="74.6"/><use href="#g0" x="2" y="74.8"/><use href="#g0" x="110.6" y="74.8"/><use href="#g0" x="116.4" y="75"/><use href="#g0" x="70.3" y="75.3"/><use href="#g0" x="41.8" y="75.5"/><use href="#g0" x="24.7" y="75.5"/><use href="#g0" x="56.2" y="75.7"/><use href="#g0" x="21.8" y="75.7"/><use href="#g0" x="53.2" y="76"/><use href="#g0" x="145.9" y="76.3"/><use href="#g0" x="17.1" y="76.6"/><use href="#g0" x="87.7" y="76.8"/><use href="#g0" x="9.1" y="76.9"/><use href="#g0" x="80" y="76.9"/><use href="#g0" x="90.7" y="77.1"/><use href="#g0" x="65.8" y="77.2"/><use href="#g0" x="38.8" y="77.2"/><use href="#g0" x="3.7" y="77.2"/><use href="#g0" x="62.2" y="77.3"/><use href="#g0" x="109.7" y="77.3"/><use href="#g0" x="113.5" y="77.4"/><use href="#g0" x="1.9" y="77.5"/><use href="#g0" x="85.3" y="77.5"/><use href="#g0" x="103.9" y="77.7"/><use href="#g0" x="47.9" y="77.8"/><use href="#g0" x="14.6" y="77.9"/><use href="#g0" x="97.9" y="78.2"/><use href="#g0" x="74.1" y="78.3"/><use href="#g0" x="101.2" y="78.3"/><use href="#g0" x="25.6" y="78.5"/><use href="#g0" x="128.7" y="78.6"/><use href="#g0" x="147.8" y="78.7"/><use href="#g0" x="122.3" y="78.7"/><use href="#g0" x="53.5" y="78.8"/><use href="#g0" x="50.4" y="78.8"/><use href="#g0" x="28.3" y="78.9"/><use href="#g0" x="92.7" y="78.9"/><use href="#g0" x="45.1" y="79"/><use href="#g0" x="34.1" y="79"/><use href="#g0" x="141.7" y="79.2"/><use href="#g0" x="7.7" y="79.2"/><use href="#g0" x="95" y="79.3"/><use href="#g0" x="81.4" y="79.4"/><use href="#g0" x="78.2" y="79.7"/><use href="#g0" x="63.6" y="79.8"/><use href="#g0" x="2" y="79.9"/><use href="#g0" x="31.4" y="79.9"/><use href="#g0" x="112.1" y="79.9"/><use href="#g0" x="146.2" y="79.9"/><use href="#g0" x="109.2" y="80"/><use href="#g0" x="36.3" y="80.1"/><use href="#g0" x="66.4" y="80.1"/><use href="#g0" x="2.3" y="80.2"/><use href="#g0" x="90.6" y="80.3"/><use href="#g0" x="16.6" y="80.6"/><use href="#g0" x="83.6" y="80.8"/><use href="#g0" x="21.7" y="80.8"/><use href="#g0" x="86.8" y="80.8"/><use href="#g0" x="96.7" y="81.2"/><use href="#g0" x="26.1" y="81.5"/><use href="#g0" x="10.4" y="81.5"/><use href="#g0" x="121.3" y="81.6"/><use href="#g0" x="52" y="81.6"/><use href="#g0" x="75.1" y="81.6"/><use href="#g0" x="139.2" y="81.7"/><use href="#g0" x="106.6" y="81.8"/><use href="#g0" x="124.8" y="81.9"/><use href="#g0" x="43.1" y="81.9"/><use href="#g0" x="68" y="82"/><use href="#g0" x="29" y="82.3"/><use href="#g0" x="70.8" y="82.6"/><use href="#g0" x="13.7" y="82.8"/><use href="#g0" x="2" y="82.9"/><use href="#g0" x="89.4" y="82.9"/><use href="#g0" x="146.8" y="82.9"/><use href="#g0" x="22.3" y="83.2"/><use href="#g0" x="131.2" y="83.4"/><use href="#g0" x="119.4" y="83.7"/><use href="#g0" x="148" y="84.1"/><use href="#g0" x="25" y="84.3"/><use href="#g0" x="8.6" y="84.3"/><use href="#g0" x="40" y="84.4"/><use href="#g0" x="115.1" y="84.5"/><use href="#g0" x="73" y="84.6"/><use href="#g0" x="68" y="84.8"/><use href="#g0" x="52.1" y="85.3"/><use href="#g0" x="100.7" y="85.3"/><use href="#g0" x="1.9" y="85.6"/><use href="#g0" x="42.4" y="85.7"/><use href="#g0" x="11.7" y="85.8"/><use href="#g0" x="117.5" y="85.9"/><use href="#g0" x="89.4" y="85.9"/><use href="#g0" x="36.6" y="85.9"/><use href="#g0" x="6.2" y="86"/><use href="#g0" x="86" y="86.1"/><use href="#g0" x="21.1" y="86.2"/><use href="#g0" x="145.8" y="86.5"/><use href="#g0" x="82.9" y="86.6"/><use href="#g0" x="122.2" y="86.6"/><use href="#g0" x="57.4" y="86.9"/><use href="#g0" x="96.7" y="87.1"/><use href="#g0" x="72.7" y="87.6"/><use href="#g0" x="114.3" y="87.7"/><use href="#g0" x="40.7" y="87.9"/><use href="#g0" x="9.1" y="88"/><use href="#g0" x="134.6" y="88"/><use href="#g0" x="100.3" y="88.1"/><use href="#g0" x="2.3" y="88.3"/><use href="#g0" x="129.9" y="88.4"/><use href="#g0" x="38" y="88.5"/><use href="#g0" x="118.4" y="88.6"/><use href="#g0" x="27.9" y="88.7"/><use href="#g0" x="50.6" y="88.8"/><use href="#g0" x="34.7" y="88.9"/><use href="#g0" x="18.6" y="89"/><use href="#g0" x="43.2" y="89.1"/><use href="#g0" x="95" y="89.1"/><use href="#g0" x="87" y="89.3"/><use href="#g0" x="58.2" y="89.3"/><use href="#g0" x="148.1" y="89.5"/><use href="#g0" x="132.3" y="89.6"/><use href="#g0" x="4.9" y="89.6"/><use href="#g0" x="92.7" y="89.6"/><use href="#g0" x="102.9" y="89.8"/><use href="#g0" x="127.6" y="90"/><use href="#g0" x="77" y="90.3"/><use href="#g0" x="12.8" y="90.4"/><use href="#g0" x="106.6" y="90.4"/><use href="#g0" x="15.5" y="90.5"/><use href="#g0" x="29.5" y="90.6"/><use href="#g0" x="32.1" y="90.7"/><use href="#g0" x="23" y="90.8"/><use href="#g0" x="135.3" y="90.8"/><use href="#g0" x="2" y="91"/><use href="#g0" x="141" y="91.2"/><use href="#g0" x="85" y="91.4"/><use href="#g0" x="66.5" y="91.7"/><use href="#g0" x="89" y="91.7"/><use href="#g0" x="56.1" y="91.8"/><use href="#g0" x="38.7" y="92"/><use href="#g0" x="2.5" y="92.2"/><use href="#g0" x="20" y="92.3"/><use href="#g0" x="79.8" y="92.3"/><use href="#g0" x="104" y="92.4"/><use href="#g0" x="74.9" y="92.6"/><use href="#g0" x="7.8" y="92.8"/><use href="#g0" x="50" y="92.9"/><use href="#g0" x="133.4" y="93"/><use href="#g0" x="17.1" y="93"/><use href="#g0" x="10.3" y="93"/><use href="#g0" x="27.4" y="93.1"/><use href="#g0" x="143.5" y="93.1"/><use href="#g0" x="58.6" y="93.2"/><use href="#g0" x="97" y="93.2"/><use href="#g0" x="43.2" y="93.3"/><use href="#g0" x="2.3" y="93.7"/><use href="#g0" x="32.6" y="93.7"/><use href="#g0" x="122.7" y="93.7"/><use href="#g0" x="131.3" y="93.9"/><use href="#g0" x="92" y="93.9"/><use href="#g0" x="68.8" y="94.4"/><use href="#g0" x="139.6" y="94.5"/><use href="#g0" x="54.3" y="94.6"/><use href="#g0" x="112.3" y="94.7"/><use href="#g0" x="147.8" y="94.9"/><use href="#g0" x="14.9" y="94.9"/><use href="#g0" x="11.9" y="94.9"/><use href="#g0" x="48" y="95.2"/><use href="#g0" x="24.3" y="95.2"/><use href="#g0" x="18.9" y="95.3"/><use href="#g0" x="100.2" y="95.3"/><use href="#g0" x="124.5" y="95.4"/><use href="#g0" x="60.3" y="95.6"/><use href="#g0" x="85.3" y="95.6"/><use href="#g0" x="40" y="95.7"/><use href="#g0" x="137.1" y="96"/><use href="#g0" x="2" y="96.4"/><use href="#g0" x="30.4" y="96.4"/><use href="#g0" x="42.5" y="96.5"/><use href="#g0" x="83.1" y="96.7"/><use href="#g0" x="3.4" y="97.1"/><use href="#g0" x="145.3" y="97.2"/><use href="#g0" x="127.4" y="97.4"/><use href="#g0" x="63.2" y="97.4"/><use href="#g0" x="114.3" y="97.9"/><use href="#g0" x="19.6" y="97.9"/><use href="#g0" x="49.7" y="97.9"/><use href="#g0" x="32.7" y="98.1"/><use href="#g0" x="44.2" y="98.7"/><use href="#g0" x="78.3" y="98.8"/><use href="#g0" x="137.5" y="98.9"/><use href="#g0" x="2" y="99.1"/><use href="#g0" x="129.6" y="99.1"/><use href="#g0" x="61" y="99.2"/><use href="#g0" x="28.1" y="99.3"/><use href="#g0" x="96.7" y="99.5"/><use href="#g0" x="65.3" y="99.6"/><use href="#g0" x="141.1" y="99.7"/><use href="#g0" x="46.7" y="99.8"/><use href="#g0" x="93.1" y="99.8"/><use href="#g0" x="144.7" y="99.9"/><use href="#g0" x="148" y="100.3"/><use href="#g0" x="2.9" y="100.3"/><use href="#g0" x="15.4" y="100.3"/><use href="#g0" x="105.5" y="100.6"/><use href="#g0" x="109.4" y="101.1"/><use href="#g0" x="63.3" y="101.6"/><use href="#g0" x="53.2" y="101.7"/><use href="#g0" x="130.6" y="101.7"/><use href="#g0" x="2.2" y="101.8"/><use href="#g0" x="75" y="101.9"/><use href="#g0" x="81.7" y="102"/><use href="#g0" x="145.7" y="102.4"/><use href="#g0" x="3.9" y="102.8"/><use href="#g0" x="60.4" y="102.9"/><use href="#g0" x="16.7" y="103"/><use href="#g0" x="134.7" y="103.2"/><use href="#g0" x="8.7" y="103.3"/><use href="#g0" x="78.2" y="103.4"/><use href="#g0" x="50.6" y="103.4"/><use href="#g0" x="92.6" y="103.4"/><use href="#g0" x="120.4" y="103.5"/><use href="#g0" x="47.8" y="103.5"/><use href="#g0" x="104.9" y="103.7"/><use href="#g0" x="13.7" y="103.7"/><use href="#g0" x="6" y="103.9"/><use href="#g0" x="147.9" y="104"/><use href="#g0" x="128.5" y="104"/><use href="#g0" x="19.4" y="104.2"/><use href="#g0" x="117.2" y="104.2"/><use href="#g0" x="2.3" y="104.5"/><use href="#g0" x="83" y="104.6"/><use href="#g0" x="63.7" y="104.9"/><use href="#g0" x="95.2" y="105.1"/><use href="#g0" x="123.6" y="105.1"/><use href="#g0" x="26.5" y="105.3"/><use href="#g0" x="58.7" y="105.6"/><use href="#g0" x="87.4" y="105.6"/><use href="#g0" x="148.1" y="105.7"/><use href="#g0" x="85.1" y="105.9"/><use href="#g0" x="41.7" y="106"/><use href="#g0" x="113.5" y="106.2"/><use href="#g0" x="56.5" y="106.3"/><use href="#g0" x="61.3" y="106.5"/><use href="#g0" x="17.9" y="106.5"/><use href="#g0" x="2.1" y="106.6"/><use href="#g0" x="137.6" y="106.7"/><use href="#g0" x="24.1" y="106.7"/><use href="#g0" x="29.2" y="106.8"/><use href="#g0" x="90.7" y="106.8"/><use href="#g0" x="109.3" y="106.9"/><use href="#g0" x="117.9" y="107"/><use href="#g0" x="2.3" y="107.2"/><use href="#g0" x="8.3" y="107.6"/><use href="#g0" x="49.1" y="107.6"/><use href="#g0" x="72.6" y="107.8"/><use href="#g0" x="32.1" y="108"/><use href="#g0" x="79.4" y="108.1"/><use href="#g0" x="51.4" y="108.4"/><use href="#g0" x="121.2" y="108.5"/><use href="#g0" x="45.9" y="108.5"/><use href="#g0" x="87.4" y="109"/><use href="#g0" x="26.1" y="109.1"/><use href="#g0" x="60.7" y="109.2"/><use href="#g0" x="124.7" y="109.3"/><use href="#g0" x="140.3" y="109.4"/><use href="#g0" x="29.1" y="109.6"/><use href="#g0" x="116.1" y="109.6"/><use href="#g0" x="65.4" y="109.7"/><use href="#g0" x="55" y="109.7"/><use href="#g0" x="2.2" y="109.9"/><use href="#g0" x="23.1" y="109.9"/><use href="#g0" x="11" y="110"/><use href="#g0" x="15" y="110.3"/><use href="#g0" x="129.1" y="110.3"/><use href="#g0" x="132.4" y="110.4"/><use href="#g0" x="113" y="110.5"/><use href="#g0" x="108.3" y="110.7"/><use href="#g0" x="43" y="110.8"/><use href="#g0" x="58.4" y="110.9"/><use href="#g0" x="122.4" y="111"/><use href="#g0" x="118.4" y="111"/><use href="#g0" x="147.9" y="111.1"/><use href="#g0" x="72.1" y="111.3"/><use href="#g0" x="69" y="112.1"/><use href="#g0" x="8.9" y="112.3"/><use href="#g0" x="87.6" y="112.3"/><use href="#g0" x="27.3" y="112.3"/><use href="#g0" x="12.9" y="112.4"/><use href="#g0" x="147" y="112.5"/><use href="#g0" x="2" y="112.6"/><use href="#g0" x="38.1" y="112.6"/><use href="#g0" x="114.5" y="112.6"/><use href="#g0" x="76.1" y="112.6"/><use href="#g0" x="54.3" y="112.7"/><use href="#g0" x="129.7" y="112.7"/><use href="#g0" x="21.7" y="112.9"/><use href="#g0" x="5.9" y="112.9"/><use href="#g0" x="106.6" y="113"/><use href="#g0" x="84.6" y="113.2"/><use href="#g0" x="57.3" y="113.4"/><use href="#g0" x="137.2" y="114.3"/><use href="#g0" x="91.6" y="114.3"/><use href="#g0" x="65.8" y="114.4"/><use href="#g0" x="134" y="114.4"/><use href="#g0" x="102.5" y="114.8"/><use href="#g0" x="1.9" y="115.3"/><use href="#g0" x="88.6" y="115.4"/><use href="#g0" x="27.1" y="115.4"/><use href="#g0" x="118.1" y="115.4"/><use href="#g0" x="129" y="115.5"/><use href="#g0" x="70.8" y="115.5"/><use href="#g0" x="37" y="115.6"/><use href="#g0" x="57.5" y="115.8"/><use href="#g0" x="84.4" y="115.9"/><use href="#g0" x="4.9" y="115.9"/><use href="#g0" x="147.7" y="116.5"/></g>
</defs>
<line x1="24.6" y1="227.5" x2="24.6" y2="352.5" stroke="#d2d2d2" stroke-width="0.6"/><line x1="170.9" y1="227.5" x2="170.9" y2="352.5" stroke="#d2d2d2" stroke-width="0.7"/>
<g><use href="#osheet" transform="translate(23.40,232.40) scale(0.9893,0.9941)"/></g>
<line x1="189.4" y1="221.5" x2="189.4" y2="354.5" stroke="#d2d2d2" stroke-width="0.6"/><line x1="338.0" y1="221.5" x2="338.0" y2="354.5" stroke="#d2d2d2" stroke-width="0.7"/>
<g><use href="#osheet" transform="translate(339.20,229.90) scale(-1.0067,1.0229)"/></g>
<use href="#o1" x="262.6" y="234.5"/><use href="#o1" x="287.7" y="234.4"/><use href="#o1" x="256.8" y="234.2"/><use href="#o1" x="270.4" y="234.2"/><use href="#o1" x="299.2" y="233.9"/><use href="#o1" x="294.1" y="233.1"/><use href="#o1" x="244.3" y="232.8"/><use href="#o1" x="252.6" y="232.4"/><use href="#o1" x="282.3" y="231.9"/><use href="#o1" x="268.1" y="231.6"/><use href="#o0" x="281.4" y="234.4"/><use href="#o0" x="250.9" y="234.4"/><use href="#o0" x="274.9" y="234.4"/><use href="#o0" x="284.4" y="234.3"/><use href="#o0" x="254.3" y="234.2"/><use href="#o0" x="267.3" y="234.2"/><use href="#o0" x="246.5" y="234"/><use href="#o0" x="296.6" y="234"/><use href="#o0" x="241.7" y="233.6"/><use href="#o0" x="277.4" y="233.6"/><use href="#o0" x="272.6" y="232.9"/><use href="#o0" x="290.3" y="232.8"/><use href="#o0" x="258.9" y="232.7"/><use href="#o0" x="248.7" y="232.4"/><use href="#o0" x="285.6" y="232.1"/><use href="#o0" x="256.1" y="231.9"/><use href="#o0" x="275.6" y="231.8"/><use href="#o0" x="264.4" y="231.6"/><use href="#o0" x="261.7" y="231.5"/>
<line x1="354.6" y1="227" x2="354.6" y2="353" stroke="#d2d2d2" stroke-width="0.6"/><line x1="504.9" y1="227" x2="504.9" y2="353" stroke="#d2d2d2" stroke-width="0.7"/>
<g><use href="#osheet" transform="translate(352.80,349.20) scale(1.0213,-1.0136)"/></g>
<line x1="521.5" y1="226" x2="521.5" y2="353" stroke="#d2d2d2" stroke-width="0.6"/><line x1="669.8" y1="226" x2="669.8" y2="353" stroke="#d2d2d2" stroke-width="0.7"/>
<g><use href="#osheet" transform="translate(671.50,351.40) scale(-1.0073,-1.0068)"/></g>
<clipPath id="cC"><path d="M385.5 330.5 L383.3 318 L387.5 308 L391.9 303.8 L399.4 292.5 L405 281.8 L412.5 275.8 L421.9 270.5 L427 264.5 L431.3 258.8 L438.8 253.3 L445 251 L450 252.3 L453.5 257.5 L457.5 256.5 L463.1 252.2 L467.2 250.4 L471 254.5 L475.5 259.9 L482 261.5 L487.7 263.3 L496.4 261.6 L501.8 268.6 L499 275 L498.8 282 L503.6 294.7 L505.3 312.1 L504 333.1 L497 336.5 L489.4 337.4 L470 338.5 L454.6 339 L437 338 L419.7 337 L405 336.2 L395.3 334.8Z"/></clipPath>
<g clip-path="url(#cC)"><use href="#gsheet" transform="translate(349.80,226.60) scale(1.0613,1.0644)"/></g>
<use href="#g1" x="386.1" y="330.2"/><use href="#g1" x="384.5" y="324.6"/><use href="#g1" x="382.4" y="318.8"/><use href="#g1" x="385.3" y="311.5"/><use href="#g1" x="388" y="306.1"/><use href="#g1" x="392.1" y="302.8"/><use href="#g1" x="396.3" y="295.8"/><use href="#g1" x="400" y="291.7"/><use href="#g1" x="403.6" y="286.7"/><use href="#g1" x="406.6" y="281"/><use href="#g1" x="411.6" y="275.6"/><use href="#g1" x="418.4" y="273.3"/><use href="#g1" x="421.9" y="269.2"/><use href="#g1" x="427.1" y="263.7"/><use href="#g1" x="429.6" y="258.9"/><use href="#g1" x="436.8" y="254.6"/><use href="#g1" x="440.2" y="253.4"/><use href="#g1" x="448" y="251.9"/><use href="#g1" x="452.2" y="254.9"/><use href="#g1" x="456.3" y="255.6"/><use href="#g1" x="462.4" y="253.5"/><use href="#g1" x="467.4" y="251.1"/><use href="#g1" x="471.5" y="256.4"/><use href="#g1" x="478" y="261.3"/><use href="#g1" x="484.9" y="262.3"/><use href="#g1" x="491" y="262.9"/><use href="#g1" x="496.3" y="262.1"/><use href="#g1" x="501.4" y="268.3"/><use href="#g1" x="500" y="274.1"/><use href="#g1" x="498.9" y="279.4"/><use href="#g1" x="500" y="285.7"/><use href="#g1" x="502.2" y="292.6"/><use href="#g1" x="503.6" y="329.3"/><use href="#g1" x="498.6" y="335.4"/><use href="#g1" x="492.3" y="337.3"/><use href="#g1" x="485.7" y="338.5"/><use href="#g1" x="479.1" y="337.5"/><use href="#g1" x="474.2" y="338.9"/><use href="#g1" x="467.5" y="339.4"/><use href="#g1" x="459" y="339"/><use href="#g1" x="451.8" y="338"/><use href="#g1" x="447" y="338.2"/><use href="#g1" x="440.5" y="337.8"/><use href="#g1" x="434.9" y="337.2"/><use href="#g1" x="427.8" y="336.9"/><use href="#g1" x="421.4" y="336.9"/><use href="#g1" x="414.8" y="336.8"/><use href="#g1" x="408.9" y="335.4"/><use href="#g1" x="402.5" y="336.3"/><use href="#g1" x="394.7" y="334.2"/><use href="#g1" x="389.7" y="332.2"/><use href="#g0" x="385.6" y="326.8"/><use href="#g0" x="384.2" y="321.5"/><use href="#g0" x="385.1" y="315.2"/><use href="#g0" x="387.5" y="309.3"/><use href="#g0" x="390.9" y="304.7"/><use href="#g0" x="395.6" y="299.5"/><use href="#g0" x="399.2" y="293.7"/><use href="#g0" x="400.9" y="289"/><use href="#g0" x="405.5" y="282.6"/><use href="#g0" x="409.2" y="279.1"/><use href="#g0" x="415.2" y="274.1"/><use href="#g0" x="419.9" y="272"/><use href="#g0" x="425.5" y="268.1"/><use href="#g0" x="429.5" y="262.4"/><use href="#g0" x="432.6" y="257"/><use href="#g0" x="439" y="252.7"/><use href="#g0" x="443.9" y="251.2"/><use href="#g0" x="450" y="253.6"/><use href="#g0" x="453.7" y="256.8"/><use href="#g0" x="458.6" y="255.7"/><use href="#g0" x="465.5" y="251.3"/><use href="#g0" x="469.3" y="254"/><use href="#g0" x="475.1" y="258.2"/><use href="#g0" x="481.9" y="261.2"/><use href="#g0" x="487.2" y="264"/><use href="#g0" x="493.6" y="261.2"/><use href="#g0" x="498.3" y="266"/><use href="#g0" x="500.1" y="270.8"/><use href="#g0" x="498.3" y="277.3"/><use href="#g0" x="498.3" y="283.2"/><use href="#g0" x="500.5" y="289.4"/><use href="#g0" x="502.8" y="294.1"/><use href="#g0" x="502.7" y="333.6"/><use href="#g0" x="495.3" y="336.3"/><use href="#g0" x="489.4" y="337.3"/><use href="#g0" x="483.4" y="337.3"/><use href="#g0" x="477" y="338.3"/><use href="#g0" x="470.6" y="338.6"/><use href="#g0" x="464.3" y="338.6"/><use href="#g0" x="456.1" y="339.7"/><use href="#g0" x="450.6" y="339"/><use href="#g0" x="443.3" y="339.2"/><use href="#g0" x="436.6" y="338.8"/><use href="#g0" x="430.2" y="337.8"/><use href="#g0" x="423.5" y="338.1"/><use href="#g0" x="417.5" y="337.4"/><use href="#g0" x="411.5" y="336.6"/><use href="#g0" x="404.8" y="336.6"/><use href="#g0" x="399.7" y="334.4"/><use href="#g0" x="392.8" y="333.5"/><use href="#g0" x="386.6" y="331"/>
<use href="#g0" x="378.5" y="331"/><use href="#g0" x="375.5" y="334.5"/><use href="#g0" x="372.8" y="332.2"/><use href="#g0" x="363.5" y="328.5"/><use href="#g0" x="395.5" y="249.5"/><use href="#g0" x="390.4" y="286.5"/><use href="#g0" x="388.5" y="289.6"/><use href="#g0" x="419.6" y="262.8"/><use href="#g0" x="360.2" y="316.5"/><use href="#g0" x="366" y="303.5"/>
<clipPath id="cD"><path d="M520.4 243.5 L523.4 244.1 L526.4 244.9 L529.4 244.8 L532.4 244.3 L535.4 244.2 L538.4 245.4 L541.4 246.2 L544.4 246.4 L547.4 246.8 L550.4 246.7 L553.4 246.1 L556.4 245.9 L559.4 245 L562.4 244.3 L565.4 244.6 L568.4 244.9 L571.4 245.1 L574.4 245.7 L577.4 245.8 L580.4 244.7 L583.4 243.9 L586.4 244.8 L589.4 246.1 L592.4 245.6 L595.4 243.8 L598.4 243.4 L601.4 245.4 L604.4 246.9 L607.4 246.2 L610.4 245.3 L613.4 245.4 L616.4 245.9 L619.4 246.1 L622.4 245.7 L625.4 245.4 L628.4 245.8 L631.4 246.3 L634.4 246.1 L637.4 245 L640.4 244.6 L643.4 243.9 L646.4 243.4 L649.4 243.5 L652.4 243.8 L655.4 244.3 L658.4 245.6 L661.4 246 L664.4 246.6 L667.4 246.9 L670.4 245.7 L670.4 339.3 L667.4 338 L664.4 339.2 L661.4 340.9 L658.4 341.1 L655.4 341.3 L652.4 341.2 L649.4 339.8 L646.4 338.7 L643.4 338.4 L640.4 338 L637.4 338.3 L634.4 339.2 L631.4 339.4 L628.4 339 L625.4 338.6 L622.4 339.5 L619.4 340.7 L616.4 340.5 L613.4 339.4 L610.4 339 L607.4 338.2 L604.4 337.7 L601.4 337.7 L598.4 337.8 L595.4 338.4 L592.4 340.3 L589.4 340.7 L586.4 339.3 L583.4 338.3 L580.4 338.7 L577.4 339.2 L574.4 339.3 L571.4 339.5 L568.4 339.6 L565.4 340.7 L562.4 341.4 L559.4 340.7 L556.4 339.7 L553.4 339.7 L550.4 339.9 L547.4 339.9 L544.4 339.3 L541.4 338.9 L538.4 338.6 L535.4 338.1 L532.4 338.6 L529.4 340.1 L526.4 340.5 L523.4 339.4 L520.4 338.5Z"/></clipPath>
<g clip-path="url(#cD)"><use href="#gsheet" transform="translate(672.00,226.60) scale(-1.0140,1.1085)"/></g>
<use href="#g1" x="524.8" y="245"/><use href="#g1" x="531.8" y="244.6"/><use href="#g1" x="537.1" y="244.1"/><use href="#g1" x="542.8" y="246.7"/><use href="#g1" x="549.2" y="246.5"/><use href="#g1" x="557.2" y="246.7"/><use href="#g1" x="563" y="243.5"/><use href="#g1" x="568.5" y="244.1"/><use href="#g1" x="575.7" y="246.4"/><use href="#g1" x="581.8" y="244.1"/><use href="#g1" x="588" y="245.4"/><use href="#g1" x="593.9" y="245.3"/><use href="#g1" x="600.5" y="244.2"/><use href="#g1" x="607.1" y="246"/><use href="#g1" x="613.8" y="245.2"/><use href="#g1" x="620.2" y="247"/><use href="#g1" x="627.2" y="246.1"/><use href="#g1" x="631.3" y="245.3"/><use href="#g1" x="638.3" y="244.5"/><use href="#g1" x="644.4" y="243.7"/><use href="#g1" x="651.7" y="244.5"/><use href="#g1" x="657.8" y="245.3"/><use href="#g1" x="663.1" y="247.4"/><use href="#g1" x="523.3" y="339.5"/><use href="#g1" x="530.7" y="340"/><use href="#g1" x="535.6" y="339.1"/><use href="#g1" x="543.4" y="338.2"/><use href="#g1" x="548.1" y="339.8"/><use href="#g1" x="555.2" y="340.5"/><use href="#g1" x="561.1" y="341.8"/><use href="#g1" x="568.5" y="339"/><use href="#g1" x="575.4" y="339.1"/><use href="#g1" x="581.4" y="338.4"/><use href="#g1" x="587.5" y="339.8"/><use href="#g1" x="593.8" y="338.4"/><use href="#g1" x="599.4" y="337.4"/><use href="#g1" x="605.6" y="337.2"/><use href="#g1" x="612.7" y="339.8"/><use href="#g1" x="619.9" y="339.9"/><use href="#g1" x="624.4" y="338.6"/><use href="#g1" x="631.5" y="339.4"/><use href="#g1" x="638.3" y="338.2"/><use href="#g1" x="643.6" y="339.3"/><use href="#g1" x="649.5" y="340.5"/><use href="#g1" x="656.2" y="341.6"/><use href="#g1" x="662.6" y="340.3"/><use href="#g1" x="668.8" y="337.4"/><use href="#g0" x="528.2" y="244.1"/><use href="#g0" x="533.1" y="244.2"/><use href="#g0" x="539.6" y="246.6"/><use href="#g0" x="546.5" y="245.7"/><use href="#g0" x="552.2" y="247.1"/><use href="#g0" x="559.6" y="245.8"/><use href="#g0" x="565.2" y="244.7"/><use href="#g0" x="571.1" y="245.6"/><use href="#g0" x="578.7" y="245.5"/><use href="#g0" x="584" y="243.8"/><use href="#g0" x="590.2" y="246.6"/><use href="#g0" x="597.8" y="242.8"/><use href="#g0" x="602.2" y="245.2"/><use href="#g0" x="610.3" y="245.1"/><use href="#g0" x="616.1" y="245.6"/><use href="#g0" x="622.3" y="245.7"/><use href="#g0" x="629.5" y="245.3"/><use href="#g0" x="636.1" y="245.3"/><use href="#g0" x="640.1" y="245.3"/><use href="#g0" x="647.5" y="243.2"/><use href="#g0" x="655.4" y="244.8"/><use href="#g0" x="659.8" y="245.6"/><use href="#g0" x="667.6" y="247"/><use href="#g0" x="525.7" y="340.3"/><use href="#g0" x="533.1" y="339.1"/><use href="#g0" x="540.1" y="338.6"/><use href="#g0" x="546.1" y="339.1"/><use href="#g0" x="551.8" y="339"/><use href="#g0" x="558" y="340.1"/><use href="#g0" x="565.6" y="341.4"/><use href="#g0" x="571" y="339.6"/><use href="#g0" x="578" y="339.5"/><use href="#g0" x="585.1" y="338.9"/><use href="#g0" x="591" y="339.5"/><use href="#g0" x="596.6" y="337.5"/><use href="#g0" x="602.7" y="336.7"/><use href="#g0" x="608.6" y="338.2"/><use href="#g0" x="616.7" y="340.4"/><use href="#g0" x="621.3" y="338.6"/><use href="#g0" x="628" y="339.3"/><use href="#g0" x="634.7" y="338.5"/><use href="#g0" x="640.3" y="337.4"/><use href="#g0" x="647.1" y="338.8"/><use href="#g0" x="653.7" y="340.7"/><use href="#g0" x="659.7" y="341.9"/><use href="#g0" x="665.9" y="337.8"/>
<use href="#o0" x="523" y="306.5"/><use href="#o0" x="525.6" y="309.2"/><use href="#o0" x="523.2" y="312"/><use href="#o0" x="526.5" y="313.4"/><use href="#o0" x="523.4" y="316.6"/>
<use href="#g1" x="49.7" y="249.9"/><use href="#g1" x="93.4" y="256.3"/><use href="#g1" x="103.8" y="268.2"/><use href="#g1" x="114.5" y="252.7"/><use href="#g1" x="89.2" y="282.3"/><use href="#g1" x="97.6" y="307.6"/><use href="#g1" x="62.4" y="311"/><use href="#g1" x="59.6" y="317.9"/><use href="#g1" x="58.2" y="321"/><use href="#g1" x="54.8" y="328.7"/><use href="#g1" x="117.9" y="316.1"/><use href="#g1" x="138.7" y="318.9"/><use href="#g1" x="168" y="330.1"/><use href="#g1" x="82.1" y="264.8"/><use href="#g1" x="47.5" y="285.1"/><use href="#g0" x="51.1" y="254.1"/><use href="#g0" x="100.4" y="259.2"/><use href="#g0" x="106" y="271.4"/><use href="#g0" x="117.5" y="253.2"/><use href="#g0" x="94.8" y="283.1"/><use href="#g0" x="101.8" y="303.4"/><use href="#g0" x="61" y="313.8"/><use href="#g0" x="62.6" y="316"/><use href="#g0" x="66.6" y="318.9"/><use href="#g0" x="57.6" y="330.9"/><use href="#g0" x="127.2" y="327.3"/><use href="#g0" x="142.1" y="318.3"/><use href="#g0" x="169.5" y="327"/><use href="#g0" x="24.9" y="302.5"/><use href="#g0" x="116.9" y="300.6"/><use href="#g0" x="51.1" y="258.3"/><use href="#g0" x="103.8" y="263.9"/><use href="#g0" x="107.5" y="274.8"/><use href="#g0" x="110.8" y="260.3"/><use href="#g0" x="94.2" y="305.4"/><use href="#g0" x="63.8" y="307.6"/><use href="#g0" x="56.8" y="315.5"/><use href="#g0" x="65.4" y="313.4"/><use href="#g0" x="44.1" y="324.5"/><use href="#g0" x="61" y="332.8"/><use href="#g0" x="135.6" y="319.4"/><use href="#g0" x="166.6" y="324.5"/><use href="#g0" x="159.6" y="290.1"/><use href="#g0" x="25.4" y="327.5"/><use href="#g0" x="83.4" y="340"/>
<use href="#g2" x="205.9" y="257.1"/><use href="#g2" x="289.6" y="244.2"/><use href="#g2" x="240.8" y="334.8"/><use href="#g2" x="243.6" y="334.1"/><use href="#g2" x="258.9" y="310.4"/><use href="#g1" x="190.2" y="248.7"/><use href="#g1" x="231" y="272.1"/><use href="#g1" x="230.3" y="277.3"/><use href="#g1" x="282.6" y="256.4"/><use href="#g1" x="247.7" y="302.6"/><use href="#g1" x="237.3" y="319.8"/><use href="#g1" x="335.6" y="325.4"/><use href="#g0" x="201.7" y="258.1"/><use href="#g0" x="235.5" y="273.1"/><use href="#g0" x="242.5" y="283.6"/><use href="#g0" x="247" y="295.8"/><use href="#g0" x="190.2" y="321.9"/><use href="#g0" x="326.2" y="279"/><use href="#g0" x="337.7" y="329.6"/><use href="#g0" x="233.1" y="266.1"/><use href="#g0" x="214.6" y="279"/><use href="#g0" x="268.7" y="276.6"/><use href="#g0" x="245" y="299.9"/><use href="#g0" x="240.1" y="317.4"/><use href="#g0" x="337.3" y="287.7"/><use href="#g0" x="287.8" y="296.5"/>
<g fill="#587a0c"><circle cx="287.1" cy="297.7" r="2.4"/><circle cx="297.2" cy="310.5" r="8.9"/><circle cx="311.3" cy="304.2" r="4.7"/><circle cx="281.3" cy="308.5" r="2.2"/><circle cx="295.8" cy="321.5" r="3.6"/><circle cx="307.9" cy="322.6" r="2.2"/><circle cx="303.9" cy="299.8" r="3.2"/><circle cx="314.0" cy="311.5" r="1.9"/></g>
<g><ellipse cx="290.7" cy="304.0" rx="2.6" ry="3.0" fill="#36500a"/><ellipse cx="305.3" cy="305.8" rx="2.6" ry="3.0" fill="#36500a"/><ellipse cx="293.4" cy="318.6" rx="2.6" ry="3.0" fill="#36500a"/><ellipse cx="308.6" cy="315.8" rx="2.6" ry="3.0" fill="#36500a"/></g>
<use href="#g1" x="288.8" y="294"/><use href="#g1" x="287.5" y="296.4"/><use href="#g1" x="285.3" y="298"/><use href="#g1" x="312.4" y="299.5"/><use href="#g1" x="309.4" y="301"/><use href="#g1" x="304.7" y="301.4"/><use href="#g1" x="312.5" y="302.7"/><use href="#g1" x="310.2" y="303.8"/><use href="#g1" x="300.8" y="304.8"/><use href="#g1" x="287.8" y="305.9"/><use href="#g1" x="298.6" y="306.6"/><use href="#g1" x="284.7" y="307.7"/><use href="#g1" x="315.7" y="308.3"/><use href="#g1" x="277.4" y="308.9"/><use href="#g1" x="298.7" y="309.5"/><use href="#g1" x="290.8" y="310.7"/><use href="#g1" x="317.6" y="311.3"/><use href="#g1" x="314.9" y="312.8"/><use href="#g1" x="291.8" y="313.5"/><use href="#g1" x="299.1" y="314.2"/><use href="#g1" x="294.4" y="315.8"/><use href="#g1" x="309.1" y="318.7"/><use href="#g1" x="290.5" y="320.3"/><use href="#g1" x="308.2" y="322.1"/><use href="#g1" x="291.5" y="324.8"/><use href="#g1" x="294.1" y="325.1"/><use href="#g0" x="285.2" y="294.3"/><use href="#g0" x="305.4" y="295.8"/><use href="#g0" x="290.4" y="296.8"/><use href="#g0" x="301.7" y="297.6"/><use href="#g0" x="308.5" y="298.2"/><use href="#g0" x="304.5" y="298.2"/><use href="#g0" x="289.2" y="300"/><use href="#g0" x="315.1" y="300.2"/><use href="#g0" x="291.9" y="301.2"/><use href="#g0" x="287" y="301.3"/><use href="#g0" x="299.7" y="301.7"/><use href="#g0" x="295.7" y="302.4"/><use href="#g0" x="315.1" y="303.6"/><use href="#g0" x="303.2" y="303.8"/><use href="#g0" x="293" y="304.4"/><use href="#g0" x="307.4" y="304.6"/><use href="#g0" x="282.9" y="305.6"/><use href="#g0" x="280.3" y="305.7"/><use href="#g0" x="313.9" y="306"/><use href="#g0" x="295.8" y="306"/><use href="#g0" x="310" y="306.8"/><use href="#g0" x="292.1" y="307.5"/><use href="#g0" x="301.5" y="308.1"/><use href="#g0" x="289.4" y="308.2"/><use href="#g0" x="308" y="308.8"/><use href="#g0" x="295.7" y="308.8"/><use href="#g0" x="280" y="308.9"/><use href="#g0" x="303.8" y="309.4"/><use href="#g0" x="287.5" y="310.1"/><use href="#g0" x="311" y="310.4"/><use href="#g0" x="301" y="311"/><use href="#g0" x="294" y="311"/><use href="#g0" x="282" y="311.4"/><use href="#g0" x="303.5" y="312.7"/><use href="#g0" x="307.4" y="313"/><use href="#g0" x="311.2" y="313.1"/><use href="#g0" x="295.9" y="313.6"/><use href="#g0" x="289.2" y="313.9"/><use href="#g0" x="304.4" y="315.6"/><use href="#g0" x="301.5" y="315.8"/><use href="#g0" x="290.4" y="317"/><use href="#g0" x="297.4" y="318.7"/><use href="#g0" x="301.7" y="319.3"/><use href="#g0" x="306.7" y="319.8"/><use href="#g0" x="310.8" y="320.9"/><use href="#g0" x="299.4" y="321.9"/><use href="#g0" x="305.2" y="322.2"/><use href="#g0" x="294.9" y="322.4"/><use href="#g0" x="309.8" y="324.9"/><use href="#g0" x="306.5" y="325.1"/><use href="#g0" x="297.5" y="326.2"/>
<circle cx="97.5" cy="215.9" r="10" fill="#000" stroke="#1b2a55" stroke-width="0.7"/>
<text transform="translate(97.5,223.90) scale(0.97,1)" font-size="21.3" text-anchor="middle" fill="#fff" stroke="#fff" stroke-width="1.00">A</text>
<circle cx="268.1" cy="215.3" r="10" fill="#000" stroke="#1b2a55" stroke-width="0.7"/>
<text transform="translate(268.1,223.30) scale(0.97,1)" font-size="21.3" text-anchor="middle" fill="#fff" stroke="#fff" stroke-width="1.00">B</text>
<circle cx="441.1" cy="215.3" r="10" fill="#000" stroke="#1b2a55" stroke-width="0.7"/>
<text transform="translate(441.1,223.30) scale(0.97,1)" font-size="21.3" text-anchor="middle" fill="#fff" stroke="#fff" stroke-width="1.00">C</text>
<circle cx="601.6" cy="215.3" r="10" fill="#000" stroke="#1b2a55" stroke-width="0.7"/>
<text transform="translate(601.6,223.30) scale(0.97,1)" font-size="21.3" text-anchor="middle" fill="#fff" stroke="#fff" stroke-width="1.00">D</text>
</svg>
</body></html>
